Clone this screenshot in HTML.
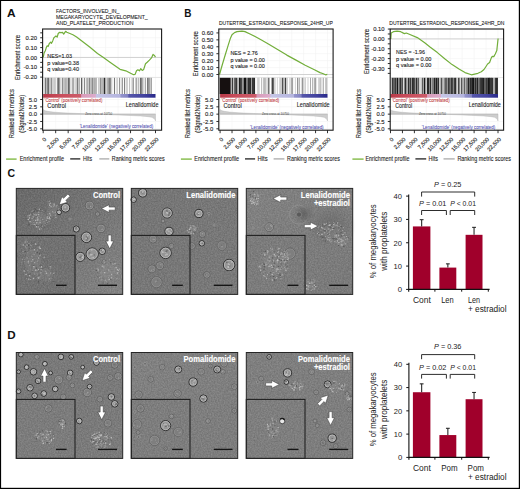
<!DOCTYPE html>
<html><head><meta charset="utf-8"><title>Figure</title><style>
html,body{margin:0;padding:0;background:#fff;width:520px;height:489px;overflow:hidden}
svg{display:block}
text{font-family:"Liberation Sans",sans-serif}
</style></head><body>
<svg width="520" height="489" viewBox="0 0 520 489">
<defs>
<linearGradient id="cb" x1="0" x2="1" y1="0" y2="0">
<stop offset="0" stop-color="#b83a48"/><stop offset="0.15" stop-color="#c84c5a"/><stop offset="0.335" stop-color="#cc5c6a"/>
<stop offset="0.342" stop-color="#d89ab8"/><stop offset="0.465" stop-color="#dcaccc"/>
<stop offset="0.472" stop-color="#c6c6e6"/><stop offset="0.685" stop-color="#b4b4de"/>
<stop offset="0.692" stop-color="#9494cc"/><stop offset="0.755" stop-color="#8282c2"/>
<stop offset="0.762" stop-color="#5656aa"/><stop offset="0.9" stop-color="#42429e"/><stop offset="1" stop-color="#282889"/>
</linearGradient>
<radialGradient id="bub"><stop offset="0" stop-color="#505050" stop-opacity="0.6"/><stop offset="0.5" stop-color="#5a5a5a" stop-opacity="0.35"/><stop offset="1" stop-color="#7a7a7a" stop-opacity="0"/></radialGradient>
<filter id="nf" x="0" y="0" width="100%" height="100%" color-interpolation-filters="sRGB"><feTurbulence type="fractalNoise" baseFrequency="0.7" numOctaves="2" seed="3"/><feColorMatrix type="matrix" values="1 0 0 0 0  1 0 0 0 0  1 0 0 0 0  0 0 0 0 1"/></filter>
<pattern id="noise" patternUnits="userSpaceOnUse" width="120" height="120"><rect width="120" height="120" filter="url(#nf)"/></pattern>
<linearGradient id="mg16_188" x1="0" y1="0" x2="1" y2="1"><stop offset="0" stop-color="#656565"/><stop offset="1" stop-color="#848484"/></linearGradient>
<linearGradient id="mg131_188" x1="0" y1="0" x2="1" y2="1"><stop offset="0" stop-color="#747474"/><stop offset="1" stop-color="#787878"/></linearGradient>
<linearGradient id="mg246_188" x1="0" y1="0" x2="1" y2="1"><stop offset="0" stop-color="#828282"/><stop offset="1" stop-color="#787878"/></linearGradient>
<linearGradient id="mg16_352" x1="0" y1="0" x2="1" y2="1"><stop offset="0" stop-color="#787878"/><stop offset="1" stop-color="#7a7a7a"/></linearGradient>
<linearGradient id="mg131_352" x1="0" y1="0" x2="1" y2="1"><stop offset="0" stop-color="#828282"/><stop offset="1" stop-color="#7c7c7c"/></linearGradient>
<linearGradient id="mg246_352" x1="0" y1="0" x2="1" y2="1"><stop offset="0" stop-color="#7f7f7f"/><stop offset="1" stop-color="#7d7d7d"/></linearGradient></defs>
<rect x="0" y="0" width="520" height="489" fill="#000"/>
<rect x="1.1" y="1.0" width="517.7" height="486.8" fill="#fff"/>
<line x1="43.20" y1="30.00" x2="43.20" y2="129.70" stroke="#f3f3f3" stroke-width="0.6" />
<line x1="55.68" y1="30.00" x2="55.68" y2="129.70" stroke="#f3f3f3" stroke-width="0.6" />
<line x1="68.16" y1="30.00" x2="68.16" y2="129.70" stroke="#f3f3f3" stroke-width="0.6" />
<line x1="80.63" y1="30.00" x2="80.63" y2="129.70" stroke="#f3f3f3" stroke-width="0.6" />
<line x1="93.11" y1="30.00" x2="93.11" y2="129.70" stroke="#f3f3f3" stroke-width="0.6" />
<line x1="105.59" y1="30.00" x2="105.59" y2="129.70" stroke="#f3f3f3" stroke-width="0.6" />
<line x1="118.07" y1="30.00" x2="118.07" y2="129.70" stroke="#f3f3f3" stroke-width="0.6" />
<line x1="130.54" y1="30.00" x2="130.54" y2="129.70" stroke="#f3f3f3" stroke-width="0.6" />
<line x1="143.02" y1="30.00" x2="143.02" y2="129.70" stroke="#f3f3f3" stroke-width="0.6" />
<line x1="155.50" y1="30.00" x2="155.50" y2="129.70" stroke="#f3f3f3" stroke-width="0.6" />
<line x1="42.60" y1="37.75" x2="161.60" y2="37.75" stroke="#f3f3f3" stroke-width="0.6" />
<line x1="42.60" y1="47.60" x2="161.60" y2="47.60" stroke="#f3f3f3" stroke-width="0.6" />
<line x1="42.60" y1="57.45" x2="161.60" y2="57.45" stroke="#f3f3f3" stroke-width="0.6" />
<line x1="42.60" y1="67.30" x2="161.60" y2="67.30" stroke="#f3f3f3" stroke-width="0.6" />
<line x1="42.60" y1="77.15" x2="161.60" y2="77.15" stroke="#f3f3f3" stroke-width="0.6" />
<line x1="42.60" y1="99.50" x2="161.60" y2="99.50" stroke="#f2f2f2" stroke-width="0.6" />
<line x1="42.60" y1="106.83" x2="161.60" y2="106.83" stroke="#f2f2f2" stroke-width="0.6" />
<line x1="42.60" y1="121.48" x2="161.60" y2="121.48" stroke="#f2f2f2" stroke-width="0.6" />
<line x1="42.60" y1="128.80" x2="161.60" y2="128.80" stroke="#f2f2f2" stroke-width="0.6" />
<line x1="42.60" y1="77.50" x2="161.60" y2="77.50" stroke="#d8d8d8" stroke-width="0.6" />
<line x1="42.60" y1="57.45" x2="161.60" y2="57.45" stroke="#c8c8c8" stroke-width="0.8" />
<rect x="44.83" y="77.80" width="0.74" height="16.20" fill="#141414" />
<rect x="46.54" y="77.80" width="1.25" height="16.20" fill="#6a6a6a" />
<rect x="48.20" y="77.80" width="0.74" height="16.20" fill="#3a3a3a" />
<rect x="49.39" y="77.80" width="0.77" height="16.20" fill="#a2a2a2" />
<rect x="50.68" y="77.80" width="1.05" height="16.20" fill="#6a6a6a" />
<rect x="52.41" y="77.80" width="1.03" height="16.20" fill="#b4b4b4" />
<rect x="53.81" y="77.80" width="0.77" height="16.20" fill="#a2a2a2" />
<rect x="55.39" y="77.80" width="0.76" height="16.20" fill="#b4b4b4" />
<rect x="57.28" y="77.80" width="1.03" height="16.20" fill="#6a6a6a" />
<rect x="58.44" y="77.80" width="1.00" height="16.20" fill="#1e1e1e" />
<rect x="60.37" y="77.80" width="1.05" height="16.20" fill="#c0c0c0" />
<rect x="62.16" y="77.80" width="1.12" height="16.20" fill="#7a7a7a" />
<rect x="63.68" y="77.80" width="1.00" height="16.20" fill="#a2a2a2" />
<rect x="65.17" y="77.80" width="1.29" height="16.20" fill="#a2a2a2" />
<rect x="66.66" y="77.80" width="0.79" height="16.20" fill="#888" />
<rect x="68.36" y="77.80" width="1.16" height="16.20" fill="#141414" />
<rect x="70.51" y="77.80" width="0.90" height="16.20" fill="#c0c0c0" />
<rect x="72.24" y="77.80" width="0.74" height="16.20" fill="#959595" />
<rect x="73.44" y="77.80" width="0.74" height="16.20" fill="#6a6a6a" />
<rect x="75.62" y="77.80" width="0.87" height="16.20" fill="#959595" />
<rect x="77.13" y="77.80" width="1.26" height="16.20" fill="#6a6a6a" />
<rect x="79.05" y="77.80" width="0.74" height="16.20" fill="#959595" />
<rect x="81.30" y="77.80" width="0.94" height="16.20" fill="#1e1e1e" />
<rect x="83.90" y="77.80" width="0.97" height="16.20" fill="#7a7a7a" />
<rect x="85.76" y="77.80" width="1.22" height="16.20" fill="#c0c0c0" />
<rect x="87.34" y="77.80" width="1.11" height="16.20" fill="#888" />
<rect x="89.18" y="77.80" width="0.81" height="16.20" fill="#6a6a6a" />
<rect x="90.43" y="77.80" width="1.20" height="16.20" fill="#959595" />
<rect x="91.91" y="77.80" width="0.95" height="16.20" fill="#7a7a7a" />
<rect x="93.50" y="77.80" width="1.11" height="16.20" fill="#7a7a7a" />
<rect x="95.50" y="77.80" width="0.97" height="16.20" fill="#6a6a6a" />
<rect x="97.93" y="77.80" width="1.18" height="16.20" fill="#cccccc" />
<rect x="99.74" y="77.80" width="0.99" height="16.20" fill="#6a6a6a" />
<rect x="101.49" y="77.80" width="0.96" height="16.20" fill="#7a7a7a" />
<rect x="102.85" y="77.80" width="0.70" height="16.20" fill="#6a6a6a" />
<rect x="103.97" y="77.80" width="1.07" height="16.20" fill="#2c2c2c" />
<rect x="105.28" y="77.80" width="0.79" height="16.20" fill="#959595" />
<rect x="106.65" y="77.80" width="0.98" height="16.20" fill="#888" />
<rect x="107.90" y="77.80" width="0.99" height="16.20" fill="#959595" />
<rect x="109.40" y="77.80" width="1.14" height="16.20" fill="#2c2c2c" />
<rect x="111.47" y="77.80" width="0.71" height="16.20" fill="#a2a2a2" />
<rect x="113.95" y="77.80" width="1.11" height="16.20" fill="#7a7a7a" />
<rect x="116.47" y="77.80" width="1.29" height="16.20" fill="#c0c0c0" />
<rect x="119.13" y="77.80" width="1.01" height="16.20" fill="#888" />
<rect x="121.72" y="77.80" width="1.02" height="16.20" fill="#7a7a7a" />
<rect x="124.07" y="77.80" width="1.07" height="16.20" fill="#7a7a7a" />
<rect x="126.41" y="77.80" width="1.18" height="16.20" fill="#b4b4b4" />
<rect x="129.03" y="77.80" width="0.82" height="16.20" fill="#b4b4b4" />
<rect x="131.51" y="77.80" width="1.08" height="16.20" fill="#c0c0c0" />
<rect x="132.75" y="77.80" width="1.07" height="16.20" fill="#888" />
<rect x="135.23" y="77.80" width="0.85" height="16.20" fill="#c0c0c0" />
<rect x="136.28" y="77.80" width="0.92" height="16.20" fill="#888" />
<rect x="138.09" y="77.80" width="1.09" height="16.20" fill="#b4b4b4" />
<rect x="139.92" y="77.80" width="1.30" height="16.20" fill="#6a6a6a" />
<rect x="141.14" y="77.80" width="1.09" height="16.20" fill="#7a7a7a" />
<rect x="142.47" y="77.80" width="0.85" height="16.20" fill="#888" />
<rect x="144.76" y="77.80" width="1.04" height="16.20" fill="#959595" />
<rect x="146.96" y="77.80" width="1.40" height="16.20" fill="#7a7a7a" />
<rect x="148.00" y="77.80" width="1.28" height="16.20" fill="#959595" />
<rect x="149.20" y="77.80" width="1.19" height="16.20" fill="#959595" />
<rect x="150.86" y="77.80" width="0.81" height="16.20" fill="#7a7a7a" />
<rect x="43.20" y="94.00" width="112.30" height="3.70" fill="url(#cb)" />
<path d="M43.20,114.15 L43.20,109.46 L43.95,110.19 L45.20,110.78 L47.69,111.37 L53.18,112.10 L63.16,112.83 L78.14,113.51 L96.85,114.15 L113.08,114.79 L128.05,115.38 L140.53,115.97 L148.01,116.64 L152.01,117.37 L154.00,118.55 L155.00,119.72 L155.50,120.89 L155.50,114.15 Z" fill="#cdcdcd" stroke="#b4b4b4" stroke-width="0.4"/>
<line x1="43.20" y1="114.15" x2="155.50" y2="114.15" stroke="#a8a8a8" stroke-width="0.5" />
<path d="M43.20,57.40 L44.10,53.10 L45.30,50.70 L46.30,47.60 L47.20,45.80 L48.20,46.40 L49.40,43.30 L50.60,42.10 L51.50,43.30 L52.70,40.90 L53.90,37.80 L55.20,36.60 L56.00,36.00 L57.20,37.20 L58.20,33.50 L59.40,32.30 L61.30,32.60 L62.50,32.30 L63.70,34.10 L65.60,31.30 L66.80,32.30 L69.30,33.30 L72.90,34.80 L76.60,37.00 L81.50,40.70 L90.00,47.20 L97.50,53.50 L103.10,57.30 L110.00,62.30 L114.30,65.30 L120.00,69.30 L125.80,70.80 L130.10,73.00 L133.60,74.70 L135.10,74.40 L136.50,70.80 L137.90,69.80 L139.40,70.80 L140.80,68.70 L142.20,70.40 L143.70,69.40 L145.50,63.70 L147.20,62.20 L149.40,60.10 L151.50,57.90 L153.00,54.40 L154.40,55.50 L155.50,57.20" fill="none" stroke="#72ae3a" stroke-width="1.2" stroke-linejoin="round"/>
<rect x="42.60" y="29.00" width="119.00" height="101.20" fill="none" stroke="#1a1a1a" stroke-width="1.1"/>
<line x1="40.20" y1="37.75" x2="42.60" y2="37.75" stroke="#1a1a1a" stroke-width="0.9" />
<text x="37.00" y="39.85" font-size="5.9" fill="#222" stroke="#222" stroke-width="0.12" text-anchor="end">0.20</text>
<line x1="40.20" y1="47.60" x2="42.60" y2="47.60" stroke="#1a1a1a" stroke-width="0.9" />
<text x="37.00" y="49.70" font-size="5.9" fill="#222" stroke="#222" stroke-width="0.12" text-anchor="end">0.10</text>
<line x1="40.20" y1="57.45" x2="42.60" y2="57.45" stroke="#1a1a1a" stroke-width="0.9" />
<text x="37.00" y="59.55" font-size="5.9" fill="#222" stroke="#222" stroke-width="0.12" text-anchor="end">0.00</text>
<line x1="40.20" y1="67.30" x2="42.60" y2="67.30" stroke="#1a1a1a" stroke-width="0.9" />
<text x="37.00" y="69.40" font-size="5.9" fill="#222" stroke="#222" stroke-width="0.12" text-anchor="end">-0.10</text>
<line x1="40.20" y1="77.15" x2="42.60" y2="77.15" stroke="#1a1a1a" stroke-width="0.9" />
<text x="37.00" y="79.25" font-size="5.9" fill="#222" stroke="#222" stroke-width="0.12" text-anchor="end">-0.20</text>
<line x1="40.20" y1="32.83" x2="42.60" y2="32.83" stroke="#1a1a1a" stroke-width="0.9" />
<line x1="40.20" y1="42.68" x2="42.60" y2="42.68" stroke="#1a1a1a" stroke-width="0.9" />
<line x1="40.20" y1="52.53" x2="42.60" y2="52.53" stroke="#1a1a1a" stroke-width="0.9" />
<line x1="40.20" y1="62.38" x2="42.60" y2="62.38" stroke="#1a1a1a" stroke-width="0.9" />
<line x1="40.20" y1="72.22" x2="42.60" y2="72.22" stroke="#1a1a1a" stroke-width="0.9" />
<line x1="40.20" y1="99.50" x2="42.60" y2="99.50" stroke="#1a1a1a" stroke-width="0.9" />
<text x="37.00" y="101.60" font-size="5.9" fill="#222" stroke="#222" stroke-width="0.12" text-anchor="end">5.0</text>
<line x1="40.20" y1="106.83" x2="42.60" y2="106.83" stroke="#1a1a1a" stroke-width="0.9" />
<text x="37.00" y="108.92" font-size="5.9" fill="#222" stroke="#222" stroke-width="0.12" text-anchor="end">2.5</text>
<line x1="40.20" y1="114.15" x2="42.60" y2="114.15" stroke="#1a1a1a" stroke-width="0.9" />
<text x="37.00" y="116.25" font-size="5.9" fill="#222" stroke="#222" stroke-width="0.12" text-anchor="end">0.0</text>
<line x1="40.20" y1="121.48" x2="42.60" y2="121.48" stroke="#1a1a1a" stroke-width="0.9" />
<text x="37.00" y="123.58" font-size="5.9" fill="#222" stroke="#222" stroke-width="0.12" text-anchor="end">-2.5</text>
<line x1="40.20" y1="128.80" x2="42.60" y2="128.80" stroke="#1a1a1a" stroke-width="0.9" />
<text x="37.00" y="130.90" font-size="5.9" fill="#222" stroke="#222" stroke-width="0.12" text-anchor="end">-5.0</text>
<line x1="43.20" y1="130.20" x2="43.20" y2="133.20" stroke="#1a1a1a" stroke-width="0.9" />
<text x="0" y="0" font-size="5.6" fill="#222" stroke="#222" stroke-width="0.12" text-anchor="end" transform="translate(46.70,139.70) rotate(-45)">0</text>
<line x1="55.68" y1="130.20" x2="55.68" y2="133.20" stroke="#1a1a1a" stroke-width="0.9" />
<text x="0" y="0" font-size="5.6" fill="#222" stroke="#222" stroke-width="0.12" text-anchor="end" transform="translate(59.18,139.70) rotate(-45)">2,500</text>
<line x1="68.16" y1="130.20" x2="68.16" y2="133.20" stroke="#1a1a1a" stroke-width="0.9" />
<text x="0" y="0" font-size="5.6" fill="#222" stroke="#222" stroke-width="0.12" text-anchor="end" transform="translate(71.66,139.70) rotate(-45)">5,000</text>
<line x1="80.63" y1="130.20" x2="80.63" y2="133.20" stroke="#1a1a1a" stroke-width="0.9" />
<text x="0" y="0" font-size="5.6" fill="#222" stroke="#222" stroke-width="0.12" text-anchor="end" transform="translate(84.13,139.70) rotate(-45)">7,500</text>
<line x1="93.11" y1="130.20" x2="93.11" y2="133.20" stroke="#1a1a1a" stroke-width="0.9" />
<text x="0" y="0" font-size="5.6" fill="#222" stroke="#222" stroke-width="0.12" text-anchor="end" transform="translate(96.61,139.70) rotate(-45)">10,000</text>
<line x1="105.59" y1="130.20" x2="105.59" y2="133.20" stroke="#1a1a1a" stroke-width="0.9" />
<text x="0" y="0" font-size="5.6" fill="#222" stroke="#222" stroke-width="0.12" text-anchor="end" transform="translate(109.09,139.70) rotate(-45)">12,500</text>
<line x1="118.07" y1="130.20" x2="118.07" y2="133.20" stroke="#1a1a1a" stroke-width="0.9" />
<text x="0" y="0" font-size="5.6" fill="#222" stroke="#222" stroke-width="0.12" text-anchor="end" transform="translate(121.57,139.70) rotate(-45)">15,000</text>
<line x1="130.54" y1="130.20" x2="130.54" y2="133.20" stroke="#1a1a1a" stroke-width="0.9" />
<text x="0" y="0" font-size="5.6" fill="#222" stroke="#222" stroke-width="0.12" text-anchor="end" transform="translate(134.04,139.70) rotate(-45)">17,500</text>
<line x1="143.02" y1="130.20" x2="143.02" y2="133.20" stroke="#1a1a1a" stroke-width="0.9" />
<text x="0" y="0" font-size="5.6" fill="#222" stroke="#222" stroke-width="0.12" text-anchor="end" transform="translate(146.52,139.70) rotate(-45)">20,000</text>
<line x1="155.50" y1="130.20" x2="155.50" y2="133.20" stroke="#1a1a1a" stroke-width="0.9" />
<text x="0" y="0" font-size="5.6" fill="#222" stroke="#222" stroke-width="0.12" text-anchor="end" transform="translate(159.00,139.70) rotate(-45)">22,500</text>
<text x="0" y="0" font-size="7.2" fill="#222" stroke="#222" stroke-width="0.1" text-anchor="middle" textLength="45.00" lengthAdjust="spacingAndGlyphs" transform="translate(20.20,57.50) rotate(-90)">Enrichment score</text>
<text x="0" y="0" font-size="7.2" fill="#222" stroke="#222" stroke-width="0.1" text-anchor="middle" textLength="49.00" lengthAdjust="spacingAndGlyphs" transform="translate(13.80,113.70) rotate(-90)">Ranked list metrics</text>
<text x="0" y="0" font-size="7.2" fill="#222" stroke="#222" stroke-width="0.1" text-anchor="middle" textLength="38.00" lengthAdjust="spacingAndGlyphs" transform="translate(23.50,113.80) rotate(-90)">(Signal2Noise)</text>
<text x="55.90" y="12.60" font-size="6.2" fill="#222" stroke="#222" stroke-width="0.1" textLength="63.50" lengthAdjust="spacingAndGlyphs">FACTORS_INVOLVED_IN_</text>
<text x="55.90" y="18.90" font-size="6.2" fill="#222" stroke="#222" stroke-width="0.1" textLength="91.80" lengthAdjust="spacingAndGlyphs">MEGAKARYOCYTE_DEVELOPMENT_</text>
<text x="55.90" y="25.30" font-size="6.2" fill="#222" stroke="#222" stroke-width="0.1" textLength="77.70" lengthAdjust="spacingAndGlyphs">AND_PLATELET_PRODUCTION</text>
<text x="47.30" y="58.20" font-size="6.2" fill="#222" stroke="#222" stroke-width="0.12" textLength="24.70" lengthAdjust="spacingAndGlyphs">NES=1.03</text>
<text x="47.30" y="64.90" font-size="6.2" fill="#222" stroke="#222" stroke-width="0.12" textLength="31.70" lengthAdjust="spacingAndGlyphs">p value=0.38</text>
<text x="47.30" y="71.10" font-size="6.2" fill="#222" stroke="#222" stroke-width="0.12" textLength="31.70" lengthAdjust="spacingAndGlyphs">q value=0.40</text>
<text x="47.20" y="107.90" font-size="7.0" fill="#222" stroke="#222" stroke-width="0.1" textLength="18.80" lengthAdjust="spacingAndGlyphs">Control</text>
<text x="125.80" y="107.30" font-size="7.0" fill="#222" stroke="#222" stroke-width="0.1" textLength="32.70" lengthAdjust="spacingAndGlyphs">Lenalidomide</text>
<text x="44.60" y="101.80" font-size="4.7" fill="#c03a40" stroke="#c03a40" stroke-width="0.06" textLength="57.80" lengthAdjust="spacingAndGlyphs">'Control' (positively correlated)</text>
<text x="79.70" y="127.70" font-size="4.6" fill="#4f4db0" stroke="#4f4db0" stroke-width="0.06" textLength="73.50" lengthAdjust="spacingAndGlyphs">'Lenalidomide' (negatively correlated)</text>
<text x="85.20" y="114.60" font-size="3.0" fill="#444" textLength="27.00" lengthAdjust="spacingAndGlyphs">Zero cross at 10750</text>
<line x1="220.10" y1="30.00" x2="220.10" y2="129.70" stroke="#f3f3f3" stroke-width="0.6" />
<line x1="232.03" y1="30.00" x2="232.03" y2="129.70" stroke="#f3f3f3" stroke-width="0.6" />
<line x1="243.97" y1="30.00" x2="243.97" y2="129.70" stroke="#f3f3f3" stroke-width="0.6" />
<line x1="255.90" y1="30.00" x2="255.90" y2="129.70" stroke="#f3f3f3" stroke-width="0.6" />
<line x1="267.83" y1="30.00" x2="267.83" y2="129.70" stroke="#f3f3f3" stroke-width="0.6" />
<line x1="279.77" y1="30.00" x2="279.77" y2="129.70" stroke="#f3f3f3" stroke-width="0.6" />
<line x1="291.70" y1="30.00" x2="291.70" y2="129.70" stroke="#f3f3f3" stroke-width="0.6" />
<line x1="303.63" y1="30.00" x2="303.63" y2="129.70" stroke="#f3f3f3" stroke-width="0.6" />
<line x1="315.57" y1="30.00" x2="315.57" y2="129.70" stroke="#f3f3f3" stroke-width="0.6" />
<line x1="327.50" y1="30.00" x2="327.50" y2="129.70" stroke="#f3f3f3" stroke-width="0.6" />
<line x1="218.80" y1="32.92" x2="333.10" y2="32.92" stroke="#f3f3f3" stroke-width="0.6" />
<line x1="218.80" y1="39.85" x2="333.10" y2="39.85" stroke="#f3f3f3" stroke-width="0.6" />
<line x1="218.80" y1="46.78" x2="333.10" y2="46.78" stroke="#f3f3f3" stroke-width="0.6" />
<line x1="218.80" y1="53.71" x2="333.10" y2="53.71" stroke="#f3f3f3" stroke-width="0.6" />
<line x1="218.80" y1="60.64" x2="333.10" y2="60.64" stroke="#f3f3f3" stroke-width="0.6" />
<line x1="218.80" y1="67.57" x2="333.10" y2="67.57" stroke="#f3f3f3" stroke-width="0.6" />
<line x1="218.80" y1="74.50" x2="333.10" y2="74.50" stroke="#f3f3f3" stroke-width="0.6" />
<line x1="218.80" y1="99.50" x2="333.10" y2="99.50" stroke="#f2f2f2" stroke-width="0.6" />
<line x1="218.80" y1="106.83" x2="333.10" y2="106.83" stroke="#f2f2f2" stroke-width="0.6" />
<line x1="218.80" y1="121.48" x2="333.10" y2="121.48" stroke="#f2f2f2" stroke-width="0.6" />
<line x1="218.80" y1="128.80" x2="333.10" y2="128.80" stroke="#f2f2f2" stroke-width="0.6" />
<line x1="218.80" y1="77.50" x2="333.10" y2="77.50" stroke="#d8d8d8" stroke-width="0.6" />
<line x1="218.80" y1="74.50" x2="333.10" y2="74.50" stroke="#c8c8c8" stroke-width="0.8" />
<rect x="219.70" y="77.80" width="11.00" height="16.20" fill="#161010" />
<rect x="231.66" y="77.80" width="1.20" height="16.20" fill="#1e1e1e" />
<rect x="233.54" y="77.80" width="0.92" height="16.20" fill="#7a7a7a" />
<rect x="234.42" y="77.80" width="1.08" height="16.20" fill="#2c2c2c" />
<rect x="235.40" y="77.80" width="1.53" height="16.20" fill="#2c2c2c" />
<rect x="237.06" y="77.80" width="1.19" height="16.20" fill="#a2a2a2" />
<rect x="238.81" y="77.80" width="1.27" height="16.20" fill="#1e1e1e" />
<rect x="239.52" y="77.80" width="1.33" height="16.20" fill="#1e1e1e" />
<rect x="241.19" y="77.80" width="1.23" height="16.20" fill="#1e1e1e" />
<rect x="242.68" y="77.80" width="1.38" height="16.20" fill="#888" />
<rect x="243.95" y="77.80" width="1.52" height="16.20" fill="#141414" />
<rect x="244.77" y="77.80" width="1.44" height="16.20" fill="#141414" />
<rect x="246.19" y="77.80" width="1.21" height="16.20" fill="#6a6a6a" />
<rect x="247.54" y="77.80" width="1.38" height="16.20" fill="#1e1e1e" />
<rect x="248.85" y="77.80" width="1.26" height="16.20" fill="#3a3a3a" />
<rect x="249.71" y="77.80" width="1.55" height="16.20" fill="#2c2c2c" />
<rect x="251.74" y="77.80" width="1.00" height="16.20" fill="#3a3a3a" />
<rect x="252.41" y="77.80" width="1.37" height="16.20" fill="#141414" />
<rect x="253.59" y="77.80" width="1.45" height="16.20" fill="#2c2c2c" />
<rect x="256.97" y="77.80" width="0.82" height="16.20" fill="#cccccc" />
<rect x="258.57" y="77.80" width="0.73" height="16.20" fill="#959595" />
<rect x="261.40" y="77.80" width="0.70" height="16.20" fill="#959595" />
<rect x="263.45" y="77.80" width="1.20" height="16.20" fill="#959595" />
<rect x="265.48" y="77.80" width="0.79" height="16.20" fill="#888" />
<rect x="267.84" y="77.80" width="0.86" height="16.20" fill="#3a3a3a" />
<rect x="269.02" y="77.80" width="0.78" height="16.20" fill="#a2a2a2" />
<rect x="271.65" y="77.80" width="1.18" height="16.20" fill="#1e1e1e" />
<rect x="272.96" y="77.80" width="1.14" height="16.20" fill="#6a6a6a" />
<rect x="274.40" y="77.80" width="1.11" height="16.20" fill="#c0c0c0" />
<rect x="276.93" y="77.80" width="0.69" height="16.20" fill="#c0c0c0" />
<rect x="279.70" y="77.80" width="0.65" height="16.20" fill="#888" />
<rect x="280.66" y="77.80" width="1.14" height="16.20" fill="#c0c0c0" />
<rect x="282.27" y="77.80" width="1.08" height="16.20" fill="#141414" />
<rect x="283.68" y="77.80" width="0.76" height="16.20" fill="#b4b4b4" />
<rect x="284.80" y="77.80" width="1.16" height="16.20" fill="#3a3a3a" />
<rect x="286.45" y="77.80" width="1.03" height="16.20" fill="#a2a2a2" />
<rect x="289.44" y="77.80" width="0.63" height="16.20" fill="#c0c0c0" />
<rect x="290.76" y="77.80" width="0.92" height="16.20" fill="#888" />
<rect x="292.31" y="77.80" width="0.76" height="16.20" fill="#7a7a7a" />
<rect x="294.93" y="77.80" width="0.61" height="16.20" fill="#b4b4b4" />
<rect x="297.20" y="77.80" width="0.91" height="16.20" fill="#7a7a7a" />
<rect x="298.70" y="77.80" width="0.99" height="16.20" fill="#959595" />
<rect x="300.89" y="77.80" width="0.78" height="16.20" fill="#cccccc" />
<rect x="302.22" y="77.80" width="1.10" height="16.20" fill="#7a7a7a" />
<rect x="304.54" y="77.80" width="1.19" height="16.20" fill="#c0c0c0" />
<rect x="307.68" y="77.80" width="0.64" height="16.20" fill="#b4b4b4" />
<rect x="310.12" y="77.80" width="0.63" height="16.20" fill="#7a7a7a" />
<rect x="312.24" y="77.80" width="1.00" height="16.20" fill="#a2a2a2" />
<rect x="314.03" y="77.80" width="0.63" height="16.20" fill="#888" />
<rect x="315.40" y="77.80" width="0.76" height="16.20" fill="#6a6a6a" />
<rect x="318.21" y="77.80" width="0.79" height="16.20" fill="#cccccc" />
<rect x="319.36" y="77.80" width="0.81" height="16.20" fill="#b4b4b4" />
<rect x="320.49" y="77.80" width="0.77" height="16.20" fill="#959595" />
<rect x="322.83" y="77.80" width="0.65" height="16.20" fill="#6a6a6a" />
<rect x="325.41" y="77.80" width="0.63" height="16.20" fill="#a2a2a2" />
<rect x="326.54" y="77.80" width="0.65" height="16.20" fill="#7a7a7a" />
<rect x="220.10" y="94.00" width="107.40" height="3.70" fill="url(#cb)" />
<path d="M220.10,114.15 L220.10,109.46 L220.82,110.19 L222.01,110.78 L224.40,111.37 L229.65,112.10 L239.19,112.83 L253.51,113.51 L271.41,114.15 L286.93,114.79 L301.25,115.38 L313.18,115.97 L320.34,116.64 L324.16,117.37 L326.07,118.55 L327.02,119.72 L327.50,120.89 L327.50,114.15 Z" fill="#cdcdcd" stroke="#b4b4b4" stroke-width="0.4"/>
<line x1="220.10" y1="114.15" x2="327.50" y2="114.15" stroke="#a8a8a8" stroke-width="0.5" />
<path d="M219.50,74.50 L222.50,64.00 L225.20,55.00 L228.00,45.80 L230.30,38.60 L232.00,34.80 L234.50,32.60 L237.00,31.60 L242.00,31.10 L245.00,31.60 L250.00,34.00 L256.00,37.00 L261.00,39.80 L268.40,44.00 L277.60,49.60 L286.80,55.10 L296.00,60.10 L305.20,65.20 L314.40,69.80 L320.00,72.60 L322.70,73.50 L325.50,74.80 L327.30,74.40" fill="none" stroke="#72ae3a" stroke-width="1.2" stroke-linejoin="round"/>
<rect x="218.80" y="29.00" width="114.30" height="101.20" fill="none" stroke="#1a1a1a" stroke-width="1.1"/>
<line x1="216.40" y1="32.92" x2="218.80" y2="32.92" stroke="#1a1a1a" stroke-width="0.9" />
<text x="213.20" y="35.02" font-size="5.9" fill="#222" stroke="#222" stroke-width="0.12" text-anchor="end">0.60</text>
<line x1="216.40" y1="39.85" x2="218.80" y2="39.85" stroke="#1a1a1a" stroke-width="0.9" />
<text x="213.20" y="41.95" font-size="5.9" fill="#222" stroke="#222" stroke-width="0.12" text-anchor="end">0.50</text>
<line x1="216.40" y1="46.78" x2="218.80" y2="46.78" stroke="#1a1a1a" stroke-width="0.9" />
<text x="213.20" y="48.88" font-size="5.9" fill="#222" stroke="#222" stroke-width="0.12" text-anchor="end">0.40</text>
<line x1="216.40" y1="53.71" x2="218.80" y2="53.71" stroke="#1a1a1a" stroke-width="0.9" />
<text x="213.20" y="55.81" font-size="5.9" fill="#222" stroke="#222" stroke-width="0.12" text-anchor="end">0.30</text>
<line x1="216.40" y1="60.64" x2="218.80" y2="60.64" stroke="#1a1a1a" stroke-width="0.9" />
<text x="213.20" y="62.74" font-size="5.9" fill="#222" stroke="#222" stroke-width="0.12" text-anchor="end">0.20</text>
<line x1="216.40" y1="67.57" x2="218.80" y2="67.57" stroke="#1a1a1a" stroke-width="0.9" />
<text x="213.20" y="69.67" font-size="5.9" fill="#222" stroke="#222" stroke-width="0.12" text-anchor="end">0.10</text>
<line x1="216.40" y1="74.50" x2="218.80" y2="74.50" stroke="#1a1a1a" stroke-width="0.9" />
<text x="213.20" y="76.60" font-size="5.9" fill="#222" stroke="#222" stroke-width="0.12" text-anchor="end">0.00</text>
<line x1="216.40" y1="99.50" x2="218.80" y2="99.50" stroke="#1a1a1a" stroke-width="0.9" />
<text x="213.20" y="101.60" font-size="5.9" fill="#222" stroke="#222" stroke-width="0.12" text-anchor="end">5.0</text>
<line x1="216.40" y1="106.83" x2="218.80" y2="106.83" stroke="#1a1a1a" stroke-width="0.9" />
<text x="213.20" y="108.92" font-size="5.9" fill="#222" stroke="#222" stroke-width="0.12" text-anchor="end">2.5</text>
<line x1="216.40" y1="114.15" x2="218.80" y2="114.15" stroke="#1a1a1a" stroke-width="0.9" />
<text x="213.20" y="116.25" font-size="5.9" fill="#222" stroke="#222" stroke-width="0.12" text-anchor="end">0.0</text>
<line x1="216.40" y1="121.48" x2="218.80" y2="121.48" stroke="#1a1a1a" stroke-width="0.9" />
<text x="213.20" y="123.58" font-size="5.9" fill="#222" stroke="#222" stroke-width="0.12" text-anchor="end">-2.5</text>
<line x1="216.40" y1="128.80" x2="218.80" y2="128.80" stroke="#1a1a1a" stroke-width="0.9" />
<text x="213.20" y="130.90" font-size="5.9" fill="#222" stroke="#222" stroke-width="0.12" text-anchor="end">-5.0</text>
<line x1="220.10" y1="130.20" x2="220.10" y2="133.20" stroke="#1a1a1a" stroke-width="0.9" />
<text x="0" y="0" font-size="5.6" fill="#222" stroke="#222" stroke-width="0.12" text-anchor="end" transform="translate(223.60,139.70) rotate(-45)">0</text>
<line x1="232.03" y1="130.20" x2="232.03" y2="133.20" stroke="#1a1a1a" stroke-width="0.9" />
<text x="0" y="0" font-size="5.6" fill="#222" stroke="#222" stroke-width="0.12" text-anchor="end" transform="translate(235.53,139.70) rotate(-45)">2,500</text>
<line x1="243.97" y1="130.20" x2="243.97" y2="133.20" stroke="#1a1a1a" stroke-width="0.9" />
<text x="0" y="0" font-size="5.6" fill="#222" stroke="#222" stroke-width="0.12" text-anchor="end" transform="translate(247.47,139.70) rotate(-45)">5,000</text>
<line x1="255.90" y1="130.20" x2="255.90" y2="133.20" stroke="#1a1a1a" stroke-width="0.9" />
<text x="0" y="0" font-size="5.6" fill="#222" stroke="#222" stroke-width="0.12" text-anchor="end" transform="translate(259.40,139.70) rotate(-45)">7,500</text>
<line x1="267.83" y1="130.20" x2="267.83" y2="133.20" stroke="#1a1a1a" stroke-width="0.9" />
<text x="0" y="0" font-size="5.6" fill="#222" stroke="#222" stroke-width="0.12" text-anchor="end" transform="translate(271.33,139.70) rotate(-45)">10,000</text>
<line x1="279.77" y1="130.20" x2="279.77" y2="133.20" stroke="#1a1a1a" stroke-width="0.9" />
<text x="0" y="0" font-size="5.6" fill="#222" stroke="#222" stroke-width="0.12" text-anchor="end" transform="translate(283.27,139.70) rotate(-45)">12,500</text>
<line x1="291.70" y1="130.20" x2="291.70" y2="133.20" stroke="#1a1a1a" stroke-width="0.9" />
<text x="0" y="0" font-size="5.6" fill="#222" stroke="#222" stroke-width="0.12" text-anchor="end" transform="translate(295.20,139.70) rotate(-45)">15,000</text>
<line x1="303.63" y1="130.20" x2="303.63" y2="133.20" stroke="#1a1a1a" stroke-width="0.9" />
<text x="0" y="0" font-size="5.6" fill="#222" stroke="#222" stroke-width="0.12" text-anchor="end" transform="translate(307.13,139.70) rotate(-45)">17,500</text>
<line x1="315.57" y1="130.20" x2="315.57" y2="133.20" stroke="#1a1a1a" stroke-width="0.9" />
<text x="0" y="0" font-size="5.6" fill="#222" stroke="#222" stroke-width="0.12" text-anchor="end" transform="translate(319.07,139.70) rotate(-45)">20,000</text>
<line x1="327.50" y1="130.20" x2="327.50" y2="133.20" stroke="#1a1a1a" stroke-width="0.9" />
<text x="0" y="0" font-size="5.6" fill="#222" stroke="#222" stroke-width="0.12" text-anchor="end" transform="translate(331.00,139.70) rotate(-45)">22,500</text>
<text x="0" y="0" font-size="7.2" fill="#222" stroke="#222" stroke-width="0.1" text-anchor="middle" textLength="45.00" lengthAdjust="spacingAndGlyphs" transform="translate(197.80,53.70) rotate(-90)">Enrichment score</text>
<text x="0" y="0" font-size="7.2" fill="#222" stroke="#222" stroke-width="0.1" text-anchor="middle" textLength="49.00" lengthAdjust="spacingAndGlyphs" transform="translate(190.00,113.70) rotate(-90)">Ranked list metrics</text>
<text x="0" y="0" font-size="7.2" fill="#222" stroke="#222" stroke-width="0.1" text-anchor="middle" textLength="38.00" lengthAdjust="spacingAndGlyphs" transform="translate(199.70,113.80) rotate(-90)">(Signal2Noise)</text>
<text x="219.00" y="25.00" font-size="6.2" fill="#222" stroke="#222" stroke-width="0.1" textLength="113.80" lengthAdjust="spacingAndGlyphs">DUTERTRE_ESTRADIOL_RESPONSE_24HR_UP</text>
<text x="230.40" y="55.40" font-size="6.2" fill="#222" stroke="#222" stroke-width="0.12" textLength="27.30" lengthAdjust="spacingAndGlyphs">NES = 2.76</text>
<text x="230.40" y="61.60" font-size="6.2" fill="#222" stroke="#222" stroke-width="0.12" textLength="34.30" lengthAdjust="spacingAndGlyphs">p value = 0.00</text>
<text x="230.40" y="67.80" font-size="6.2" fill="#222" stroke="#222" stroke-width="0.12" textLength="34.30" lengthAdjust="spacingAndGlyphs">q value = 0.00</text>
<text x="223.40" y="107.90" font-size="7.0" fill="#222" stroke="#222" stroke-width="0.1" textLength="18.40" lengthAdjust="spacingAndGlyphs">Control</text>
<text x="296.80" y="107.30" font-size="7.0" fill="#222" stroke="#222" stroke-width="0.1" textLength="32.90" lengthAdjust="spacingAndGlyphs">Lenalidomide</text>
<text x="221.50" y="101.80" font-size="4.7" fill="#c03a40" stroke="#c03a40" stroke-width="0.06" textLength="57.80" lengthAdjust="spacingAndGlyphs">'Control' (positively correlated)</text>
<text x="250.10" y="128.50" font-size="4.6" fill="#4f4db0" stroke="#4f4db0" stroke-width="0.06" textLength="73.50" lengthAdjust="spacingAndGlyphs">'Lenalidomide' (negatively correlated)</text>
<text x="262.00" y="114.60" font-size="3.0" fill="#444" textLength="27.00" lengthAdjust="spacingAndGlyphs">Zero cross at 10750</text>
<line x1="390.50" y1="30.00" x2="390.50" y2="129.70" stroke="#f3f3f3" stroke-width="0.6" />
<line x1="402.44" y1="30.00" x2="402.44" y2="129.70" stroke="#f3f3f3" stroke-width="0.6" />
<line x1="414.39" y1="30.00" x2="414.39" y2="129.70" stroke="#f3f3f3" stroke-width="0.6" />
<line x1="426.33" y1="30.00" x2="426.33" y2="129.70" stroke="#f3f3f3" stroke-width="0.6" />
<line x1="438.28" y1="30.00" x2="438.28" y2="129.70" stroke="#f3f3f3" stroke-width="0.6" />
<line x1="450.22" y1="30.00" x2="450.22" y2="129.70" stroke="#f3f3f3" stroke-width="0.6" />
<line x1="462.17" y1="30.00" x2="462.17" y2="129.70" stroke="#f3f3f3" stroke-width="0.6" />
<line x1="474.11" y1="30.00" x2="474.11" y2="129.70" stroke="#f3f3f3" stroke-width="0.6" />
<line x1="486.06" y1="30.00" x2="486.06" y2="129.70" stroke="#f3f3f3" stroke-width="0.6" />
<line x1="498.00" y1="30.00" x2="498.00" y2="129.70" stroke="#f3f3f3" stroke-width="0.6" />
<line x1="390.20" y1="29.05" x2="503.60" y2="29.05" stroke="#f3f3f3" stroke-width="0.6" />
<line x1="390.20" y1="38.90" x2="503.60" y2="38.90" stroke="#f3f3f3" stroke-width="0.6" />
<line x1="390.20" y1="48.75" x2="503.60" y2="48.75" stroke="#f3f3f3" stroke-width="0.6" />
<line x1="390.20" y1="58.60" x2="503.60" y2="58.60" stroke="#f3f3f3" stroke-width="0.6" />
<line x1="390.20" y1="68.45" x2="503.60" y2="68.45" stroke="#f3f3f3" stroke-width="0.6" />
<line x1="390.20" y1="99.50" x2="503.60" y2="99.50" stroke="#f2f2f2" stroke-width="0.6" />
<line x1="390.20" y1="106.83" x2="503.60" y2="106.83" stroke="#f2f2f2" stroke-width="0.6" />
<line x1="390.20" y1="121.48" x2="503.60" y2="121.48" stroke="#f2f2f2" stroke-width="0.6" />
<line x1="390.20" y1="128.80" x2="503.60" y2="128.80" stroke="#f2f2f2" stroke-width="0.6" />
<line x1="390.20" y1="77.50" x2="503.60" y2="77.50" stroke="#d8d8d8" stroke-width="0.6" />
<line x1="390.20" y1="38.90" x2="503.60" y2="38.90" stroke="#c8c8c8" stroke-width="0.8" />
<rect x="391.66" y="77.80" width="1.44" height="16.20" fill="#3a3a3a" />
<rect x="393.29" y="77.80" width="1.41" height="16.20" fill="#2c2c2c" />
<rect x="394.81" y="77.80" width="1.41" height="16.20" fill="#3a3a3a" />
<rect x="396.51" y="77.80" width="1.48" height="16.20" fill="#141414" />
<rect x="398.22" y="77.80" width="0.96" height="16.20" fill="#7a7a7a" />
<rect x="398.91" y="77.80" width="1.16" height="16.20" fill="#6a6a6a" />
<rect x="400.12" y="77.80" width="1.34" height="16.20" fill="#141414" />
<rect x="401.75" y="77.80" width="1.22" height="16.20" fill="#141414" />
<rect x="402.70" y="77.80" width="0.96" height="16.20" fill="#cccccc" />
<rect x="404.03" y="77.80" width="1.08" height="16.20" fill="#959595" />
<rect x="404.87" y="77.80" width="1.06" height="16.20" fill="#1e1e1e" />
<rect x="406.45" y="77.80" width="0.95" height="16.20" fill="#3a3a3a" />
<rect x="408.11" y="77.80" width="1.33" height="16.20" fill="#141414" />
<rect x="409.74" y="77.80" width="1.13" height="16.20" fill="#1e1e1e" />
<rect x="411.19" y="77.80" width="1.30" height="16.20" fill="#a2a2a2" />
<rect x="411.80" y="77.80" width="1.58" height="16.20" fill="#2c2c2c" />
<rect x="412.91" y="77.80" width="1.10" height="16.20" fill="#3a3a3a" />
<rect x="414.11" y="77.80" width="1.44" height="16.20" fill="#3a3a3a" />
<rect x="415.99" y="77.80" width="1.58" height="16.20" fill="#2c2c2c" />
<rect x="418.18" y="77.80" width="0.95" height="16.20" fill="#3a3a3a" />
<rect x="419.43" y="77.80" width="1.17" height="16.20" fill="#c0c0c0" />
<rect x="421.22" y="77.80" width="1.31" height="16.20" fill="#b4b4b4" />
<rect x="422.29" y="77.80" width="0.99" height="16.20" fill="#2c2c2c" />
<rect x="423.83" y="77.80" width="1.39" height="16.20" fill="#141414" />
<rect x="424.96" y="77.80" width="1.18" height="16.20" fill="#959595" />
<rect x="425.88" y="77.80" width="1.22" height="16.20" fill="#cccccc" />
<rect x="427.01" y="77.80" width="1.16" height="16.20" fill="#2c2c2c" />
<rect x="427.77" y="77.80" width="1.43" height="16.20" fill="#2c2c2c" />
<rect x="429.55" y="77.80" width="1.40" height="16.20" fill="#1e1e1e" />
<rect x="431.61" y="77.80" width="0.95" height="16.20" fill="#2c2c2c" />
<rect x="432.72" y="77.80" width="1.15" height="16.20" fill="#6a6a6a" />
<rect x="434.01" y="77.80" width="1.10" height="16.20" fill="#141414" />
<rect x="434.83" y="77.80" width="1.07" height="16.20" fill="#7a7a7a" />
<rect x="435.71" y="77.80" width="1.44" height="16.20" fill="#1e1e1e" />
<rect x="437.40" y="77.80" width="1.47" height="16.20" fill="#141414" />
<rect x="439.00" y="77.80" width="1.28" height="16.20" fill="#cccccc" />
<rect x="440.65" y="77.80" width="1.22" height="16.20" fill="#3a3a3a" />
<rect x="442.29" y="77.80" width="1.24" height="16.20" fill="#888" />
<rect x="444.15" y="77.80" width="1.23" height="16.20" fill="#7a7a7a" />
<rect x="445.33" y="77.80" width="1.18" height="16.20" fill="#2c2c2c" />
<rect x="446.46" y="77.80" width="0.98" height="16.20" fill="#3a3a3a" />
<rect x="447.84" y="77.80" width="1.29" height="16.20" fill="#3a3a3a" />
<rect x="449.17" y="77.80" width="1.20" height="16.20" fill="#3a3a3a" />
<rect x="450.61" y="77.80" width="1.14" height="16.20" fill="#1e1e1e" />
<rect x="451.30" y="77.80" width="1.47" height="16.20" fill="#2c2c2c" />
<rect x="452.44" y="77.80" width="1.17" height="16.20" fill="#3a3a3a" />
<rect x="454.10" y="77.80" width="1.14" height="16.20" fill="#2c2c2c" />
<rect x="454.99" y="77.80" width="0.99" height="16.20" fill="#2c2c2c" />
<rect x="456.36" y="77.80" width="0.96" height="16.20" fill="#7a7a7a" />
<rect x="458.07" y="77.80" width="1.20" height="16.20" fill="#3a3a3a" />
<rect x="459.30" y="77.80" width="0.99" height="16.20" fill="#6a6a6a" />
<rect x="461.06" y="77.80" width="1.10" height="16.20" fill="#3a3a3a" />
<rect x="461.80" y="77.80" width="1.96" height="16.20" fill="#a2a2a2" />
<rect x="463.97" y="77.80" width="1.32" height="16.20" fill="#141414" />
<rect x="464.51" y="77.80" width="2.04" height="16.20" fill="#b4b4b4" />
<rect x="466.49" y="77.80" width="1.19" height="16.20" fill="#3a3a3a" />
<rect x="468.04" y="77.80" width="1.33" height="16.20" fill="#1e1e1e" />
<rect x="469.47" y="77.80" width="2.06" height="16.20" fill="#2c2c2c" />
<rect x="471.05" y="77.80" width="1.80" height="16.20" fill="#3a3a3a" />
<rect x="472.05" y="77.80" width="1.49" height="16.20" fill="#1e1e1e" />
<rect x="472.95" y="77.80" width="1.64" height="16.20" fill="#141414" />
<rect x="474.78" y="77.80" width="1.74" height="16.20" fill="#2c2c2c" />
<rect x="476.58" y="77.80" width="1.65" height="16.20" fill="#1e1e1e" />
<rect x="477.57" y="77.80" width="1.16" height="16.20" fill="#2c2c2c" />
<rect x="478.50" y="77.80" width="1.18" height="16.20" fill="#959595" />
<rect x="479.41" y="77.80" width="1.33" height="16.20" fill="#2c2c2c" />
<rect x="480.10" y="77.80" width="1.46" height="16.20" fill="#3a3a3a" />
<rect x="481.09" y="77.80" width="1.84" height="16.20" fill="#2c2c2c" />
<rect x="482.61" y="77.80" width="1.41" height="16.20" fill="#1e1e1e" />
<rect x="484.31" y="77.80" width="1.37" height="16.20" fill="#1e1e1e" />
<rect x="485.89" y="77.80" width="1.71" height="16.20" fill="#3a3a3a" />
<rect x="487.48" y="77.80" width="2.05" height="16.20" fill="#141414" />
<rect x="488.83" y="77.80" width="1.12" height="16.20" fill="#1e1e1e" />
<rect x="490.17" y="77.80" width="1.28" height="16.20" fill="#141414" />
<rect x="491.13" y="77.80" width="1.83" height="16.20" fill="#2c2c2c" />
<rect x="493.28" y="77.80" width="1.29" height="16.20" fill="#888" />
<rect x="494.84" y="77.80" width="1.13" height="16.20" fill="#3a3a3a" />
<rect x="495.86" y="77.80" width="2.08" height="16.20" fill="#2c2c2c" />
<rect x="390.50" y="94.00" width="107.50" height="3.70" fill="url(#cb)" />
<path d="M390.50,114.15 L390.50,109.46 L391.22,110.19 L392.41,110.78 L394.80,111.37 L400.06,112.10 L409.61,112.83 L423.94,113.51 L441.86,114.15 L457.39,114.79 L471.72,115.38 L483.67,115.97 L490.83,116.64 L494.66,117.37 L496.57,118.55 L497.52,119.72 L498.00,120.89 L498.00,114.15 Z" fill="#cdcdcd" stroke="#b4b4b4" stroke-width="0.4"/>
<line x1="390.50" y1="114.15" x2="498.00" y2="114.15" stroke="#a8a8a8" stroke-width="0.5" />
<path d="M390.80,38.90 L391.20,33.00 L393.40,31.70 L397.10,31.20 L400.70,31.70 L404.40,33.60 L406.30,33.00 L409.90,34.50 L417.30,37.60 L424.70,42.80 L430.00,47.00 L437.40,52.60 L444.70,58.80 L452.10,64.60 L459.40,69.30 L465.00,72.60 L471.40,74.80 L477.90,73.30 L481.30,71.80 L484.00,69.50 L486.00,66.50 L487.60,64.00 L489.60,62.50 L491.40,57.60 L492.30,56.40 L493.80,56.60 L495.40,53.80 L496.80,50.60 L497.50,44.00 L498.10,38.50" fill="none" stroke="#72ae3a" stroke-width="1.2" stroke-linejoin="round"/>
<rect x="390.20" y="29.00" width="113.40" height="101.20" fill="none" stroke="#1a1a1a" stroke-width="1.1"/>
<line x1="387.80" y1="29.05" x2="390.20" y2="29.05" stroke="#1a1a1a" stroke-width="0.9" />
<text x="384.60" y="31.15" font-size="5.9" fill="#222" stroke="#222" stroke-width="0.12" text-anchor="end">0.10</text>
<line x1="387.80" y1="38.90" x2="390.20" y2="38.90" stroke="#1a1a1a" stroke-width="0.9" />
<text x="384.60" y="41.00" font-size="5.9" fill="#222" stroke="#222" stroke-width="0.12" text-anchor="end">0.00</text>
<line x1="387.80" y1="48.75" x2="390.20" y2="48.75" stroke="#1a1a1a" stroke-width="0.9" />
<text x="384.60" y="50.85" font-size="5.9" fill="#222" stroke="#222" stroke-width="0.12" text-anchor="end">-0.10</text>
<line x1="387.80" y1="58.60" x2="390.20" y2="58.60" stroke="#1a1a1a" stroke-width="0.9" />
<text x="384.60" y="60.70" font-size="5.9" fill="#222" stroke="#222" stroke-width="0.12" text-anchor="end">-0.20</text>
<line x1="387.80" y1="68.45" x2="390.20" y2="68.45" stroke="#1a1a1a" stroke-width="0.9" />
<text x="384.60" y="70.55" font-size="5.9" fill="#222" stroke="#222" stroke-width="0.12" text-anchor="end">-0.30</text>
<line x1="387.80" y1="33.97" x2="390.20" y2="33.97" stroke="#1a1a1a" stroke-width="0.9" />
<line x1="387.80" y1="43.83" x2="390.20" y2="43.83" stroke="#1a1a1a" stroke-width="0.9" />
<line x1="387.80" y1="53.67" x2="390.20" y2="53.67" stroke="#1a1a1a" stroke-width="0.9" />
<line x1="387.80" y1="63.52" x2="390.20" y2="63.52" stroke="#1a1a1a" stroke-width="0.9" />
<line x1="387.80" y1="73.38" x2="390.20" y2="73.38" stroke="#1a1a1a" stroke-width="0.9" />
<line x1="387.80" y1="99.50" x2="390.20" y2="99.50" stroke="#1a1a1a" stroke-width="0.9" />
<text x="384.60" y="101.60" font-size="5.9" fill="#222" stroke="#222" stroke-width="0.12" text-anchor="end">5.0</text>
<line x1="387.80" y1="106.83" x2="390.20" y2="106.83" stroke="#1a1a1a" stroke-width="0.9" />
<text x="384.60" y="108.92" font-size="5.9" fill="#222" stroke="#222" stroke-width="0.12" text-anchor="end">2.5</text>
<line x1="387.80" y1="114.15" x2="390.20" y2="114.15" stroke="#1a1a1a" stroke-width="0.9" />
<text x="384.60" y="116.25" font-size="5.9" fill="#222" stroke="#222" stroke-width="0.12" text-anchor="end">0.0</text>
<line x1="387.80" y1="121.48" x2="390.20" y2="121.48" stroke="#1a1a1a" stroke-width="0.9" />
<text x="384.60" y="123.58" font-size="5.9" fill="#222" stroke="#222" stroke-width="0.12" text-anchor="end">-2.5</text>
<line x1="387.80" y1="128.80" x2="390.20" y2="128.80" stroke="#1a1a1a" stroke-width="0.9" />
<text x="384.60" y="130.90" font-size="5.9" fill="#222" stroke="#222" stroke-width="0.12" text-anchor="end">-5.0</text>
<line x1="390.50" y1="130.20" x2="390.50" y2="133.20" stroke="#1a1a1a" stroke-width="0.9" />
<text x="0" y="0" font-size="5.6" fill="#222" stroke="#222" stroke-width="0.12" text-anchor="end" transform="translate(394.00,139.70) rotate(-45)">0</text>
<line x1="402.44" y1="130.20" x2="402.44" y2="133.20" stroke="#1a1a1a" stroke-width="0.9" />
<text x="0" y="0" font-size="5.6" fill="#222" stroke="#222" stroke-width="0.12" text-anchor="end" transform="translate(405.94,139.70) rotate(-45)">2,500</text>
<line x1="414.39" y1="130.20" x2="414.39" y2="133.20" stroke="#1a1a1a" stroke-width="0.9" />
<text x="0" y="0" font-size="5.6" fill="#222" stroke="#222" stroke-width="0.12" text-anchor="end" transform="translate(417.89,139.70) rotate(-45)">5,000</text>
<line x1="426.33" y1="130.20" x2="426.33" y2="133.20" stroke="#1a1a1a" stroke-width="0.9" />
<text x="0" y="0" font-size="5.6" fill="#222" stroke="#222" stroke-width="0.12" text-anchor="end" transform="translate(429.83,139.70) rotate(-45)">7,500</text>
<line x1="438.28" y1="130.20" x2="438.28" y2="133.20" stroke="#1a1a1a" stroke-width="0.9" />
<text x="0" y="0" font-size="5.6" fill="#222" stroke="#222" stroke-width="0.12" text-anchor="end" transform="translate(441.78,139.70) rotate(-45)">10,000</text>
<line x1="450.22" y1="130.20" x2="450.22" y2="133.20" stroke="#1a1a1a" stroke-width="0.9" />
<text x="0" y="0" font-size="5.6" fill="#222" stroke="#222" stroke-width="0.12" text-anchor="end" transform="translate(453.72,139.70) rotate(-45)">12,500</text>
<line x1="462.17" y1="130.20" x2="462.17" y2="133.20" stroke="#1a1a1a" stroke-width="0.9" />
<text x="0" y="0" font-size="5.6" fill="#222" stroke="#222" stroke-width="0.12" text-anchor="end" transform="translate(465.67,139.70) rotate(-45)">15,000</text>
<line x1="474.11" y1="130.20" x2="474.11" y2="133.20" stroke="#1a1a1a" stroke-width="0.9" />
<text x="0" y="0" font-size="5.6" fill="#222" stroke="#222" stroke-width="0.12" text-anchor="end" transform="translate(477.61,139.70) rotate(-45)">17,500</text>
<line x1="486.06" y1="130.20" x2="486.06" y2="133.20" stroke="#1a1a1a" stroke-width="0.9" />
<text x="0" y="0" font-size="5.6" fill="#222" stroke="#222" stroke-width="0.12" text-anchor="end" transform="translate(489.56,139.70) rotate(-45)">20,000</text>
<line x1="498.00" y1="130.20" x2="498.00" y2="133.20" stroke="#1a1a1a" stroke-width="0.9" />
<text x="0" y="0" font-size="5.6" fill="#222" stroke="#222" stroke-width="0.12" text-anchor="end" transform="translate(501.50,139.70) rotate(-45)">22,500</text>
<text x="0" y="0" font-size="7.2" fill="#222" stroke="#222" stroke-width="0.1" text-anchor="middle" textLength="45.00" lengthAdjust="spacingAndGlyphs" transform="translate(369.30,51.40) rotate(-90)">Enrichment score</text>
<text x="0" y="0" font-size="7.2" fill="#222" stroke="#222" stroke-width="0.1" text-anchor="middle" textLength="49.00" lengthAdjust="spacingAndGlyphs" transform="translate(361.40,113.70) rotate(-90)">Ranked list metrics</text>
<text x="0" y="0" font-size="7.2" fill="#222" stroke="#222" stroke-width="0.1" text-anchor="middle" textLength="38.00" lengthAdjust="spacingAndGlyphs" transform="translate(371.10,113.80) rotate(-90)">(Signal2Noise)</text>
<text x="389.30" y="24.60" font-size="6.2" fill="#222" stroke="#222" stroke-width="0.1" textLength="115.20" lengthAdjust="spacingAndGlyphs">DUTERTRE_ESTRADIOL_RESPONSE_24HR_DN</text>
<text x="396.10" y="54.00" font-size="6.2" fill="#222" stroke="#222" stroke-width="0.12" textLength="28.90" lengthAdjust="spacingAndGlyphs">NES = -1.96</text>
<text x="396.10" y="60.90" font-size="6.2" fill="#222" stroke="#222" stroke-width="0.12" textLength="35.40" lengthAdjust="spacingAndGlyphs">p value = 0.00</text>
<text x="396.10" y="66.90" font-size="6.2" fill="#222" stroke="#222" stroke-width="0.12" textLength="35.40" lengthAdjust="spacingAndGlyphs">q value = 0.00</text>
<text x="395.20" y="107.90" font-size="7.0" fill="#222" stroke="#222" stroke-width="0.1" textLength="17.00" lengthAdjust="spacingAndGlyphs">Control</text>
<text x="468.70" y="107.30" font-size="7.0" fill="#222" stroke="#222" stroke-width="0.1" textLength="32.20" lengthAdjust="spacingAndGlyphs">Lenalidomide</text>
<text x="391.90" y="101.80" font-size="4.7" fill="#c03a40" stroke="#c03a40" stroke-width="0.06" textLength="57.80" lengthAdjust="spacingAndGlyphs">'Control' (positively correlated)</text>
<text x="421.80" y="129.10" font-size="4.6" fill="#4f4db0" stroke="#4f4db0" stroke-width="0.06" textLength="73.50" lengthAdjust="spacingAndGlyphs">'Lenalidomide' (negatively correlated)</text>
<text x="419.00" y="114.60" font-size="3.0" fill="#444" textLength="27.00" lengthAdjust="spacingAndGlyphs">Zero cross at 10750</text>
<text x="7.10" y="16.90" font-size="11.6" fill="#111" font-weight="bold" textLength="8.60" lengthAdjust="spacingAndGlyphs">A</text>
<text x="184.20" y="16.90" font-size="11.2" fill="#111" font-weight="bold" textLength="7.20" lengthAdjust="spacingAndGlyphs">B</text>
<text x="7.50" y="177.40" font-size="10.8" fill="#111" font-weight="bold" textLength="7.60" lengthAdjust="spacingAndGlyphs">C</text>
<text x="7.30" y="338.80" font-size="11.4" fill="#111" font-weight="bold" textLength="8.40" lengthAdjust="spacingAndGlyphs">D</text>
<line x1="6.10" y1="159.10" x2="16.60" y2="159.10" stroke="#82ba46" stroke-width="1.4" />
<text x="19.70" y="161.10" font-size="6.5" fill="#222" stroke="#222" stroke-width="0.1" textLength="44.30" lengthAdjust="spacingAndGlyphs">Enrichment profile</text>
<line x1="70.20" y1="158.90" x2="80.30" y2="158.90" stroke="#222" stroke-width="1.3" />
<text x="83.00" y="161.10" font-size="6.5" fill="#222" stroke="#222" stroke-width="0.1" textLength="9.00" lengthAdjust="spacingAndGlyphs">Hits</text>
<line x1="99.30" y1="158.90" x2="109.30" y2="158.90" stroke="#aaa" stroke-width="1.3" />
<text x="111.80" y="161.10" font-size="6.5" fill="#222" stroke="#222" stroke-width="0.1" textLength="52.90" lengthAdjust="spacingAndGlyphs">Ranking metric scores</text>
<line x1="180.90" y1="159.10" x2="191.80" y2="159.10" stroke="#82ba46" stroke-width="1.4" />
<text x="194.20" y="161.10" font-size="6.5" fill="#222" stroke="#222" stroke-width="0.1" textLength="44.80" lengthAdjust="spacingAndGlyphs">Enrichment profile</text>
<line x1="245.00" y1="158.90" x2="255.10" y2="158.90" stroke="#222" stroke-width="1.3" />
<text x="257.50" y="161.10" font-size="6.5" fill="#222" stroke="#222" stroke-width="0.1" textLength="10.10" lengthAdjust="spacingAndGlyphs">Hits</text>
<line x1="273.60" y1="158.90" x2="284.40" y2="158.90" stroke="#aaa" stroke-width="1.3" />
<text x="287.10" y="161.10" font-size="6.5" fill="#222" stroke="#222" stroke-width="0.1" textLength="52.80" lengthAdjust="spacingAndGlyphs">Ranking metric scores</text>
<line x1="352.40" y1="159.10" x2="363.60" y2="159.10" stroke="#82ba46" stroke-width="1.4" />
<text x="365.40" y="161.10" font-size="6.5" fill="#222" stroke="#222" stroke-width="0.1" textLength="44.10" lengthAdjust="spacingAndGlyphs">Enrichment profile</text>
<line x1="415.40" y1="158.90" x2="426.20" y2="158.90" stroke="#222" stroke-width="1.3" />
<text x="428.60" y="161.10" font-size="6.5" fill="#222" stroke="#222" stroke-width="0.1" textLength="9.40" lengthAdjust="spacingAndGlyphs">Hits</text>
<line x1="443.50" y1="158.90" x2="454.70" y2="158.90" stroke="#aaa" stroke-width="1.3" />
<text x="457.40" y="161.10" font-size="6.5" fill="#222" stroke="#222" stroke-width="0.1" textLength="53.60" lengthAdjust="spacingAndGlyphs">Ranking metric scores</text>
<g>
<rect x="16.30" y="188.40" width="106.40" height="106.00" fill="url(#mg16_188)" />
<rect x="16.30" y="235.40" width="58.70" height="59.00" fill="#6f6f6f" />
<rect x="16.30" y="188.40" width="106.40" height="106.00" fill="url(#noise)" opacity="0.16"/>
<circle cx="65.50" cy="207.80" r="4.20" fill="#959595" stroke="#262626" stroke-width="0.9"/>
<circle cx="65.50" cy="207.80" r="3.30" fill="none" stroke="#c4c4c4" stroke-width="0.7"/>
<circle cx="65.66" cy="207.93" r="0.68" fill="#b4b4b4"/>
<circle cx="65.82" cy="207.71" r="0.69" fill="#6e6e6e"/>
<circle cx="65.60" cy="206.97" r="0.54" fill="#7c7c7c"/>
<circle cx="65.35" cy="207.29" r="0.96" fill="#bcbcbc"/>
<circle cx="65.84" cy="208.72" r="0.52" fill="#7c7c7c"/>
<circle cx="63.64" cy="208.97" r="0.52" fill="#7c7c7c"/>
<circle cx="65.66" cy="207.84" r="0.63" fill="#b4b4b4"/>
<circle cx="59.10" cy="212.30" r="2.30" fill="#959595" stroke="#262626" stroke-width="0.9"/>
<circle cx="59.10" cy="212.30" r="1.40" fill="none" stroke="#c4c4c4" stroke-width="0.7"/>
<circle cx="59.09" cy="211.58" r="0.68" fill="#c4c4c4"/>
<circle cx="58.71" cy="212.96" r="0.63" fill="#b4b4b4"/>
<circle cx="59.05" cy="212.05" r="0.65" fill="#c4c4c4"/>
<circle cx="59.02" cy="211.83" r="0.51" fill="#b4b4b4"/>
<circle cx="89.60" cy="205.50" r="3.80" fill="#7e7e7e" stroke="#a6a6a6" stroke-width="0.7"/>
<circle cx="89.60" cy="205.50" r="4.30" fill="none" stroke="#4a4a4a" stroke-width="0.5"/>
<circle cx="89.73" cy="206.82" r="0.78" fill="#6e6e6e"/>
<circle cx="89.07" cy="205.96" r="0.73" fill="#6e6e6e"/>
<circle cx="90.53" cy="206.53" r="0.72" fill="#a0a0a0"/>
<circle cx="76.30" cy="229.00" r="3.00" fill="#959595" stroke="#262626" stroke-width="0.9"/>
<circle cx="76.30" cy="229.00" r="2.10" fill="none" stroke="#c4c4c4" stroke-width="0.7"/>
<circle cx="76.21" cy="227.77" r="0.80" fill="#6e6e6e"/>
<circle cx="76.07" cy="229.42" r="0.89" fill="#c4c4c4"/>
<circle cx="75.67" cy="228.57" r="0.88" fill="#7c7c7c"/>
<circle cx="76.30" cy="229.10" r="0.74" fill="#b4b4b4"/>
<circle cx="76.07" cy="228.93" r="0.94" fill="#7c7c7c"/>
<circle cx="86.40" cy="237.30" r="5.20" fill="#959595" stroke="#262626" stroke-width="0.9"/>
<circle cx="86.40" cy="237.30" r="4.30" fill="none" stroke="#c4c4c4" stroke-width="0.7"/>
<circle cx="87.38" cy="237.22" r="0.60" fill="#b4b4b4"/>
<circle cx="83.18" cy="239.04" r="0.59" fill="#7c7c7c"/>
<circle cx="87.54" cy="238.56" r="0.87" fill="#6e6e6e"/>
<circle cx="87.81" cy="235.28" r="0.89" fill="#b4b4b4"/>
<circle cx="86.12" cy="238.29" r="0.69" fill="#c4c4c4"/>
<circle cx="86.34" cy="236.57" r="0.59" fill="#6e6e6e"/>
<circle cx="86.49" cy="238.34" r="0.59" fill="#bcbcbc"/>
<circle cx="87.25" cy="237.67" r="0.75" fill="#6e6e6e"/>
<circle cx="86.75" cy="240.27" r="1.00" fill="#7c7c7c"/>
<circle cx="101.00" cy="228.40" r="3.60" fill="#7e7e7e" stroke="#a6a6a6" stroke-width="0.7"/>
<circle cx="101.00" cy="228.40" r="4.10" fill="none" stroke="#4a4a4a" stroke-width="0.5"/>
<circle cx="101.99" cy="229.14" r="0.74" fill="#a0a0a0"/>
<circle cx="101.09" cy="228.35" r="0.49" fill="#6e6e6e"/>
<circle cx="102.48" cy="228.89" r="0.48" fill="#999"/>
<circle cx="92.20" cy="254.00" r="6.10" fill="#959595" stroke="#262626" stroke-width="0.9"/>
<circle cx="92.20" cy="254.00" r="5.20" fill="none" stroke="#c4c4c4" stroke-width="0.7"/>
<circle cx="94.30" cy="255.07" r="0.72" fill="#6e6e6e"/>
<circle cx="91.98" cy="257.57" r="0.55" fill="#b4b4b4"/>
<circle cx="89.85" cy="252.38" r="0.52" fill="#6e6e6e"/>
<circle cx="92.09" cy="254.17" r="0.52" fill="#c4c4c4"/>
<circle cx="91.73" cy="249.82" r="0.91" fill="#b4b4b4"/>
<circle cx="90.76" cy="254.93" r="0.66" fill="#bcbcbc"/>
<circle cx="93.26" cy="257.50" r="0.74" fill="#bcbcbc"/>
<circle cx="89.13" cy="256.00" r="0.58" fill="#bcbcbc"/>
<circle cx="89.26" cy="253.36" r="0.85" fill="#7c7c7c"/>
<circle cx="91.10" cy="254.70" r="0.71" fill="#c4c4c4"/>
<circle cx="80.30" cy="256.90" r="4.50" fill="#959595" stroke="#262626" stroke-width="0.9"/>
<circle cx="80.30" cy="256.90" r="3.60" fill="none" stroke="#c4c4c4" stroke-width="0.7"/>
<circle cx="82.42" cy="257.61" r="0.71" fill="#c4c4c4"/>
<circle cx="82.58" cy="257.16" r="0.82" fill="#c4c4c4"/>
<circle cx="79.36" cy="257.67" r="0.72" fill="#b4b4b4"/>
<circle cx="80.49" cy="257.18" r="0.70" fill="#b4b4b4"/>
<circle cx="81.32" cy="255.97" r="0.56" fill="#6e6e6e"/>
<circle cx="80.71" cy="257.04" r="0.54" fill="#7c7c7c"/>
<circle cx="79.50" cy="256.13" r="0.59" fill="#bcbcbc"/>
<circle cx="80.02" cy="257.30" r="0.96" fill="#6e6e6e"/>
<circle cx="102.20" cy="251.30" r="3.20" fill="#959595" stroke="#262626" stroke-width="0.9"/>
<circle cx="102.20" cy="251.30" r="2.30" fill="none" stroke="#c4c4c4" stroke-width="0.7"/>
<circle cx="102.85" cy="251.83" r="0.65" fill="#6e6e6e"/>
<circle cx="102.24" cy="251.24" r="0.66" fill="#7c7c7c"/>
<circle cx="101.36" cy="250.62" r="0.95" fill="#b4b4b4"/>
<circle cx="101.18" cy="250.34" r="0.82" fill="#6e6e6e"/>
<circle cx="102.86" cy="250.47" r="0.92" fill="#bcbcbc"/>
<circle cx="97.50" cy="214.00" r="1.60" fill="#7e7e7e" stroke="#a6a6a6" stroke-width="0.7"/>
<circle cx="97.50" cy="214.00" r="2.10" fill="none" stroke="#4a4a4a" stroke-width="0.5"/>
<circle cx="97.55" cy="213.90" r="0.42" fill="#a0a0a0"/>
<circle cx="70.00" cy="219.00" r="1.00" fill="#6a6a6a" stroke="#aaa" stroke-width="0.5"/>
<circle cx="104.00" cy="262.00" r="1.50" fill="#7e7e7e" stroke="#a6a6a6" stroke-width="0.7"/>
<circle cx="104.00" cy="262.00" r="2.00" fill="none" stroke="#4a4a4a" stroke-width="0.5"/>
<circle cx="104.07" cy="261.97" r="0.45" fill="#6e6e6e"/>
<ellipse cx="39.00" cy="219.00" rx="8.00" ry="7.20" fill="#9a9a9a" opacity="0.2"/>
<circle cx="39.19" cy="228.19" r="0.37" fill="#505050" opacity="0.85"/>
<circle cx="29.35" cy="215.41" r="0.65" fill="#b4b4b4" opacity="0.85"/>
<circle cx="35.63" cy="225.02" r="0.60" fill="#cccccc" opacity="0.85"/>
<circle cx="34.36" cy="214.72" r="0.49" fill="#b0b0b0" opacity="0.85"/>
<circle cx="39.04" cy="225.74" r="0.55" fill="#9c9c9c" opacity="0.85"/>
<circle cx="37.30" cy="219.62" r="0.56" fill="#cccccc" opacity="0.85"/>
<circle cx="30.08" cy="221.79" r="0.73" fill="#cccccc" opacity="0.85"/>
<circle cx="41.82" cy="212.65" r="0.41" fill="#a8a8a8" opacity="0.85"/>
<circle cx="35.71" cy="220.38" r="0.58" fill="#cccccc" opacity="0.85"/>
<circle cx="37.67" cy="217.18" r="0.39" fill="#c4c4c4" opacity="0.85"/>
<circle cx="37.90" cy="209.53" r="0.37" fill="#a8a8a8" opacity="0.85"/>
<circle cx="31.63" cy="218.84" r="0.36" fill="#c4c4c4" opacity="0.85"/>
<circle cx="47.60" cy="222.43" r="0.44" fill="#a8a8a8" opacity="0.85"/>
<circle cx="47.36" cy="218.13" r="0.66" fill="#c4c4c4" opacity="0.85"/>
<circle cx="37.98" cy="214.01" r="0.62" fill="#9c9c9c" opacity="0.85"/>
<circle cx="38.91" cy="225.15" r="0.76" fill="#5c5c5c" opacity="0.85"/>
<circle cx="33.18" cy="220.47" r="0.44" fill="#cccccc" opacity="0.85"/>
<circle cx="38.31" cy="226.66" r="0.52" fill="#9c9c9c" opacity="0.85"/>
<circle cx="41.40" cy="225.51" r="0.66" fill="#5c5c5c" opacity="0.85"/>
<circle cx="42.90" cy="216.29" r="0.40" fill="#5c5c5c" opacity="0.85"/>
<circle cx="29.61" cy="217.35" r="0.78" fill="#9c9c9c" opacity="0.85"/>
<circle cx="30.71" cy="221.27" r="0.46" fill="#a8a8a8" opacity="0.85"/>
<circle cx="28.17" cy="216.78" r="0.47" fill="#9c9c9c" opacity="0.85"/>
<circle cx="48.10" cy="218.51" r="0.50" fill="#9c9c9c" opacity="0.85"/>
<circle cx="44.02" cy="221.53" r="0.48" fill="#b4b4b4" opacity="0.85"/>
<circle cx="32.35" cy="218.39" r="0.68" fill="#9c9c9c" opacity="0.85"/>
<circle cx="38.90" cy="213.92" r="0.63" fill="#5c5c5c" opacity="0.85"/>
<circle cx="31.18" cy="222.19" r="0.41" fill="#b4b4b4" opacity="0.85"/>
<circle cx="40.38" cy="227.64" r="0.37" fill="#b4b4b4" opacity="0.85"/>
<circle cx="32.97" cy="216.56" r="0.59" fill="#9c9c9c" opacity="0.85"/>
<circle cx="33.37" cy="222.07" r="0.44" fill="#c4c4c4" opacity="0.85"/>
<circle cx="33.11" cy="213.77" r="0.36" fill="#c4c4c4" opacity="0.85"/>
<circle cx="42.21" cy="210.39" r="0.39" fill="#cccccc" opacity="0.85"/>
<circle cx="31.76" cy="211.31" r="0.53" fill="#5c5c5c" opacity="0.85"/>
<circle cx="38.89" cy="220.15" r="0.62" fill="#9c9c9c" opacity="0.85"/>
<circle cx="30.80" cy="215.03" r="0.46" fill="#cccccc" opacity="0.85"/>
<circle cx="41.07" cy="217.71" r="0.53" fill="#b4b4b4" opacity="0.85"/>
<circle cx="39.22" cy="221.60" r="0.36" fill="#a8a8a8" opacity="0.85"/>
<circle cx="27.95" cy="215.71" r="0.54" fill="#c4c4c4" opacity="0.85"/>
<circle cx="29.44" cy="218.01" r="0.72" fill="#b0b0b0" opacity="0.85"/>
<circle cx="42.04" cy="224.35" r="0.63" fill="#5c5c5c" opacity="0.85"/>
<circle cx="49.21" cy="218.66" r="0.67" fill="#cccccc" opacity="0.85"/>
<circle cx="50.02" cy="219.40" r="0.39" fill="#cccccc" opacity="0.85"/>
<circle cx="36.19" cy="215.25" r="0.47" fill="#a8a8a8" opacity="0.85"/>
<circle cx="36.40" cy="216.02" r="0.67" fill="#5c5c5c" opacity="0.85"/>
<circle cx="38.10" cy="227.00" r="0.66" fill="#b0b0b0" opacity="0.85"/>
<circle cx="49.27" cy="213.71" r="0.64" fill="#5c5c5c" opacity="0.85"/>
<circle cx="44.46" cy="217.91" r="0.43" fill="#b4b4b4" opacity="0.85"/>
<circle cx="48.09" cy="213.41" r="0.78" fill="#505050" opacity="0.85"/>
<circle cx="38.83" cy="212.83" r="0.50" fill="#b0b0b0" opacity="0.85"/>
<circle cx="39.78" cy="229.26" r="0.56" fill="#cccccc" opacity="0.85"/>
<circle cx="38.06" cy="218.84" r="0.55" fill="#b4b4b4" opacity="0.85"/>
<circle cx="37.56" cy="210.95" r="0.71" fill="#5c5c5c" opacity="0.85"/>
<circle cx="31.87" cy="224.20" r="0.42" fill="#c4c4c4" opacity="0.85"/>
<circle cx="42.86" cy="219.59" r="0.51" fill="#c4c4c4" opacity="0.85"/>
<circle cx="40.28" cy="220.42" r="0.41" fill="#b4b4b4" opacity="0.85"/>
<circle cx="37.46" cy="217.25" r="0.68" fill="#a8a8a8" opacity="0.85"/>
<circle cx="47.45" cy="222.33" r="0.44" fill="#9c9c9c" opacity="0.85"/>
<circle cx="47.41" cy="216.78" r="0.75" fill="#a8a8a8" opacity="0.85"/>
<circle cx="39.37" cy="209.90" r="0.40" fill="#b0b0b0" opacity="0.85"/>
<circle cx="40.10" cy="222.47" r="0.78" fill="#b4b4b4" opacity="0.85"/>
<circle cx="47.83" cy="214.03" r="0.72" fill="#a8a8a8" opacity="0.85"/>
<circle cx="34.64" cy="214.74" r="0.41" fill="#a8a8a8" opacity="0.85"/>
<circle cx="41.51" cy="210.62" r="0.49" fill="#5c5c5c" opacity="0.85"/>
<circle cx="37.46" cy="219.72" r="0.77" fill="#5c5c5c" opacity="0.85"/>
<circle cx="48.98" cy="221.82" r="0.70" fill="#9c9c9c" opacity="0.85"/>
<circle cx="32.36" cy="214.54" r="0.63" fill="#5c5c5c" opacity="0.85"/>
<circle cx="46.57" cy="220.34" r="0.58" fill="#b0b0b0" opacity="0.85"/>
<circle cx="45.70" cy="223.28" r="0.59" fill="#b4b4b4" opacity="0.85"/>
<circle cx="41.32" cy="228.81" r="0.61" fill="#a8a8a8" opacity="0.85"/>
<circle cx="37.17" cy="225.94" r="0.48" fill="#505050" opacity="0.85"/>
<circle cx="39.01" cy="216.49" r="0.57" fill="#9c9c9c" opacity="0.85"/>
<circle cx="28.30" cy="219.52" r="0.79" fill="#c4c4c4" opacity="0.85"/>
<circle cx="29.19" cy="213.20" r="0.61" fill="#5c5c5c" opacity="0.85"/>
<circle cx="44.87" cy="227.20" r="0.57" fill="#505050" opacity="0.85"/>
<circle cx="46.38" cy="224.49" r="0.57" fill="#a8a8a8" opacity="0.85"/>
<circle cx="47.98" cy="218.55" r="0.63" fill="#a8a8a8" opacity="0.85"/>
<circle cx="34.32" cy="224.39" r="0.75" fill="#b0b0b0" opacity="0.85"/>
<circle cx="38.76" cy="211.99" r="0.52" fill="#b4b4b4" opacity="0.85"/>
<circle cx="36.43" cy="225.68" r="0.52" fill="#c4c4c4" opacity="0.85"/>
<circle cx="43.32" cy="215.52" r="0.41" fill="#cccccc" opacity="0.85"/>
<circle cx="30.73" cy="214.00" r="0.51" fill="#b4b4b4" opacity="0.85"/>
<circle cx="36.81" cy="222.77" r="0.65" fill="#cccccc" opacity="0.85"/>
<circle cx="38.75" cy="214.56" r="0.66" fill="#cccccc" opacity="0.85"/>
<circle cx="38.74" cy="224.19" r="0.56" fill="#9c9c9c" opacity="0.85"/>
<circle cx="43.39" cy="215.52" r="0.47" fill="#505050" opacity="0.85"/>
<circle cx="39.32" cy="209.19" r="0.68" fill="#c4c4c4" opacity="0.85"/>
<circle cx="49.08" cy="217.55" r="0.42" fill="#9c9c9c" opacity="0.85"/>
<circle cx="36.54" cy="223.14" r="0.42" fill="#a8a8a8" opacity="0.85"/>
<circle cx="36.10" cy="215.00" r="0.79" fill="#c4c4c4" opacity="0.85"/>
<circle cx="41.86" cy="210.12" r="0.47" fill="#b0b0b0" opacity="0.85"/>
<circle cx="47.86" cy="225.54" r="0.44" fill="#5c5c5c" opacity="0.85"/>
<circle cx="37.31" cy="220.28" r="0.73" fill="#b0b0b0" opacity="0.85"/>
<circle cx="33.78" cy="220.98" r="0.56" fill="#5c5c5c" opacity="0.85"/>
<circle cx="44.86" cy="225.53" r="0.35" fill="#b0b0b0" opacity="0.85"/>
<circle cx="39.54" cy="228.96" r="0.73" fill="#b0b0b0" opacity="0.85"/>
<circle cx="34.22" cy="211.41" r="0.66" fill="#505050" opacity="0.85"/>
<circle cx="33.91" cy="213.35" r="0.47" fill="#9c9c9c" opacity="0.85"/>
<circle cx="35.54" cy="209.27" r="0.70" fill="#505050" opacity="0.85"/>
<circle cx="36.81" cy="210.66" r="0.73" fill="#5c5c5c" opacity="0.85"/>
<circle cx="37.33" cy="219.16" r="0.58" fill="#b0b0b0" opacity="0.85"/>
<circle cx="33.06" cy="210.44" r="0.70" fill="#9c9c9c" opacity="0.85"/>
<circle cx="32.57" cy="223.87" r="0.37" fill="#a8a8a8" opacity="0.85"/>
<circle cx="34.36" cy="217.83" r="0.58" fill="#505050" opacity="0.85"/>
<circle cx="46.32" cy="223.86" r="0.67" fill="#505050" opacity="0.85"/>
<circle cx="29.43" cy="218.34" r="0.58" fill="#9c9c9c" opacity="0.85"/>
<circle cx="29.12" cy="224.62" r="0.80" fill="#505050" opacity="0.85"/>
<circle cx="42.48" cy="226.08" r="0.68" fill="#a8a8a8" opacity="0.85"/>
<circle cx="31.77" cy="213.34" r="0.47" fill="#5c5c5c" opacity="0.85"/>
<circle cx="37.88" cy="219.73" r="0.76" fill="#b0b0b0" opacity="0.85"/>
<circle cx="32.19" cy="212.59" r="0.40" fill="#5c5c5c" opacity="0.85"/>
<circle cx="36.50" cy="225.45" r="0.80" fill="#505050" opacity="0.85"/>
<circle cx="46.91" cy="217.21" r="0.41" fill="#c4c4c4" opacity="0.85"/>
<circle cx="40.80" cy="209.42" r="0.56" fill="#505050" opacity="0.85"/>
<circle cx="33.72" cy="217.05" r="0.51" fill="#c4c4c4" opacity="0.85"/>
<circle cx="32.01" cy="211.52" r="0.56" fill="#b0b0b0" opacity="0.85"/>
<circle cx="36.56" cy="226.69" r="0.70" fill="#c4c4c4" opacity="0.85"/>
<ellipse cx="52.00" cy="210.00" rx="4.80" ry="6.40" fill="#9a9a9a" opacity="0.2"/>
<circle cx="45.74" cy="211.62" r="0.47" fill="#505050" opacity="0.85"/>
<circle cx="49.42" cy="213.39" r="0.66" fill="#b0b0b0" opacity="0.85"/>
<circle cx="45.58" cy="211.00" r="0.51" fill="#5c5c5c" opacity="0.85"/>
<circle cx="49.70" cy="205.52" r="0.54" fill="#cccccc" opacity="0.85"/>
<circle cx="48.20" cy="204.08" r="0.42" fill="#9c9c9c" opacity="0.85"/>
<circle cx="50.54" cy="215.63" r="0.72" fill="#a8a8a8" opacity="0.85"/>
<circle cx="57.29" cy="205.26" r="0.59" fill="#c4c4c4" opacity="0.85"/>
<circle cx="48.91" cy="216.06" r="0.44" fill="#b4b4b4" opacity="0.85"/>
<circle cx="55.51" cy="212.27" r="0.61" fill="#a8a8a8" opacity="0.85"/>
<circle cx="53.89" cy="206.72" r="0.51" fill="#cccccc" opacity="0.85"/>
<circle cx="55.93" cy="217.47" r="0.62" fill="#c4c4c4" opacity="0.85"/>
<circle cx="49.30" cy="201.22" r="0.65" fill="#a8a8a8" opacity="0.85"/>
<circle cx="57.02" cy="204.73" r="0.44" fill="#5c5c5c" opacity="0.85"/>
<circle cx="50.15" cy="203.45" r="0.65" fill="#cccccc" opacity="0.85"/>
<circle cx="53.84" cy="212.22" r="0.46" fill="#b0b0b0" opacity="0.85"/>
<circle cx="55.24" cy="215.18" r="0.57" fill="#b4b4b4" opacity="0.85"/>
<circle cx="56.99" cy="205.50" r="0.57" fill="#505050" opacity="0.85"/>
<circle cx="45.52" cy="207.81" r="0.42" fill="#b4b4b4" opacity="0.85"/>
<circle cx="49.42" cy="217.23" r="0.65" fill="#cccccc" opacity="0.85"/>
<circle cx="54.38" cy="205.05" r="0.80" fill="#b0b0b0" opacity="0.85"/>
<circle cx="50.63" cy="206.36" r="0.64" fill="#9c9c9c" opacity="0.85"/>
<circle cx="57.53" cy="211.34" r="0.71" fill="#9c9c9c" opacity="0.85"/>
<circle cx="56.16" cy="213.72" r="0.37" fill="#c4c4c4" opacity="0.85"/>
<circle cx="50.87" cy="202.56" r="0.39" fill="#9c9c9c" opacity="0.85"/>
<circle cx="49.72" cy="205.28" r="0.48" fill="#505050" opacity="0.85"/>
<circle cx="50.03" cy="214.03" r="0.72" fill="#b4b4b4" opacity="0.85"/>
<circle cx="50.26" cy="218.42" r="0.50" fill="#b0b0b0" opacity="0.85"/>
<circle cx="58.69" cy="209.11" r="0.79" fill="#9c9c9c" opacity="0.85"/>
<circle cx="48.38" cy="202.95" r="0.44" fill="#9c9c9c" opacity="0.85"/>
<circle cx="51.41" cy="206.66" r="0.70" fill="#a8a8a8" opacity="0.85"/>
<circle cx="57.93" cy="212.03" r="0.60" fill="#b0b0b0" opacity="0.85"/>
<circle cx="55.76" cy="211.62" r="0.37" fill="#b4b4b4" opacity="0.85"/>
<circle cx="54.17" cy="204.05" r="0.71" fill="#b4b4b4" opacity="0.85"/>
<circle cx="56.75" cy="205.97" r="0.63" fill="#c4c4c4" opacity="0.85"/>
<circle cx="50.16" cy="203.00" r="0.45" fill="#a8a8a8" opacity="0.85"/>
<circle cx="49.57" cy="204.37" r="0.40" fill="#c4c4c4" opacity="0.85"/>
<circle cx="52.58" cy="211.68" r="0.76" fill="#a8a8a8" opacity="0.85"/>
<circle cx="49.56" cy="205.16" r="0.70" fill="#c4c4c4" opacity="0.85"/>
<circle cx="48.62" cy="208.15" r="0.43" fill="#5c5c5c" opacity="0.85"/>
<ellipse cx="33.00" cy="262.00" rx="8.00" ry="12.80" fill="#9a9a9a" opacity="0.2"/>
<circle cx="34.67" cy="262.59" r="0.57" fill="#b4b4b4" opacity="0.85"/>
<circle cx="22.21" cy="259.58" r="0.61" fill="#b0b0b0" opacity="0.85"/>
<circle cx="39.99" cy="255.72" r="0.66" fill="#b4b4b4" opacity="0.85"/>
<circle cx="23.06" cy="251.36" r="0.56" fill="#c4c4c4" opacity="0.85"/>
<circle cx="29.73" cy="265.21" r="0.45" fill="#cccccc" opacity="0.85"/>
<circle cx="33.87" cy="263.95" r="0.35" fill="#b4b4b4" opacity="0.85"/>
<circle cx="27.21" cy="245.33" r="0.45" fill="#a8a8a8" opacity="0.85"/>
<circle cx="38.96" cy="271.11" r="0.67" fill="#5c5c5c" opacity="0.85"/>
<circle cx="33.50" cy="278.42" r="0.77" fill="#c4c4c4" opacity="0.85"/>
<circle cx="26.10" cy="274.39" r="0.68" fill="#c4c4c4" opacity="0.85"/>
<circle cx="41.21" cy="269.69" r="0.56" fill="#cccccc" opacity="0.85"/>
<circle cx="38.51" cy="258.01" r="0.67" fill="#b4b4b4" opacity="0.85"/>
<circle cx="34.45" cy="262.17" r="0.53" fill="#a8a8a8" opacity="0.85"/>
<circle cx="29.44" cy="275.74" r="0.62" fill="#cccccc" opacity="0.85"/>
<circle cx="28.27" cy="279.10" r="0.56" fill="#cccccc" opacity="0.85"/>
<circle cx="38.91" cy="278.33" r="0.51" fill="#a8a8a8" opacity="0.85"/>
<circle cx="27.16" cy="249.97" r="0.56" fill="#b0b0b0" opacity="0.85"/>
<circle cx="34.42" cy="249.28" r="0.70" fill="#5c5c5c" opacity="0.85"/>
<circle cx="27.07" cy="257.77" r="0.63" fill="#b4b4b4" opacity="0.85"/>
<circle cx="26.73" cy="248.03" r="0.74" fill="#9c9c9c" opacity="0.85"/>
<circle cx="32.77" cy="259.64" r="0.62" fill="#c4c4c4" opacity="0.85"/>
<circle cx="30.17" cy="273.73" r="0.52" fill="#505050" opacity="0.85"/>
<circle cx="29.29" cy="248.34" r="0.71" fill="#505050" opacity="0.85"/>
<circle cx="32.90" cy="262.77" r="0.47" fill="#5c5c5c" opacity="0.85"/>
<circle cx="39.33" cy="277.38" r="0.48" fill="#b4b4b4" opacity="0.85"/>
<circle cx="40.18" cy="276.01" r="0.47" fill="#c4c4c4" opacity="0.85"/>
<circle cx="39.40" cy="248.12" r="0.51" fill="#cccccc" opacity="0.85"/>
<circle cx="40.68" cy="269.28" r="0.44" fill="#b0b0b0" opacity="0.85"/>
<circle cx="33.01" cy="243.47" r="0.49" fill="#505050" opacity="0.85"/>
<circle cx="40.06" cy="266.27" r="0.77" fill="#505050" opacity="0.85"/>
<circle cx="32.01" cy="261.04" r="0.56" fill="#b0b0b0" opacity="0.85"/>
<circle cx="42.18" cy="271.03" r="0.45" fill="#a8a8a8" opacity="0.85"/>
<circle cx="23.03" cy="253.28" r="0.56" fill="#9c9c9c" opacity="0.85"/>
<circle cx="28.58" cy="257.56" r="0.39" fill="#505050" opacity="0.85"/>
<circle cx="35.22" cy="252.29" r="0.53" fill="#9c9c9c" opacity="0.85"/>
<circle cx="28.39" cy="261.20" r="0.77" fill="#b4b4b4" opacity="0.85"/>
<circle cx="21.84" cy="262.76" r="0.63" fill="#9c9c9c" opacity="0.85"/>
<circle cx="34.10" cy="254.62" r="0.51" fill="#b4b4b4" opacity="0.85"/>
<circle cx="31.29" cy="261.66" r="0.44" fill="#b4b4b4" opacity="0.85"/>
<circle cx="39.21" cy="251.52" r="0.47" fill="#505050" opacity="0.85"/>
<circle cx="34.43" cy="249.68" r="0.70" fill="#cccccc" opacity="0.85"/>
<circle cx="37.94" cy="244.89" r="0.73" fill="#5c5c5c" opacity="0.85"/>
<circle cx="26.66" cy="278.24" r="0.39" fill="#b0b0b0" opacity="0.85"/>
<circle cx="41.50" cy="266.51" r="0.57" fill="#cccccc" opacity="0.85"/>
<circle cx="39.41" cy="247.02" r="0.76" fill="#b0b0b0" opacity="0.85"/>
<circle cx="32.03" cy="256.46" r="0.60" fill="#9c9c9c" opacity="0.85"/>
<circle cx="25.55" cy="247.49" r="0.43" fill="#b0b0b0" opacity="0.85"/>
<circle cx="37.28" cy="252.53" r="0.80" fill="#505050" opacity="0.85"/>
<circle cx="33.42" cy="265.71" r="0.77" fill="#5c5c5c" opacity="0.85"/>
<circle cx="41.31" cy="267.19" r="0.73" fill="#b4b4b4" opacity="0.85"/>
<circle cx="43.18" cy="266.96" r="0.38" fill="#cccccc" opacity="0.85"/>
<circle cx="39.40" cy="275.17" r="0.65" fill="#505050" opacity="0.85"/>
<circle cx="30.22" cy="276.08" r="0.56" fill="#a8a8a8" opacity="0.85"/>
<circle cx="27.81" cy="270.65" r="0.57" fill="#9c9c9c" opacity="0.85"/>
<circle cx="35.87" cy="270.18" r="0.76" fill="#c4c4c4" opacity="0.85"/>
<circle cx="39.39" cy="253.77" r="0.71" fill="#505050" opacity="0.85"/>
<circle cx="39.04" cy="276.61" r="0.77" fill="#a8a8a8" opacity="0.85"/>
<circle cx="40.57" cy="248.55" r="0.70" fill="#c4c4c4" opacity="0.85"/>
<circle cx="44.15" cy="257.17" r="0.73" fill="#b0b0b0" opacity="0.85"/>
<circle cx="27.41" cy="252.68" r="0.50" fill="#9c9c9c" opacity="0.85"/>
<circle cx="33.41" cy="268.49" r="0.41" fill="#9c9c9c" opacity="0.85"/>
<circle cx="33.51" cy="266.50" r="0.60" fill="#cccccc" opacity="0.85"/>
<circle cx="39.88" cy="276.14" r="0.54" fill="#5c5c5c" opacity="0.85"/>
<circle cx="33.04" cy="265.06" r="0.50" fill="#5c5c5c" opacity="0.85"/>
<circle cx="37.15" cy="273.70" r="0.56" fill="#9c9c9c" opacity="0.85"/>
<circle cx="28.33" cy="262.83" r="0.63" fill="#b4b4b4" opacity="0.85"/>
<circle cx="35.70" cy="244.04" r="0.73" fill="#cccccc" opacity="0.85"/>
<circle cx="40.64" cy="273.36" r="0.54" fill="#9c9c9c" opacity="0.85"/>
<circle cx="32.58" cy="271.36" r="0.39" fill="#505050" opacity="0.85"/>
<circle cx="30.21" cy="279.62" r="0.72" fill="#b4b4b4" opacity="0.85"/>
<circle cx="37.52" cy="261.02" r="0.55" fill="#b4b4b4" opacity="0.85"/>
<circle cx="24.43" cy="261.33" r="0.35" fill="#cccccc" opacity="0.85"/>
<circle cx="37.30" cy="249.89" r="0.51" fill="#c4c4c4" opacity="0.85"/>
<circle cx="40.43" cy="265.09" r="0.61" fill="#5c5c5c" opacity="0.85"/>
<circle cx="36.29" cy="268.22" r="0.67" fill="#505050" opacity="0.85"/>
<circle cx="34.11" cy="267.11" r="0.75" fill="#a8a8a8" opacity="0.85"/>
<circle cx="31.74" cy="245.37" r="0.44" fill="#c4c4c4" opacity="0.85"/>
<circle cx="25.32" cy="251.52" r="0.61" fill="#505050" opacity="0.85"/>
<circle cx="33.91" cy="266.70" r="0.73" fill="#b0b0b0" opacity="0.85"/>
<circle cx="40.47" cy="255.05" r="0.50" fill="#9c9c9c" opacity="0.85"/>
<circle cx="39.09" cy="247.04" r="0.39" fill="#cccccc" opacity="0.85"/>
<circle cx="24.17" cy="271.03" r="0.74" fill="#c4c4c4" opacity="0.85"/>
<circle cx="32.47" cy="270.24" r="0.37" fill="#9c9c9c" opacity="0.85"/>
<circle cx="30.31" cy="248.09" r="0.51" fill="#b4b4b4" opacity="0.85"/>
<circle cx="43.75" cy="254.18" r="0.40" fill="#a8a8a8" opacity="0.85"/>
<circle cx="30.61" cy="245.08" r="0.70" fill="#9c9c9c" opacity="0.85"/>
<circle cx="39.15" cy="251.25" r="0.48" fill="#b4b4b4" opacity="0.85"/>
<circle cx="41.00" cy="272.28" r="0.58" fill="#cccccc" opacity="0.85"/>
<circle cx="24.36" cy="259.32" r="0.46" fill="#b4b4b4" opacity="0.85"/>
<circle cx="41.02" cy="269.98" r="0.40" fill="#c4c4c4" opacity="0.85"/>
<circle cx="32.97" cy="279.36" r="0.36" fill="#b4b4b4" opacity="0.85"/>
<ellipse cx="45.00" cy="275.00" rx="8.00" ry="6.40" fill="#9a9a9a" opacity="0.2"/>
<circle cx="54.23" cy="271.31" r="0.36" fill="#5c5c5c" opacity="0.85"/>
<circle cx="37.61" cy="270.74" r="0.67" fill="#505050" opacity="0.85"/>
<circle cx="53.93" cy="280.39" r="0.37" fill="#c4c4c4" opacity="0.85"/>
<circle cx="51.03" cy="279.71" r="0.40" fill="#5c5c5c" opacity="0.85"/>
<circle cx="53.15" cy="281.24" r="0.74" fill="#505050" opacity="0.85"/>
<circle cx="50.47" cy="280.80" r="0.42" fill="#b0b0b0" opacity="0.85"/>
<circle cx="50.34" cy="266.74" r="0.66" fill="#b0b0b0" opacity="0.85"/>
<circle cx="37.36" cy="270.73" r="0.53" fill="#b4b4b4" opacity="0.85"/>
<circle cx="54.86" cy="271.95" r="0.53" fill="#9c9c9c" opacity="0.85"/>
<circle cx="50.36" cy="268.10" r="0.72" fill="#9c9c9c" opacity="0.85"/>
<circle cx="46.60" cy="273.18" r="0.78" fill="#c4c4c4" opacity="0.85"/>
<circle cx="50.49" cy="273.08" r="0.65" fill="#b0b0b0" opacity="0.85"/>
<circle cx="48.95" cy="275.23" r="0.38" fill="#c4c4c4" opacity="0.85"/>
<circle cx="37.22" cy="277.79" r="0.45" fill="#b4b4b4" opacity="0.85"/>
<circle cx="38.36" cy="277.89" r="0.63" fill="#cccccc" opacity="0.85"/>
<circle cx="49.10" cy="266.59" r="0.37" fill="#b4b4b4" opacity="0.85"/>
<circle cx="41.10" cy="271.16" r="0.63" fill="#5c5c5c" opacity="0.85"/>
<circle cx="45.79" cy="273.30" r="0.46" fill="#a8a8a8" opacity="0.85"/>
<circle cx="37.16" cy="274.20" r="0.48" fill="#b4b4b4" opacity="0.85"/>
<circle cx="41.71" cy="282.26" r="0.38" fill="#a8a8a8" opacity="0.85"/>
<circle cx="56.14" cy="272.66" r="0.39" fill="#5c5c5c" opacity="0.85"/>
<circle cx="35.23" cy="270.02" r="0.41" fill="#cccccc" opacity="0.85"/>
<circle cx="49.41" cy="278.82" r="0.61" fill="#b0b0b0" opacity="0.85"/>
<circle cx="43.45" cy="283.14" r="0.73" fill="#5c5c5c" opacity="0.85"/>
<circle cx="38.02" cy="270.38" r="0.44" fill="#b0b0b0" opacity="0.85"/>
<circle cx="42.99" cy="268.68" r="0.63" fill="#5c5c5c" opacity="0.85"/>
<circle cx="38.44" cy="276.04" r="0.50" fill="#505050" opacity="0.85"/>
<circle cx="48.33" cy="281.58" r="0.36" fill="#b0b0b0" opacity="0.85"/>
<circle cx="38.30" cy="282.12" r="0.50" fill="#505050" opacity="0.85"/>
<circle cx="42.15" cy="279.44" r="0.48" fill="#505050" opacity="0.85"/>
<circle cx="45.66" cy="271.21" r="0.62" fill="#a8a8a8" opacity="0.85"/>
<circle cx="39.38" cy="281.36" r="0.73" fill="#b0b0b0" opacity="0.85"/>
<circle cx="38.62" cy="281.65" r="0.80" fill="#505050" opacity="0.85"/>
<circle cx="39.91" cy="266.66" r="0.50" fill="#b0b0b0" opacity="0.85"/>
<circle cx="39.08" cy="281.31" r="0.72" fill="#5c5c5c" opacity="0.85"/>
<circle cx="34.75" cy="274.08" r="0.47" fill="#cccccc" opacity="0.85"/>
<circle cx="38.50" cy="269.41" r="0.54" fill="#c4c4c4" opacity="0.85"/>
<circle cx="51.12" cy="278.72" r="0.57" fill="#a8a8a8" opacity="0.85"/>
<circle cx="53.83" cy="273.31" r="0.73" fill="#b0b0b0" opacity="0.85"/>
<ellipse cx="108.00" cy="270.00" rx="8.00" ry="9.60" fill="#9a9a9a" opacity="0.2"/>
<circle cx="106.27" cy="281.16" r="0.52" fill="#a8a8a8" opacity="0.85"/>
<circle cx="100.24" cy="272.88" r="0.48" fill="#9c9c9c" opacity="0.85"/>
<circle cx="101.09" cy="276.81" r="0.64" fill="#b0b0b0" opacity="0.85"/>
<circle cx="118.35" cy="270.53" r="0.52" fill="#cccccc" opacity="0.85"/>
<circle cx="105.28" cy="280.03" r="0.55" fill="#c4c4c4" opacity="0.85"/>
<circle cx="103.86" cy="274.84" r="0.50" fill="#9c9c9c" opacity="0.85"/>
<circle cx="114.08" cy="259.02" r="0.44" fill="#9c9c9c" opacity="0.85"/>
<circle cx="97.75" cy="276.13" r="0.36" fill="#b4b4b4" opacity="0.85"/>
<circle cx="107.53" cy="283.62" r="0.76" fill="#5c5c5c" opacity="0.85"/>
<circle cx="109.29" cy="259.55" r="0.58" fill="#b0b0b0" opacity="0.85"/>
<circle cx="98.12" cy="268.71" r="0.56" fill="#b0b0b0" opacity="0.85"/>
<circle cx="117.55" cy="273.00" r="0.78" fill="#cccccc" opacity="0.85"/>
<circle cx="104.12" cy="260.66" r="0.53" fill="#a8a8a8" opacity="0.85"/>
<circle cx="98.34" cy="269.93" r="0.75" fill="#c4c4c4" opacity="0.85"/>
<circle cx="116.16" cy="267.77" r="0.70" fill="#cccccc" opacity="0.85"/>
<circle cx="115.41" cy="263.46" r="0.43" fill="#a8a8a8" opacity="0.85"/>
<circle cx="103.08" cy="282.96" r="0.58" fill="#5c5c5c" opacity="0.85"/>
<circle cx="116.72" cy="278.71" r="0.72" fill="#9c9c9c" opacity="0.85"/>
<circle cx="119.29" cy="269.17" r="0.63" fill="#b0b0b0" opacity="0.85"/>
<circle cx="97.28" cy="268.04" r="0.58" fill="#505050" opacity="0.85"/>
<circle cx="109.94" cy="275.69" r="0.51" fill="#a8a8a8" opacity="0.85"/>
<circle cx="117.57" cy="269.55" r="0.66" fill="#b4b4b4" opacity="0.85"/>
<circle cx="108.63" cy="270.05" r="0.76" fill="#b4b4b4" opacity="0.85"/>
<circle cx="104.99" cy="272.71" r="0.65" fill="#b4b4b4" opacity="0.85"/>
<circle cx="110.79" cy="279.59" r="0.74" fill="#5c5c5c" opacity="0.85"/>
<circle cx="114.82" cy="263.70" r="0.61" fill="#c4c4c4" opacity="0.85"/>
<circle cx="104.45" cy="272.66" r="0.58" fill="#c4c4c4" opacity="0.85"/>
<circle cx="105.96" cy="269.85" r="0.43" fill="#a8a8a8" opacity="0.85"/>
<circle cx="97.22" cy="268.16" r="0.71" fill="#b0b0b0" opacity="0.85"/>
<circle cx="109.24" cy="270.61" r="0.41" fill="#9c9c9c" opacity="0.85"/>
<circle cx="108.46" cy="277.54" r="0.47" fill="#b4b4b4" opacity="0.85"/>
<circle cx="117.25" cy="278.01" r="0.51" fill="#a8a8a8" opacity="0.85"/>
<circle cx="100.92" cy="272.77" r="0.45" fill="#b4b4b4" opacity="0.85"/>
<circle cx="99.67" cy="277.65" r="0.55" fill="#b4b4b4" opacity="0.85"/>
<circle cx="103.64" cy="265.07" r="0.42" fill="#b4b4b4" opacity="0.85"/>
<circle cx="103.73" cy="266.88" r="0.75" fill="#b4b4b4" opacity="0.85"/>
<circle cx="110.66" cy="262.73" r="0.78" fill="#5c5c5c" opacity="0.85"/>
<circle cx="96.31" cy="270.39" r="0.65" fill="#505050" opacity="0.85"/>
<circle cx="103.83" cy="260.19" r="0.49" fill="#b0b0b0" opacity="0.85"/>
<circle cx="113.92" cy="262.93" r="0.39" fill="#505050" opacity="0.85"/>
<circle cx="111.56" cy="277.77" r="0.79" fill="#b4b4b4" opacity="0.85"/>
<circle cx="105.73" cy="280.44" r="0.50" fill="#a8a8a8" opacity="0.85"/>
<circle cx="112.81" cy="263.97" r="0.78" fill="#a8a8a8" opacity="0.85"/>
<circle cx="97.87" cy="276.46" r="0.52" fill="#505050" opacity="0.85"/>
<circle cx="101.11" cy="271.74" r="0.37" fill="#b0b0b0" opacity="0.85"/>
<circle cx="104.40" cy="262.78" r="0.46" fill="#c4c4c4" opacity="0.85"/>
<circle cx="111.64" cy="274.65" r="0.60" fill="#c4c4c4" opacity="0.85"/>
<circle cx="97.53" cy="272.64" r="0.42" fill="#505050" opacity="0.85"/>
<circle cx="101.85" cy="279.77" r="0.63" fill="#b0b0b0" opacity="0.85"/>
<circle cx="102.28" cy="266.19" r="0.58" fill="#cccccc" opacity="0.85"/>
<circle cx="109.15" cy="279.59" r="0.77" fill="#c4c4c4" opacity="0.85"/>
<circle cx="117.26" cy="269.85" r="0.61" fill="#cccccc" opacity="0.85"/>
<ellipse cx="26.00" cy="243.00" rx="2.40" ry="2.40" fill="#9a9a9a" opacity="0.2"/>
<circle cx="24.79" cy="244.32" r="0.41" fill="#505050" opacity="0.85"/>
<circle cx="26.01" cy="240.04" r="0.59" fill="#a8a8a8" opacity="0.85"/>
<circle cx="25.60" cy="246.14" r="0.36" fill="#b0b0b0" opacity="0.85"/>
<circle cx="25.73" cy="241.66" r="0.53" fill="#b4b4b4" opacity="0.85"/>
<circle cx="27.30" cy="243.78" r="0.49" fill="#505050" opacity="0.85"/>
<circle cx="25.38" cy="241.99" r="0.71" fill="#9c9c9c" opacity="0.85"/>
<circle cx="26.08" cy="241.42" r="0.39" fill="#5c5c5c" opacity="0.85"/>
<circle cx="25.22" cy="246.16" r="0.48" fill="#b0b0b0" opacity="0.85"/>
<circle cx="23.18" cy="244.96" r="0.77" fill="#c4c4c4" opacity="0.85"/>
<circle cx="26.97" cy="244.95" r="0.75" fill="#9c9c9c" opacity="0.85"/>
<circle cx="28.98" cy="243.48" r="0.46" fill="#cccccc" opacity="0.85"/>
<circle cx="27.22" cy="241.25" r="0.43" fill="#a8a8a8" opacity="0.85"/>
<circle cx="28.58" cy="245.28" r="0.67" fill="#505050" opacity="0.85"/>
<rect x="16.30" y="235.40" width="58.70" height="59.00" fill="none" stroke="#1e1e1e" stroke-width="1.05"/>
<polygon points="59.23,204.87 61.92,196.66 63.58,198.32 67.90,194.01 70.09,196.20 65.78,200.52 67.44,202.18" fill="#fff" stroke="#3a3a3a" stroke-width="0.55" stroke-linejoin="miter"/>
<polygon points="101.40,208.60 109.10,204.70 109.10,207.05 115.20,207.05 115.20,210.15 109.10,210.15 109.10,212.50" fill="#fff" stroke="#3a3a3a" stroke-width="0.55" stroke-linejoin="miter"/>
<polygon points="109.70,248.80 105.80,241.10 108.15,241.10 108.15,235.00 111.25,235.00 111.25,241.10 113.60,241.10" fill="#fff" stroke="#3a3a3a" stroke-width="0.55" stroke-linejoin="miter"/>
<text x="93.00" y="198.20" font-size="8.4" fill="#fff" stroke="#fff" stroke-width="0.12" font-weight="bold" textLength="27.00" lengthAdjust="spacingAndGlyphs">Control</text>
<line x1="98.00" y1="285.30" x2="117.00" y2="285.30" stroke="#151515" stroke-width="1.35" />
<line x1="56.00" y1="285.30" x2="66.60" y2="285.30" stroke="#151515" stroke-width="1.35" />
<rect x="16.30" y="188.40" width="106.40" height="106.00" fill="none" stroke="#262626" stroke-width="1.0"/>
</g>
<g>
<rect x="131.30" y="188.40" width="106.40" height="106.00" fill="url(#mg131_188)" />
<rect x="131.30" y="235.40" width="58.70" height="59.00" fill="#767676" />
<rect x="131.30" y="188.40" width="106.40" height="106.00" fill="url(#noise)" opacity="0.16"/>
<circle cx="142.70" cy="192.90" r="4.10" fill="#959595" stroke="#262626" stroke-width="0.9"/>
<circle cx="142.70" cy="192.90" r="3.20" fill="none" stroke="#c4c4c4" stroke-width="0.7"/>
<circle cx="142.80" cy="192.93" r="0.72" fill="#6e6e6e"/>
<circle cx="142.72" cy="192.49" r="0.78" fill="#b4b4b4"/>
<circle cx="141.02" cy="191.12" r="0.92" fill="#bcbcbc"/>
<circle cx="141.01" cy="192.11" r="0.96" fill="#c4c4c4"/>
<circle cx="141.98" cy="191.59" r="0.56" fill="#b4b4b4"/>
<circle cx="142.85" cy="191.20" r="0.94" fill="#b4b4b4"/>
<circle cx="141.14" cy="191.98" r="0.84" fill="#6e6e6e"/>
<circle cx="133.60" cy="199.70" r="2.70" fill="#959595" stroke="#262626" stroke-width="0.9"/>
<circle cx="133.60" cy="199.70" r="1.80" fill="none" stroke="#c4c4c4" stroke-width="0.7"/>
<circle cx="133.97" cy="199.79" r="0.87" fill="#c4c4c4"/>
<circle cx="134.31" cy="200.13" r="1.00" fill="#7c7c7c"/>
<circle cx="133.40" cy="199.52" r="0.54" fill="#bcbcbc"/>
<circle cx="134.08" cy="199.53" r="0.85" fill="#c4c4c4"/>
<circle cx="167.20" cy="213.00" r="5.00" fill="#959595" stroke="#262626" stroke-width="0.9"/>
<circle cx="167.20" cy="213.00" r="4.10" fill="none" stroke="#c4c4c4" stroke-width="0.7"/>
<circle cx="166.99" cy="210.10" r="0.75" fill="#7c7c7c"/>
<circle cx="166.88" cy="212.35" r="0.92" fill="#bcbcbc"/>
<circle cx="167.50" cy="211.31" r="0.52" fill="#6e6e6e"/>
<circle cx="166.37" cy="210.30" r="0.59" fill="#c4c4c4"/>
<circle cx="168.61" cy="215.34" r="0.77" fill="#6e6e6e"/>
<circle cx="167.20" cy="213.21" r="0.67" fill="#c4c4c4"/>
<circle cx="169.06" cy="214.22" r="0.57" fill="#6e6e6e"/>
<circle cx="166.57" cy="210.74" r="0.85" fill="#6e6e6e"/>
<circle cx="169.62" cy="213.09" r="0.97" fill="#6e6e6e"/>
<circle cx="198.90" cy="213.50" r="4.10" fill="#959595" stroke="#262626" stroke-width="0.9"/>
<circle cx="198.90" cy="213.50" r="3.20" fill="none" stroke="#c4c4c4" stroke-width="0.7"/>
<circle cx="198.44" cy="214.13" r="0.79" fill="#6e6e6e"/>
<circle cx="198.99" cy="215.13" r="0.77" fill="#b4b4b4"/>
<circle cx="198.93" cy="213.06" r="0.80" fill="#6e6e6e"/>
<circle cx="196.97" cy="213.98" r="0.56" fill="#6e6e6e"/>
<circle cx="198.67" cy="214.41" r="0.52" fill="#6e6e6e"/>
<circle cx="199.53" cy="213.02" r="0.85" fill="#b4b4b4"/>
<circle cx="198.62" cy="213.59" r="0.72" fill="#c4c4c4"/>
<circle cx="169.00" cy="231.40" r="4.10" fill="#959595" stroke="#262626" stroke-width="0.9"/>
<circle cx="169.00" cy="231.40" r="3.20" fill="none" stroke="#c4c4c4" stroke-width="0.7"/>
<circle cx="168.32" cy="231.08" r="0.54" fill="#bcbcbc"/>
<circle cx="171.57" cy="231.58" r="0.54" fill="#7c7c7c"/>
<circle cx="168.48" cy="228.91" r="0.63" fill="#bcbcbc"/>
<circle cx="167.48" cy="229.43" r="0.59" fill="#7c7c7c"/>
<circle cx="168.98" cy="231.39" r="0.82" fill="#b4b4b4"/>
<circle cx="167.31" cy="229.65" r="0.83" fill="#c4c4c4"/>
<circle cx="170.71" cy="232.32" r="0.89" fill="#b4b4b4"/>
<circle cx="202.30" cy="234.10" r="2.70" fill="#7e7e7e" stroke="#a6a6a6" stroke-width="0.7"/>
<circle cx="202.30" cy="234.10" r="3.20" fill="none" stroke="#4a4a4a" stroke-width="0.5"/>
<circle cx="202.57" cy="233.67" r="0.78" fill="#a0a0a0"/>
<circle cx="200.80" cy="233.86" r="0.47" fill="#999"/>
<circle cx="201.80" cy="243.30" r="2.70" fill="#959595" stroke="#262626" stroke-width="0.9"/>
<circle cx="201.80" cy="243.30" r="1.80" fill="none" stroke="#c4c4c4" stroke-width="0.7"/>
<circle cx="202.01" cy="242.33" r="0.66" fill="#bcbcbc"/>
<circle cx="202.20" cy="244.21" r="0.62" fill="#c4c4c4"/>
<circle cx="202.52" cy="244.13" r="0.62" fill="#c4c4c4"/>
<circle cx="202.46" cy="243.47" r="0.95" fill="#7c7c7c"/>
<circle cx="192.00" cy="246.00" r="2.70" fill="#7e7e7e" stroke="#a6a6a6" stroke-width="0.7"/>
<circle cx="192.00" cy="246.00" r="3.20" fill="none" stroke="#4a4a4a" stroke-width="0.5"/>
<circle cx="192.79" cy="245.71" r="0.69" fill="#6e6e6e"/>
<circle cx="193.02" cy="245.97" r="0.43" fill="#999"/>
<circle cx="221.80" cy="245.60" r="4.10" fill="#7e7e7e" stroke="#a6a6a6" stroke-width="0.7"/>
<circle cx="221.80" cy="245.60" r="4.60" fill="none" stroke="#4a4a4a" stroke-width="0.5"/>
<circle cx="221.61" cy="245.13" r="0.65" fill="#6e6e6e"/>
<circle cx="219.33" cy="247.36" r="0.59" fill="#6e6e6e"/>
<circle cx="222.03" cy="246.73" r="0.74" fill="#a0a0a0"/>
<circle cx="223.30" cy="243.68" r="0.46" fill="#6e6e6e"/>
<circle cx="229.10" cy="265.00" r="5.70" fill="#959595" stroke="#262626" stroke-width="0.9"/>
<circle cx="229.10" cy="265.00" r="4.80" fill="none" stroke="#c4c4c4" stroke-width="0.7"/>
<circle cx="229.31" cy="265.10" r="0.95" fill="#7c7c7c"/>
<circle cx="229.13" cy="265.01" r="0.95" fill="#6e6e6e"/>
<circle cx="229.74" cy="266.07" r="0.90" fill="#7c7c7c"/>
<circle cx="228.02" cy="262.87" r="0.54" fill="#7c7c7c"/>
<circle cx="228.24" cy="266.73" r="0.95" fill="#bcbcbc"/>
<circle cx="231.81" cy="261.94" r="0.81" fill="#bcbcbc"/>
<circle cx="229.19" cy="264.77" r="0.80" fill="#c4c4c4"/>
<circle cx="228.40" cy="267.29" r="0.74" fill="#c4c4c4"/>
<circle cx="228.34" cy="264.00" r="0.77" fill="#c4c4c4"/>
<circle cx="226.72" cy="262.35" r="0.84" fill="#6e6e6e"/>
<circle cx="206.90" cy="274.90" r="2.70" fill="#7e7e7e" stroke="#a6a6a6" stroke-width="0.7"/>
<circle cx="206.90" cy="274.90" r="3.20" fill="none" stroke="#4a4a4a" stroke-width="0.5"/>
<circle cx="206.76" cy="274.95" r="0.63" fill="#999"/>
<circle cx="205.39" cy="274.36" r="0.61" fill="#6e6e6e"/>
<circle cx="165.60" cy="252.90" r="5.70" fill="#959595" stroke="#262626" stroke-width="0.9"/>
<circle cx="165.60" cy="252.90" r="4.80" fill="none" stroke="#c4c4c4" stroke-width="0.7"/>
<circle cx="164.07" cy="252.24" r="0.61" fill="#b4b4b4"/>
<circle cx="166.44" cy="252.73" r="0.61" fill="#b4b4b4"/>
<circle cx="167.02" cy="250.57" r="0.77" fill="#6e6e6e"/>
<circle cx="165.58" cy="254.95" r="0.73" fill="#bcbcbc"/>
<circle cx="162.77" cy="252.15" r="0.95" fill="#bcbcbc"/>
<circle cx="162.33" cy="251.44" r="0.90" fill="#b4b4b4"/>
<circle cx="167.00" cy="254.48" r="0.86" fill="#bcbcbc"/>
<circle cx="165.62" cy="252.42" r="0.55" fill="#bcbcbc"/>
<circle cx="166.39" cy="251.46" r="0.98" fill="#6e6e6e"/>
<circle cx="166.32" cy="254.76" r="0.57" fill="#b4b4b4"/>
<circle cx="153.00" cy="239.10" r="3.40" fill="#7e7e7e" stroke="#a6a6a6" stroke-width="0.7"/>
<circle cx="153.00" cy="239.10" r="3.90" fill="none" stroke="#4a4a4a" stroke-width="0.5"/>
<circle cx="153.02" cy="238.96" r="0.42" fill="#a0a0a0"/>
<circle cx="154.63" cy="239.54" r="0.58" fill="#a0a0a0"/>
<circle cx="153.24" cy="239.32" r="0.65" fill="#a0a0a0"/>
<circle cx="159.90" cy="265.70" r="3.40" fill="#7e7e7e" stroke="#a6a6a6" stroke-width="0.7"/>
<circle cx="159.90" cy="265.70" r="3.90" fill="none" stroke="#4a4a4a" stroke-width="0.5"/>
<circle cx="160.84" cy="264.73" r="0.75" fill="#999"/>
<circle cx="160.78" cy="267.26" r="0.72" fill="#6e6e6e"/>
<circle cx="159.90" cy="265.67" r="0.45" fill="#6e6e6e"/>
<circle cx="151.90" cy="268.90" r="3.40" fill="#7e7e7e" stroke="#a6a6a6" stroke-width="0.7"/>
<circle cx="151.90" cy="268.90" r="3.90" fill="none" stroke="#4a4a4a" stroke-width="0.5"/>
<circle cx="150.66" cy="270.17" r="0.69" fill="#6e6e6e"/>
<circle cx="153.30" cy="269.29" r="0.54" fill="#a0a0a0"/>
<circle cx="151.22" cy="270.18" r="0.77" fill="#a0a0a0"/>
<circle cx="156.50" cy="282.20" r="5.00" fill="#7e7e7e" stroke="#a6a6a6" stroke-width="0.7"/>
<circle cx="156.50" cy="282.20" r="5.50" fill="none" stroke="#4a4a4a" stroke-width="0.5"/>
<circle cx="156.04" cy="281.29" r="0.68" fill="#a0a0a0"/>
<circle cx="160.42" cy="282.73" r="0.45" fill="#6e6e6e"/>
<circle cx="156.94" cy="282.26" r="0.47" fill="#6e6e6e"/>
<circle cx="155.41" cy="281.81" r="0.67" fill="#999"/>
<circle cx="157.71" cy="280.18" r="0.62" fill="#6e6e6e"/>
<circle cx="171.40" cy="246.00" r="2.00" fill="#7e7e7e" stroke="#a6a6a6" stroke-width="0.7"/>
<circle cx="171.40" cy="246.00" r="2.50" fill="none" stroke="#4a4a4a" stroke-width="0.5"/>
<circle cx="171.10" cy="245.25" r="0.41" fill="#6e6e6e"/>
<circle cx="171.32" cy="246.13" r="0.59" fill="#999"/>
<circle cx="209.00" cy="213.50" r="1.20" fill="#6a6a6a" stroke="#aaa" stroke-width="0.5"/>
<circle cx="214.00" cy="225.00" r="1.00" fill="#6a6a6a" stroke="#aaa" stroke-width="0.5"/>
<circle cx="163.00" cy="221.00" r="1.30" fill="#7e7e7e" stroke="#a6a6a6" stroke-width="0.7"/>
<circle cx="163.00" cy="221.00" r="1.80" fill="none" stroke="#4a4a4a" stroke-width="0.5"/>
<circle cx="163.25" cy="221.05" r="0.47" fill="#a0a0a0"/>
<ellipse cx="192.00" cy="229.50" rx="3.20" ry="3.20" fill="#9a9a9a" opacity="0.2"/>
<circle cx="193.65" cy="225.90" r="0.73" fill="#b0b0b0" opacity="0.85"/>
<circle cx="195.91" cy="228.69" r="0.53" fill="#cccccc" opacity="0.85"/>
<circle cx="194.62" cy="226.81" r="0.51" fill="#a8a8a8" opacity="0.85"/>
<circle cx="189.36" cy="229.03" r="0.62" fill="#c4c4c4" opacity="0.85"/>
<circle cx="193.90" cy="230.04" r="0.68" fill="#9c9c9c" opacity="0.85"/>
<circle cx="190.39" cy="232.37" r="0.49" fill="#9c9c9c" opacity="0.85"/>
<circle cx="190.29" cy="232.37" r="0.36" fill="#505050" opacity="0.85"/>
<circle cx="187.39" cy="230.70" r="0.63" fill="#b4b4b4" opacity="0.85"/>
<circle cx="191.74" cy="227.70" r="0.47" fill="#b0b0b0" opacity="0.85"/>
<circle cx="189.54" cy="229.50" r="0.80" fill="#c4c4c4" opacity="0.85"/>
<circle cx="195.51" cy="230.26" r="0.74" fill="#a8a8a8" opacity="0.85"/>
<circle cx="192.58" cy="225.73" r="0.51" fill="#a8a8a8" opacity="0.85"/>
<circle cx="191.16" cy="233.70" r="0.66" fill="#c4c4c4" opacity="0.85"/>
<circle cx="190.60" cy="233.45" r="0.58" fill="#9c9c9c" opacity="0.85"/>
<circle cx="190.12" cy="227.37" r="0.50" fill="#b0b0b0" opacity="0.85"/>
<circle cx="190.88" cy="225.73" r="0.58" fill="#cccccc" opacity="0.85"/>
<circle cx="195.40" cy="226.84" r="0.42" fill="#9c9c9c" opacity="0.85"/>
<circle cx="193.25" cy="233.85" r="0.53" fill="#cccccc" opacity="0.85"/>
<circle cx="188.65" cy="232.06" r="0.61" fill="#c4c4c4" opacity="0.85"/>
<circle cx="194.52" cy="232.70" r="0.68" fill="#5c5c5c" opacity="0.85"/>
<circle cx="187.59" cy="228.03" r="0.38" fill="#9c9c9c" opacity="0.85"/>
<circle cx="193.69" cy="233.79" r="0.49" fill="#c4c4c4" opacity="0.85"/>
<circle cx="190.01" cy="232.11" r="0.67" fill="#b0b0b0" opacity="0.85"/>
<circle cx="195.88" cy="227.43" r="0.75" fill="#9c9c9c" opacity="0.85"/>
<circle cx="191.61" cy="231.90" r="0.69" fill="#b4b4b4" opacity="0.85"/>
<circle cx="190.36" cy="227.83" r="0.45" fill="#b4b4b4" opacity="0.85"/>
<circle cx="190.27" cy="230.77" r="0.74" fill="#5c5c5c" opacity="0.85"/>
<circle cx="190.73" cy="227.79" r="0.78" fill="#b4b4b4" opacity="0.85"/>
<circle cx="190.91" cy="228.70" r="0.67" fill="#9c9c9c" opacity="0.85"/>
<circle cx="194.50" cy="229.58" r="0.64" fill="#b4b4b4" opacity="0.85"/>
<circle cx="193.96" cy="228.47" r="0.74" fill="#9c9c9c" opacity="0.85"/>
<circle cx="195.30" cy="230.07" r="0.43" fill="#9c9c9c" opacity="0.85"/>
<rect x="131.30" y="235.40" width="58.70" height="59.00" fill="none" stroke="#1e1e1e" stroke-width="1.05"/>
<text x="186.30" y="198.20" font-size="8.4" fill="#fff" stroke="#fff" stroke-width="0.12" font-weight="bold" textLength="49.20" lengthAdjust="spacingAndGlyphs">Lenalidomide</text>
<line x1="213.70" y1="285.30" x2="232.50" y2="285.30" stroke="#151515" stroke-width="1.35" />
<line x1="172.10" y1="285.30" x2="182.80" y2="285.30" stroke="#151515" stroke-width="1.35" />
<rect x="131.30" y="188.40" width="106.40" height="106.00" fill="none" stroke="#262626" stroke-width="1.0"/>
</g>
<g>
<rect x="246.30" y="188.40" width="106.40" height="106.00" fill="url(#mg246_188)" />
<rect x="246.30" y="235.40" width="58.70" height="59.00" fill="#7b7b7b" />
<rect x="246.30" y="188.40" width="106.40" height="106.00" fill="url(#noise)" opacity="0.16"/>
<ellipse cx="330" cy="226" rx="26" ry="24" fill="url(#bub)" opacity="0.6"/>
<circle cx="299" cy="214.6" r="9.5" fill="none" stroke="#9a9a9a" stroke-width="1.2" opacity="0.5"/>
<ellipse cx="304" cy="214" rx="12" ry="11" fill="url(#bub)"/>
<circle cx="299" cy="214.6" r="2.6" fill="#5a5a5a" stroke="#999" stroke-width="0.5"/>
<circle cx="269.20" cy="227.20" r="3.80" fill="#7e7e7e" stroke="#a6a6a6" stroke-width="0.7"/>
<circle cx="269.20" cy="227.20" r="4.30" fill="none" stroke="#4a4a4a" stroke-width="0.5"/>
<circle cx="270.66" cy="225.51" r="0.65" fill="#a0a0a0"/>
<circle cx="268.50" cy="228.39" r="0.56" fill="#999"/>
<circle cx="271.47" cy="226.30" r="0.77" fill="#a0a0a0"/>
<circle cx="289.80" cy="253.60" r="5.00" fill="#7e7e7e" stroke="#a6a6a6" stroke-width="0.7"/>
<circle cx="289.80" cy="253.60" r="5.50" fill="none" stroke="#4a4a4a" stroke-width="0.5"/>
<circle cx="286.17" cy="252.05" r="0.57" fill="#a0a0a0"/>
<circle cx="288.97" cy="250.36" r="0.44" fill="#a0a0a0"/>
<circle cx="290.12" cy="254.07" r="0.54" fill="#a0a0a0"/>
<circle cx="288.91" cy="254.65" r="0.64" fill="#999"/>
<circle cx="287.33" cy="252.71" r="0.63" fill="#999"/>
<circle cx="253.00" cy="228.00" r="1.00" fill="#6a6a6a" stroke="#aaa" stroke-width="0.5"/>
<ellipse cx="254.30" cy="198.60" rx="3.20" ry="4.80" fill="#9a9a9a" opacity="0.2"/>
<circle cx="254.77" cy="204.22" r="0.69" fill="#cccccc" opacity="0.85"/>
<circle cx="254.73" cy="194.65" r="0.60" fill="#cccccc" opacity="0.85"/>
<circle cx="252.05" cy="202.61" r="0.41" fill="#5c5c5c" opacity="0.85"/>
<circle cx="257.61" cy="198.88" r="0.42" fill="#9c9c9c" opacity="0.85"/>
<circle cx="252.20" cy="195.30" r="0.77" fill="#a8a8a8" opacity="0.85"/>
<circle cx="253.11" cy="196.82" r="0.60" fill="#505050" opacity="0.85"/>
<circle cx="256.23" cy="204.95" r="0.68" fill="#9c9c9c" opacity="0.85"/>
<circle cx="257.97" cy="194.75" r="0.59" fill="#c4c4c4" opacity="0.85"/>
<circle cx="251.91" cy="203.49" r="0.79" fill="#cccccc" opacity="0.85"/>
<circle cx="250.47" cy="198.64" r="0.76" fill="#9c9c9c" opacity="0.85"/>
<circle cx="252.61" cy="200.73" r="0.40" fill="#b4b4b4" opacity="0.85"/>
<circle cx="254.17" cy="196.77" r="0.65" fill="#b0b0b0" opacity="0.85"/>
<circle cx="252.94" cy="201.37" r="0.53" fill="#b0b0b0" opacity="0.85"/>
<circle cx="258.38" cy="195.19" r="0.36" fill="#505050" opacity="0.85"/>
<circle cx="258.31" cy="199.39" r="0.45" fill="#505050" opacity="0.85"/>
<circle cx="255.51" cy="204.60" r="0.48" fill="#5c5c5c" opacity="0.85"/>
<circle cx="256.53" cy="198.48" r="0.56" fill="#c4c4c4" opacity="0.85"/>
<circle cx="258.15" cy="196.05" r="0.72" fill="#c4c4c4" opacity="0.85"/>
<circle cx="253.74" cy="202.66" r="0.74" fill="#cccccc" opacity="0.85"/>
<circle cx="254.30" cy="202.67" r="0.45" fill="#cccccc" opacity="0.85"/>
<circle cx="258.32" cy="200.65" r="0.37" fill="#9c9c9c" opacity="0.85"/>
<circle cx="254.78" cy="193.88" r="0.74" fill="#b0b0b0" opacity="0.85"/>
<circle cx="256.92" cy="198.47" r="0.71" fill="#b4b4b4" opacity="0.85"/>
<circle cx="256.95" cy="204.21" r="0.76" fill="#c4c4c4" opacity="0.85"/>
<circle cx="256.70" cy="203.62" r="0.69" fill="#a8a8a8" opacity="0.85"/>
<circle cx="251.35" cy="199.60" r="0.50" fill="#b0b0b0" opacity="0.85"/>
<circle cx="257.84" cy="195.61" r="0.79" fill="#9c9c9c" opacity="0.85"/>
<circle cx="256.58" cy="199.32" r="0.37" fill="#b4b4b4" opacity="0.85"/>
<circle cx="251.99" cy="198.50" r="0.66" fill="#b0b0b0" opacity="0.85"/>
<circle cx="254.16" cy="197.03" r="0.38" fill="#9c9c9c" opacity="0.85"/>
<circle cx="257.91" cy="203.10" r="0.59" fill="#c4c4c4" opacity="0.85"/>
<circle cx="256.57" cy="198.66" r="0.63" fill="#c4c4c4" opacity="0.85"/>
<circle cx="249.71" cy="196.58" r="0.73" fill="#9c9c9c" opacity="0.85"/>
<circle cx="255.59" cy="198.07" r="0.73" fill="#505050" opacity="0.85"/>
<circle cx="256.54" cy="198.00" r="0.47" fill="#a8a8a8" opacity="0.85"/>
<circle cx="255.39" cy="201.92" r="0.78" fill="#a8a8a8" opacity="0.85"/>
<circle cx="254.65" cy="200.09" r="0.47" fill="#9c9c9c" opacity="0.85"/>
<circle cx="253.85" cy="199.90" r="0.59" fill="#cccccc" opacity="0.85"/>
<circle cx="250.50" cy="196.79" r="0.53" fill="#5c5c5c" opacity="0.85"/>
<circle cx="253.01" cy="202.84" r="0.52" fill="#c4c4c4" opacity="0.85"/>
<circle cx="251.99" cy="201.64" r="0.75" fill="#c4c4c4" opacity="0.85"/>
<circle cx="252.75" cy="195.96" r="0.66" fill="#5c5c5c" opacity="0.85"/>
<circle cx="253.70" cy="191.49" r="0.65" fill="#505050" opacity="0.85"/>
<circle cx="257.53" cy="201.54" r="0.76" fill="#b4b4b4" opacity="0.85"/>
<circle cx="258.11" cy="200.44" r="0.66" fill="#9c9c9c" opacity="0.85"/>
<circle cx="250.63" cy="200.68" r="0.79" fill="#cccccc" opacity="0.85"/>
<circle cx="258.45" cy="198.64" r="0.58" fill="#cccccc" opacity="0.85"/>
<circle cx="250.29" cy="194.67" r="0.72" fill="#505050" opacity="0.85"/>
<circle cx="255.45" cy="192.11" r="0.67" fill="#9c9c9c" opacity="0.85"/>
<circle cx="251.57" cy="201.84" r="0.38" fill="#9c9c9c" opacity="0.85"/>
<circle cx="255.45" cy="192.99" r="0.47" fill="#5c5c5c" opacity="0.85"/>
<circle cx="256.71" cy="192.99" r="0.58" fill="#9c9c9c" opacity="0.85"/>
<ellipse cx="331.00" cy="231.80" rx="9.60" ry="7.20" fill="#9a9a9a" opacity="0.2"/>
<circle cx="324.30" cy="232.54" r="0.38" fill="#c4c4c4" opacity="0.85"/>
<circle cx="331.39" cy="225.29" r="0.59" fill="#505050" opacity="0.85"/>
<circle cx="333.73" cy="226.94" r="0.42" fill="#c4c4c4" opacity="0.85"/>
<circle cx="327.81" cy="227.93" r="0.49" fill="#b4b4b4" opacity="0.85"/>
<circle cx="322.36" cy="239.46" r="0.41" fill="#b0b0b0" opacity="0.85"/>
<circle cx="335.10" cy="236.26" r="0.51" fill="#a8a8a8" opacity="0.85"/>
<circle cx="325.59" cy="225.13" r="0.55" fill="#5c5c5c" opacity="0.85"/>
<circle cx="338.71" cy="235.37" r="0.66" fill="#cccccc" opacity="0.85"/>
<circle cx="321.54" cy="234.14" r="0.69" fill="#c4c4c4" opacity="0.85"/>
<circle cx="337.99" cy="239.00" r="0.57" fill="#9c9c9c" opacity="0.85"/>
<circle cx="324.93" cy="224.60" r="0.71" fill="#9c9c9c" opacity="0.85"/>
<circle cx="330.81" cy="239.85" r="0.61" fill="#b4b4b4" opacity="0.85"/>
<circle cx="336.69" cy="233.42" r="0.76" fill="#5c5c5c" opacity="0.85"/>
<circle cx="330.74" cy="237.36" r="0.39" fill="#cccccc" opacity="0.85"/>
<circle cx="322.25" cy="224.25" r="0.41" fill="#505050" opacity="0.85"/>
<circle cx="338.50" cy="230.29" r="0.76" fill="#9c9c9c" opacity="0.85"/>
<circle cx="329.20" cy="225.32" r="0.67" fill="#b4b4b4" opacity="0.85"/>
<circle cx="328.42" cy="238.42" r="0.51" fill="#5c5c5c" opacity="0.85"/>
<circle cx="322.77" cy="237.22" r="0.79" fill="#505050" opacity="0.85"/>
<circle cx="337.54" cy="225.20" r="0.65" fill="#a8a8a8" opacity="0.85"/>
<circle cx="329.17" cy="234.32" r="0.52" fill="#cccccc" opacity="0.85"/>
<circle cx="320.99" cy="230.57" r="0.40" fill="#b4b4b4" opacity="0.85"/>
<circle cx="318.17" cy="227.74" r="0.54" fill="#b0b0b0" opacity="0.85"/>
<circle cx="317.60" cy="233.48" r="0.53" fill="#cccccc" opacity="0.85"/>
<circle cx="339.25" cy="238.84" r="0.65" fill="#b4b4b4" opacity="0.85"/>
<circle cx="330.45" cy="224.97" r="0.77" fill="#b4b4b4" opacity="0.85"/>
<circle cx="328.74" cy="237.77" r="0.70" fill="#b0b0b0" opacity="0.85"/>
<circle cx="335.99" cy="235.23" r="0.61" fill="#a8a8a8" opacity="0.85"/>
<circle cx="341.10" cy="232.54" r="0.60" fill="#505050" opacity="0.85"/>
<circle cx="342.18" cy="234.82" r="0.57" fill="#9c9c9c" opacity="0.85"/>
<circle cx="342.27" cy="234.83" r="0.73" fill="#b0b0b0" opacity="0.85"/>
<circle cx="336.85" cy="237.11" r="0.74" fill="#b4b4b4" opacity="0.85"/>
<circle cx="336.08" cy="236.75" r="0.43" fill="#b4b4b4" opacity="0.85"/>
<circle cx="320.92" cy="229.92" r="0.49" fill="#a8a8a8" opacity="0.85"/>
<circle cx="330.58" cy="241.80" r="0.58" fill="#b0b0b0" opacity="0.85"/>
<circle cx="328.14" cy="232.97" r="0.46" fill="#5c5c5c" opacity="0.85"/>
<circle cx="324.06" cy="236.68" r="0.49" fill="#5c5c5c" opacity="0.85"/>
<circle cx="335.44" cy="235.42" r="0.77" fill="#9c9c9c" opacity="0.85"/>
<circle cx="324.26" cy="224.23" r="0.51" fill="#c4c4c4" opacity="0.85"/>
<circle cx="333.05" cy="227.22" r="0.68" fill="#b4b4b4" opacity="0.85"/>
<circle cx="334.74" cy="231.95" r="0.37" fill="#9c9c9c" opacity="0.85"/>
<circle cx="332.81" cy="238.83" r="0.67" fill="#505050" opacity="0.85"/>
<circle cx="334.59" cy="223.94" r="0.53" fill="#cccccc" opacity="0.85"/>
<circle cx="330.10" cy="226.97" r="0.38" fill="#505050" opacity="0.85"/>
<circle cx="320.47" cy="235.29" r="0.41" fill="#b4b4b4" opacity="0.85"/>
<circle cx="340.47" cy="225.12" r="0.43" fill="#cccccc" opacity="0.85"/>
<circle cx="340.53" cy="228.01" r="0.57" fill="#c4c4c4" opacity="0.85"/>
<circle cx="325.55" cy="223.92" r="0.71" fill="#5c5c5c" opacity="0.85"/>
<circle cx="325.39" cy="230.88" r="0.58" fill="#505050" opacity="0.85"/>
<circle cx="324.68" cy="232.84" r="0.78" fill="#a8a8a8" opacity="0.85"/>
<circle cx="320.95" cy="236.28" r="0.67" fill="#5c5c5c" opacity="0.85"/>
<circle cx="322.22" cy="234.29" r="0.77" fill="#b4b4b4" opacity="0.85"/>
<circle cx="334.85" cy="235.01" r="0.48" fill="#cccccc" opacity="0.85"/>
<circle cx="332.19" cy="239.99" r="0.67" fill="#9c9c9c" opacity="0.85"/>
<circle cx="329.47" cy="225.90" r="0.50" fill="#5c5c5c" opacity="0.85"/>
<circle cx="334.05" cy="228.26" r="0.53" fill="#505050" opacity="0.85"/>
<circle cx="339.69" cy="233.17" r="0.45" fill="#5c5c5c" opacity="0.85"/>
<circle cx="326.78" cy="230.86" r="0.42" fill="#cccccc" opacity="0.85"/>
<circle cx="334.35" cy="237.50" r="0.40" fill="#b0b0b0" opacity="0.85"/>
<circle cx="333.38" cy="228.48" r="0.80" fill="#505050" opacity="0.85"/>
<circle cx="340.70" cy="228.89" r="0.57" fill="#5c5c5c" opacity="0.85"/>
<circle cx="343.65" cy="232.86" r="0.44" fill="#a8a8a8" opacity="0.85"/>
<circle cx="329.52" cy="237.64" r="0.44" fill="#a8a8a8" opacity="0.85"/>
<circle cx="318.60" cy="233.55" r="0.61" fill="#505050" opacity="0.85"/>
<circle cx="327.62" cy="239.63" r="0.79" fill="#a8a8a8" opacity="0.85"/>
<circle cx="323.19" cy="240.51" r="0.37" fill="#5c5c5c" opacity="0.85"/>
<circle cx="326.18" cy="238.08" r="0.50" fill="#505050" opacity="0.85"/>
<circle cx="327.87" cy="234.50" r="0.71" fill="#5c5c5c" opacity="0.85"/>
<circle cx="329.40" cy="224.61" r="0.70" fill="#a8a8a8" opacity="0.85"/>
<circle cx="322.93" cy="227.65" r="0.37" fill="#b4b4b4" opacity="0.85"/>
<circle cx="322.87" cy="228.49" r="0.54" fill="#c4c4c4" opacity="0.85"/>
<circle cx="333.07" cy="229.25" r="0.51" fill="#c4c4c4" opacity="0.85"/>
<circle cx="328.75" cy="229.03" r="0.73" fill="#b4b4b4" opacity="0.85"/>
<circle cx="337.99" cy="226.46" r="0.47" fill="#c4c4c4" opacity="0.85"/>
<circle cx="336.52" cy="235.07" r="0.57" fill="#c4c4c4" opacity="0.85"/>
<circle cx="326.19" cy="230.97" r="0.46" fill="#cccccc" opacity="0.85"/>
<circle cx="328.31" cy="230.88" r="0.52" fill="#5c5c5c" opacity="0.85"/>
<circle cx="333.95" cy="238.30" r="0.79" fill="#505050" opacity="0.85"/>
<circle cx="341.30" cy="226.79" r="0.75" fill="#505050" opacity="0.85"/>
<circle cx="344.92" cy="232.79" r="0.71" fill="#cccccc" opacity="0.85"/>
<circle cx="329.01" cy="227.07" r="0.39" fill="#505050" opacity="0.85"/>
<circle cx="337.27" cy="240.52" r="0.54" fill="#b4b4b4" opacity="0.85"/>
<circle cx="327.61" cy="229.28" r="0.39" fill="#a8a8a8" opacity="0.85"/>
<circle cx="324.87" cy="229.33" r="0.72" fill="#b4b4b4" opacity="0.85"/>
<circle cx="338.50" cy="234.58" r="0.37" fill="#a8a8a8" opacity="0.85"/>
<circle cx="322.18" cy="225.72" r="0.50" fill="#5c5c5c" opacity="0.85"/>
<circle cx="334.63" cy="224.99" r="0.35" fill="#c4c4c4" opacity="0.85"/>
<circle cx="339.60" cy="229.26" r="0.36" fill="#b0b0b0" opacity="0.85"/>
<circle cx="332.33" cy="227.77" r="0.42" fill="#c4c4c4" opacity="0.85"/>
<circle cx="327.99" cy="235.16" r="0.77" fill="#505050" opacity="0.85"/>
<circle cx="326.26" cy="223.43" r="0.80" fill="#a8a8a8" opacity="0.85"/>
<circle cx="333.58" cy="224.57" r="0.59" fill="#cccccc" opacity="0.85"/>
<circle cx="329.18" cy="234.29" r="0.44" fill="#a8a8a8" opacity="0.85"/>
<circle cx="321.64" cy="224.77" r="0.39" fill="#b0b0b0" opacity="0.85"/>
<circle cx="329.27" cy="225.55" r="0.71" fill="#c4c4c4" opacity="0.85"/>
<circle cx="318.36" cy="232.24" r="0.41" fill="#cccccc" opacity="0.85"/>
<circle cx="337.59" cy="222.59" r="0.69" fill="#b4b4b4" opacity="0.85"/>
<circle cx="337.39" cy="223.40" r="0.55" fill="#c4c4c4" opacity="0.85"/>
<circle cx="336.80" cy="223.28" r="0.69" fill="#5c5c5c" opacity="0.85"/>
<circle cx="321.30" cy="226.95" r="0.38" fill="#a8a8a8" opacity="0.85"/>
<circle cx="333.67" cy="222.34" r="0.46" fill="#505050" opacity="0.85"/>
<circle cx="321.80" cy="227.57" r="0.61" fill="#cccccc" opacity="0.85"/>
<circle cx="343.40" cy="227.65" r="0.53" fill="#b4b4b4" opacity="0.85"/>
<circle cx="333.71" cy="222.40" r="0.72" fill="#9c9c9c" opacity="0.85"/>
<circle cx="327.47" cy="233.57" r="0.65" fill="#9c9c9c" opacity="0.85"/>
<circle cx="338.75" cy="227.80" r="0.35" fill="#5c5c5c" opacity="0.85"/>
<circle cx="329.16" cy="231.90" r="0.75" fill="#a8a8a8" opacity="0.85"/>
<circle cx="321.88" cy="232.87" r="0.56" fill="#5c5c5c" opacity="0.85"/>
<circle cx="327.60" cy="236.09" r="0.53" fill="#9c9c9c" opacity="0.85"/>
<circle cx="328.46" cy="232.21" r="0.39" fill="#9c9c9c" opacity="0.85"/>
<circle cx="329.41" cy="240.76" r="0.53" fill="#cccccc" opacity="0.85"/>
<circle cx="324.12" cy="230.54" r="0.66" fill="#505050" opacity="0.85"/>
<circle cx="343.62" cy="234.33" r="0.53" fill="#c4c4c4" opacity="0.85"/>
<circle cx="328.22" cy="235.44" r="0.45" fill="#c4c4c4" opacity="0.85"/>
<circle cx="339.66" cy="226.42" r="0.49" fill="#b0b0b0" opacity="0.85"/>
<circle cx="325.38" cy="240.99" r="0.74" fill="#505050" opacity="0.85"/>
<circle cx="339.82" cy="230.46" r="0.35" fill="#b4b4b4" opacity="0.85"/>
<circle cx="337.33" cy="241.16" r="0.60" fill="#cccccc" opacity="0.85"/>
<circle cx="324.19" cy="224.06" r="0.79" fill="#a8a8a8" opacity="0.85"/>
<circle cx="329.79" cy="222.47" r="0.41" fill="#b0b0b0" opacity="0.85"/>
<circle cx="331.15" cy="226.37" r="0.38" fill="#b0b0b0" opacity="0.85"/>
<circle cx="324.17" cy="226.74" r="0.51" fill="#5c5c5c" opacity="0.85"/>
<circle cx="324.94" cy="224.52" r="0.77" fill="#b0b0b0" opacity="0.85"/>
<circle cx="332.27" cy="229.34" r="0.57" fill="#cccccc" opacity="0.85"/>
<circle cx="330.31" cy="230.45" r="0.60" fill="#a8a8a8" opacity="0.85"/>
<circle cx="319.19" cy="234.82" r="0.68" fill="#c4c4c4" opacity="0.85"/>
<circle cx="331.00" cy="229.78" r="0.57" fill="#9c9c9c" opacity="0.85"/>
<circle cx="344.92" cy="232.26" r="0.42" fill="#5c5c5c" opacity="0.85"/>
<circle cx="321.68" cy="227.51" r="0.80" fill="#b4b4b4" opacity="0.85"/>
<circle cx="336.11" cy="239.15" r="0.63" fill="#5c5c5c" opacity="0.85"/>
<circle cx="331.66" cy="241.28" r="0.54" fill="#b4b4b4" opacity="0.85"/>
<circle cx="342.49" cy="230.61" r="0.57" fill="#b0b0b0" opacity="0.85"/>
<circle cx="339.53" cy="230.77" r="0.50" fill="#5c5c5c" opacity="0.85"/>
<circle cx="336.08" cy="225.22" r="0.71" fill="#b4b4b4" opacity="0.85"/>
<circle cx="327.91" cy="235.11" r="0.42" fill="#b4b4b4" opacity="0.85"/>
<circle cx="330.56" cy="227.35" r="0.76" fill="#5c5c5c" opacity="0.85"/>
<circle cx="318.89" cy="226.25" r="0.78" fill="#9c9c9c" opacity="0.85"/>
<circle cx="334.08" cy="237.34" r="0.44" fill="#cccccc" opacity="0.85"/>
<circle cx="326.89" cy="238.25" r="0.66" fill="#a8a8a8" opacity="0.85"/>
<circle cx="325.74" cy="236.46" r="0.47" fill="#cccccc" opacity="0.85"/>
<circle cx="334.92" cy="241.67" r="0.58" fill="#cccccc" opacity="0.85"/>
<circle cx="326.17" cy="234.15" r="0.37" fill="#9c9c9c" opacity="0.85"/>
<circle cx="329.10" cy="239.57" r="0.69" fill="#b0b0b0" opacity="0.85"/>
<ellipse cx="273.80" cy="263.90" rx="10.40" ry="11.20" fill="#9a9a9a" opacity="0.2"/>
<circle cx="272.31" cy="273.89" r="0.59" fill="#b0b0b0" opacity="0.85"/>
<circle cx="270.84" cy="276.85" r="0.55" fill="#5c5c5c" opacity="0.85"/>
<circle cx="285.15" cy="264.80" r="0.51" fill="#5c5c5c" opacity="0.85"/>
<circle cx="281.27" cy="260.71" r="0.75" fill="#505050" opacity="0.85"/>
<circle cx="277.24" cy="260.22" r="0.73" fill="#b0b0b0" opacity="0.85"/>
<circle cx="270.22" cy="248.16" r="0.64" fill="#c4c4c4" opacity="0.85"/>
<circle cx="285.96" cy="261.17" r="0.70" fill="#a8a8a8" opacity="0.85"/>
<circle cx="261.88" cy="273.93" r="0.53" fill="#9c9c9c" opacity="0.85"/>
<circle cx="264.75" cy="263.91" r="0.67" fill="#c4c4c4" opacity="0.85"/>
<circle cx="282.11" cy="275.20" r="0.65" fill="#b0b0b0" opacity="0.85"/>
<circle cx="278.44" cy="260.34" r="0.66" fill="#9c9c9c" opacity="0.85"/>
<circle cx="277.39" cy="261.92" r="0.73" fill="#b4b4b4" opacity="0.85"/>
<circle cx="267.94" cy="252.80" r="0.45" fill="#b0b0b0" opacity="0.85"/>
<circle cx="271.96" cy="249.15" r="0.42" fill="#c4c4c4" opacity="0.85"/>
<circle cx="267.39" cy="251.05" r="0.75" fill="#a8a8a8" opacity="0.85"/>
<circle cx="284.62" cy="255.30" r="0.75" fill="#b0b0b0" opacity="0.85"/>
<circle cx="282.68" cy="274.25" r="0.63" fill="#b0b0b0" opacity="0.85"/>
<circle cx="273.17" cy="268.20" r="0.62" fill="#5c5c5c" opacity="0.85"/>
<circle cx="280.94" cy="258.59" r="0.65" fill="#9c9c9c" opacity="0.85"/>
<circle cx="287.60" cy="261.53" r="0.36" fill="#9c9c9c" opacity="0.85"/>
<circle cx="268.39" cy="263.27" r="0.45" fill="#9c9c9c" opacity="0.85"/>
<circle cx="260.64" cy="267.75" r="0.47" fill="#cccccc" opacity="0.85"/>
<circle cx="283.50" cy="267.97" r="0.37" fill="#b4b4b4" opacity="0.85"/>
<circle cx="276.22" cy="258.96" r="0.48" fill="#505050" opacity="0.85"/>
<circle cx="287.91" cy="257.47" r="0.45" fill="#505050" opacity="0.85"/>
<circle cx="275.72" cy="256.50" r="0.45" fill="#b4b4b4" opacity="0.85"/>
<circle cx="280.33" cy="277.29" r="0.54" fill="#5c5c5c" opacity="0.85"/>
<circle cx="285.22" cy="269.05" r="0.61" fill="#a8a8a8" opacity="0.85"/>
<circle cx="264.76" cy="270.96" r="0.45" fill="#b0b0b0" opacity="0.85"/>
<circle cx="284.29" cy="251.51" r="0.78" fill="#9c9c9c" opacity="0.85"/>
<circle cx="266.39" cy="278.55" r="0.64" fill="#a8a8a8" opacity="0.85"/>
<circle cx="264.69" cy="258.85" r="0.44" fill="#cccccc" opacity="0.85"/>
<circle cx="269.90" cy="260.17" r="0.48" fill="#c4c4c4" opacity="0.85"/>
<circle cx="278.40" cy="277.44" r="0.55" fill="#b4b4b4" opacity="0.85"/>
<circle cx="278.02" cy="277.24" r="0.70" fill="#505050" opacity="0.85"/>
<circle cx="277.90" cy="277.82" r="0.69" fill="#5c5c5c" opacity="0.85"/>
<circle cx="287.98" cy="258.76" r="0.38" fill="#b4b4b4" opacity="0.85"/>
<circle cx="274.29" cy="265.74" r="0.60" fill="#5c5c5c" opacity="0.85"/>
<circle cx="265.64" cy="254.83" r="0.80" fill="#9c9c9c" opacity="0.85"/>
<circle cx="272.67" cy="267.22" r="0.66" fill="#c4c4c4" opacity="0.85"/>
<circle cx="271.45" cy="265.27" r="0.70" fill="#cccccc" opacity="0.85"/>
<circle cx="265.83" cy="276.88" r="0.70" fill="#9c9c9c" opacity="0.85"/>
<circle cx="258.53" cy="266.90" r="0.71" fill="#9c9c9c" opacity="0.85"/>
<circle cx="259.81" cy="266.17" r="0.73" fill="#c4c4c4" opacity="0.85"/>
<circle cx="266.10" cy="262.41" r="0.44" fill="#b0b0b0" opacity="0.85"/>
<circle cx="273.77" cy="266.35" r="0.67" fill="#505050" opacity="0.85"/>
<circle cx="288.34" cy="258.29" r="0.70" fill="#b0b0b0" opacity="0.85"/>
<circle cx="272.85" cy="257.24" r="0.41" fill="#b0b0b0" opacity="0.85"/>
<circle cx="280.99" cy="264.53" r="0.36" fill="#b0b0b0" opacity="0.85"/>
<circle cx="279.75" cy="248.62" r="0.56" fill="#a8a8a8" opacity="0.85"/>
<circle cx="287.97" cy="268.15" r="0.74" fill="#a8a8a8" opacity="0.85"/>
<circle cx="267.64" cy="274.58" r="0.57" fill="#cccccc" opacity="0.85"/>
<circle cx="269.27" cy="258.05" r="0.44" fill="#505050" opacity="0.85"/>
<circle cx="264.86" cy="276.38" r="0.62" fill="#a8a8a8" opacity="0.85"/>
<circle cx="278.69" cy="269.25" r="0.61" fill="#cccccc" opacity="0.85"/>
<circle cx="285.13" cy="257.23" r="0.69" fill="#cccccc" opacity="0.85"/>
<circle cx="261.83" cy="257.82" r="0.43" fill="#cccccc" opacity="0.85"/>
<circle cx="265.43" cy="251.17" r="0.67" fill="#505050" opacity="0.85"/>
<circle cx="259.43" cy="266.90" r="0.40" fill="#c4c4c4" opacity="0.85"/>
<circle cx="264.16" cy="264.03" r="0.71" fill="#505050" opacity="0.85"/>
<circle cx="274.64" cy="263.15" r="0.64" fill="#505050" opacity="0.85"/>
<circle cx="273.64" cy="260.62" r="0.76" fill="#a8a8a8" opacity="0.85"/>
<circle cx="273.95" cy="264.39" r="0.37" fill="#cccccc" opacity="0.85"/>
<circle cx="274.70" cy="280.08" r="0.70" fill="#505050" opacity="0.85"/>
<circle cx="284.99" cy="267.34" r="0.47" fill="#b0b0b0" opacity="0.85"/>
<circle cx="275.00" cy="265.76" r="0.69" fill="#a8a8a8" opacity="0.85"/>
<circle cx="277.38" cy="260.38" r="0.71" fill="#c4c4c4" opacity="0.85"/>
<circle cx="279.61" cy="274.16" r="0.58" fill="#a8a8a8" opacity="0.85"/>
<circle cx="283.08" cy="261.12" r="0.38" fill="#b4b4b4" opacity="0.85"/>
<circle cx="286.14" cy="266.41" r="0.58" fill="#a8a8a8" opacity="0.85"/>
<circle cx="265.02" cy="255.04" r="0.67" fill="#a8a8a8" opacity="0.85"/>
<circle cx="267.34" cy="252.71" r="0.53" fill="#cccccc" opacity="0.85"/>
<circle cx="287.25" cy="264.60" r="0.43" fill="#b4b4b4" opacity="0.85"/>
<circle cx="259.54" cy="263.22" r="0.40" fill="#505050" opacity="0.85"/>
<circle cx="269.63" cy="257.71" r="0.79" fill="#b0b0b0" opacity="0.85"/>
<circle cx="270.32" cy="260.69" r="0.65" fill="#9c9c9c" opacity="0.85"/>
<circle cx="280.29" cy="268.21" r="0.39" fill="#a8a8a8" opacity="0.85"/>
<circle cx="272.50" cy="273.14" r="0.42" fill="#5c5c5c" opacity="0.85"/>
<circle cx="261.69" cy="253.60" r="0.35" fill="#505050" opacity="0.85"/>
<circle cx="278.49" cy="266.47" r="0.58" fill="#505050" opacity="0.85"/>
<circle cx="264.23" cy="266.85" r="0.76" fill="#505050" opacity="0.85"/>
<circle cx="272.29" cy="248.99" r="0.73" fill="#b4b4b4" opacity="0.85"/>
<circle cx="273.23" cy="261.02" r="0.73" fill="#c4c4c4" opacity="0.85"/>
<circle cx="260.54" cy="270.53" r="0.63" fill="#c4c4c4" opacity="0.85"/>
<circle cx="271.68" cy="272.08" r="0.46" fill="#c4c4c4" opacity="0.85"/>
<circle cx="270.93" cy="273.32" r="0.52" fill="#9c9c9c" opacity="0.85"/>
<circle cx="277.10" cy="269.67" r="0.69" fill="#cccccc" opacity="0.85"/>
<circle cx="281.87" cy="249.58" r="0.47" fill="#9c9c9c" opacity="0.85"/>
<circle cx="273.82" cy="274.69" r="0.50" fill="#b4b4b4" opacity="0.85"/>
<circle cx="264.83" cy="261.16" r="0.35" fill="#9c9c9c" opacity="0.85"/>
<circle cx="274.80" cy="255.76" r="0.71" fill="#9c9c9c" opacity="0.85"/>
<circle cx="268.85" cy="262.81" r="0.54" fill="#9c9c9c" opacity="0.85"/>
<circle cx="271.75" cy="267.54" r="0.78" fill="#a8a8a8" opacity="0.85"/>
<circle cx="279.82" cy="274.28" r="0.77" fill="#505050" opacity="0.85"/>
<circle cx="261.34" cy="272.72" r="0.64" fill="#a8a8a8" opacity="0.85"/>
<circle cx="276.50" cy="278.21" r="0.67" fill="#b4b4b4" opacity="0.85"/>
<circle cx="268.92" cy="266.32" r="0.62" fill="#c4c4c4" opacity="0.85"/>
<circle cx="269.01" cy="259.39" r="0.69" fill="#5c5c5c" opacity="0.85"/>
<circle cx="273.88" cy="272.42" r="0.39" fill="#b4b4b4" opacity="0.85"/>
<circle cx="282.13" cy="253.88" r="0.65" fill="#c4c4c4" opacity="0.85"/>
<circle cx="263.18" cy="255.82" r="0.39" fill="#5c5c5c" opacity="0.85"/>
<circle cx="272.34" cy="251.71" r="0.51" fill="#a8a8a8" opacity="0.85"/>
<circle cx="277.08" cy="268.30" r="0.64" fill="#cccccc" opacity="0.85"/>
<circle cx="259.21" cy="262.89" r="0.43" fill="#cccccc" opacity="0.85"/>
<circle cx="280.75" cy="269.34" r="0.66" fill="#b0b0b0" opacity="0.85"/>
<circle cx="281.00" cy="278.70" r="0.74" fill="#a8a8a8" opacity="0.85"/>
<circle cx="265.21" cy="266.24" r="0.36" fill="#505050" opacity="0.85"/>
<circle cx="277.32" cy="256.87" r="0.71" fill="#505050" opacity="0.85"/>
<circle cx="269.87" cy="256.12" r="0.73" fill="#b4b4b4" opacity="0.85"/>
<circle cx="277.99" cy="266.12" r="0.65" fill="#5c5c5c" opacity="0.85"/>
<circle cx="276.30" cy="269.67" r="0.73" fill="#a8a8a8" opacity="0.85"/>
<circle cx="281.16" cy="266.88" r="0.61" fill="#a8a8a8" opacity="0.85"/>
<circle cx="274.46" cy="268.12" r="0.47" fill="#b4b4b4" opacity="0.85"/>
<circle cx="287.48" cy="257.04" r="0.51" fill="#9c9c9c" opacity="0.85"/>
<circle cx="272.81" cy="257.74" r="0.52" fill="#5c5c5c" opacity="0.85"/>
<circle cx="280.18" cy="275.73" r="0.76" fill="#505050" opacity="0.85"/>
<circle cx="280.67" cy="276.55" r="0.45" fill="#b4b4b4" opacity="0.85"/>
<circle cx="276.32" cy="271.28" r="0.73" fill="#b0b0b0" opacity="0.85"/>
<circle cx="274.65" cy="279.75" r="0.74" fill="#5c5c5c" opacity="0.85"/>
<circle cx="285.87" cy="268.18" r="0.46" fill="#9c9c9c" opacity="0.85"/>
<circle cx="283.95" cy="265.94" r="0.40" fill="#a8a8a8" opacity="0.85"/>
<circle cx="263.51" cy="259.89" r="0.40" fill="#b0b0b0" opacity="0.85"/>
<circle cx="267.35" cy="264.80" r="0.54" fill="#505050" opacity="0.85"/>
<circle cx="280.12" cy="266.63" r="0.51" fill="#5c5c5c" opacity="0.85"/>
<circle cx="258.99" cy="267.03" r="0.38" fill="#b4b4b4" opacity="0.85"/>
<circle cx="276.12" cy="278.18" r="0.40" fill="#b0b0b0" opacity="0.85"/>
<circle cx="284.40" cy="259.68" r="0.58" fill="#505050" opacity="0.85"/>
<circle cx="265.05" cy="263.28" r="0.39" fill="#a8a8a8" opacity="0.85"/>
<circle cx="272.36" cy="279.98" r="0.70" fill="#cccccc" opacity="0.85"/>
<circle cx="283.28" cy="275.01" r="0.39" fill="#9c9c9c" opacity="0.85"/>
<circle cx="271.15" cy="278.55" r="0.40" fill="#a8a8a8" opacity="0.85"/>
<circle cx="284.57" cy="262.74" r="0.58" fill="#c4c4c4" opacity="0.85"/>
<circle cx="264.02" cy="253.03" r="0.64" fill="#b4b4b4" opacity="0.85"/>
<circle cx="272.72" cy="261.12" r="0.70" fill="#505050" opacity="0.85"/>
<circle cx="270.82" cy="258.51" r="0.42" fill="#9c9c9c" opacity="0.85"/>
<circle cx="278.81" cy="248.48" r="0.74" fill="#b4b4b4" opacity="0.85"/>
<circle cx="263.81" cy="275.69" r="0.66" fill="#c4c4c4" opacity="0.85"/>
<circle cx="284.31" cy="265.02" r="0.55" fill="#a8a8a8" opacity="0.85"/>
<circle cx="278.70" cy="256.64" r="0.73" fill="#c4c4c4" opacity="0.85"/>
<circle cx="270.87" cy="272.77" r="0.77" fill="#505050" opacity="0.85"/>
<circle cx="263.31" cy="271.90" r="0.51" fill="#b4b4b4" opacity="0.85"/>
<circle cx="269.82" cy="264.33" r="0.58" fill="#9c9c9c" opacity="0.85"/>
<circle cx="284.17" cy="260.14" r="0.63" fill="#505050" opacity="0.85"/>
<circle cx="276.79" cy="278.90" r="0.49" fill="#505050" opacity="0.85"/>
<circle cx="275.54" cy="255.36" r="0.36" fill="#9c9c9c" opacity="0.85"/>
<circle cx="278.21" cy="273.60" r="0.61" fill="#b4b4b4" opacity="0.85"/>
<circle cx="274.76" cy="255.76" r="0.42" fill="#b4b4b4" opacity="0.85"/>
<circle cx="278.39" cy="251.79" r="0.60" fill="#cccccc" opacity="0.85"/>
<circle cx="272.42" cy="257.85" r="0.60" fill="#505050" opacity="0.85"/>
<circle cx="272.30" cy="274.61" r="0.80" fill="#c4c4c4" opacity="0.85"/>
<circle cx="279.64" cy="271.05" r="0.43" fill="#b4b4b4" opacity="0.85"/>
<circle cx="269.89" cy="266.12" r="0.71" fill="#cccccc" opacity="0.85"/>
<circle cx="273.57" cy="276.58" r="0.74" fill="#505050" opacity="0.85"/>
<circle cx="281.60" cy="261.57" r="0.39" fill="#b0b0b0" opacity="0.85"/>
<circle cx="260.82" cy="269.89" r="0.76" fill="#b4b4b4" opacity="0.85"/>
<circle cx="286.03" cy="270.15" r="0.74" fill="#c4c4c4" opacity="0.85"/>
<circle cx="263.85" cy="269.78" r="0.71" fill="#5c5c5c" opacity="0.85"/>
<circle cx="267.43" cy="254.02" r="0.55" fill="#a8a8a8" opacity="0.85"/>
<circle cx="262.44" cy="263.93" r="0.75" fill="#9c9c9c" opacity="0.85"/>
<circle cx="280.46" cy="262.17" r="0.62" fill="#a8a8a8" opacity="0.85"/>
<circle cx="273.60" cy="274.28" r="0.64" fill="#5c5c5c" opacity="0.85"/>
<circle cx="260.82" cy="272.53" r="0.65" fill="#5c5c5c" opacity="0.85"/>
<circle cx="285.83" cy="270.34" r="0.45" fill="#cccccc" opacity="0.85"/>
<circle cx="266.75" cy="278.11" r="0.56" fill="#cccccc" opacity="0.85"/>
<circle cx="268.05" cy="251.18" r="0.56" fill="#c4c4c4" opacity="0.85"/>
<circle cx="266.88" cy="278.69" r="0.39" fill="#b0b0b0" opacity="0.85"/>
<circle cx="285.10" cy="261.65" r="0.78" fill="#b0b0b0" opacity="0.85"/>
<circle cx="279.89" cy="259.14" r="0.52" fill="#9c9c9c" opacity="0.85"/>
<circle cx="264.38" cy="264.26" r="0.64" fill="#505050" opacity="0.85"/>
<circle cx="277.60" cy="260.00" r="0.75" fill="#c4c4c4" opacity="0.85"/>
<circle cx="264.44" cy="254.91" r="0.61" fill="#cccccc" opacity="0.85"/>
<circle cx="284.88" cy="259.38" r="0.51" fill="#9c9c9c" opacity="0.85"/>
<circle cx="274.26" cy="254.49" r="0.66" fill="#cccccc" opacity="0.85"/>
<circle cx="267.65" cy="250.61" r="0.52" fill="#b0b0b0" opacity="0.85"/>
<circle cx="287.08" cy="260.46" r="0.64" fill="#505050" opacity="0.85"/>
<circle cx="269.51" cy="248.04" r="0.52" fill="#505050" opacity="0.85"/>
<circle cx="281.20" cy="252.97" r="0.72" fill="#c4c4c4" opacity="0.85"/>
<circle cx="262.23" cy="254.71" r="0.44" fill="#b4b4b4" opacity="0.85"/>
<circle cx="285.16" cy="265.06" r="0.36" fill="#5c5c5c" opacity="0.85"/>
<circle cx="278.07" cy="249.23" r="0.66" fill="#a8a8a8" opacity="0.85"/>
<circle cx="281.28" cy="264.10" r="0.76" fill="#5c5c5c" opacity="0.85"/>
<circle cx="275.47" cy="255.93" r="0.40" fill="#b4b4b4" opacity="0.85"/>
<circle cx="287.88" cy="257.29" r="0.56" fill="#c4c4c4" opacity="0.85"/>
<circle cx="282.05" cy="268.31" r="0.54" fill="#5c5c5c" opacity="0.85"/>
<circle cx="265.94" cy="265.03" r="0.77" fill="#b4b4b4" opacity="0.85"/>
<circle cx="273.09" cy="272.52" r="0.63" fill="#a8a8a8" opacity="0.85"/>
<circle cx="271.17" cy="255.77" r="0.50" fill="#9c9c9c" opacity="0.85"/>
<circle cx="267.04" cy="264.28" r="0.69" fill="#b4b4b4" opacity="0.85"/>
<circle cx="279.18" cy="254.64" r="0.67" fill="#5c5c5c" opacity="0.85"/>
<circle cx="275.60" cy="278.77" r="0.39" fill="#cccccc" opacity="0.85"/>
<circle cx="267.95" cy="260.11" r="0.71" fill="#cccccc" opacity="0.85"/>
<circle cx="275.72" cy="256.09" r="0.72" fill="#a8a8a8" opacity="0.85"/>
<circle cx="263.67" cy="265.85" r="0.44" fill="#b4b4b4" opacity="0.85"/>
<circle cx="269.35" cy="261.17" r="0.46" fill="#cccccc" opacity="0.85"/>
<circle cx="273.26" cy="274.82" r="0.68" fill="#9c9c9c" opacity="0.85"/>
<circle cx="286.83" cy="266.66" r="0.58" fill="#505050" opacity="0.85"/>
<circle cx="276.97" cy="277.72" r="0.63" fill="#cccccc" opacity="0.85"/>
<circle cx="279.56" cy="259.50" r="0.80" fill="#5c5c5c" opacity="0.85"/>
<circle cx="278.34" cy="260.28" r="0.45" fill="#b4b4b4" opacity="0.85"/>
<circle cx="275.69" cy="248.76" r="0.53" fill="#5c5c5c" opacity="0.85"/>
<circle cx="265.25" cy="262.57" r="0.39" fill="#9c9c9c" opacity="0.85"/>
<circle cx="284.45" cy="267.55" r="0.43" fill="#c4c4c4" opacity="0.85"/>
<circle cx="268.49" cy="257.86" r="0.44" fill="#b4b4b4" opacity="0.85"/>
<circle cx="281.92" cy="272.06" r="0.66" fill="#9c9c9c" opacity="0.85"/>
<circle cx="265.20" cy="265.28" r="0.40" fill="#a8a8a8" opacity="0.85"/>
<circle cx="282.58" cy="268.35" r="0.38" fill="#cccccc" opacity="0.85"/>
<circle cx="277.49" cy="252.53" r="0.49" fill="#cccccc" opacity="0.85"/>
<circle cx="260.77" cy="265.95" r="0.59" fill="#9c9c9c" opacity="0.85"/>
<ellipse cx="310.40" cy="284.50" rx="4.00" ry="4.00" fill="#9a9a9a" opacity="0.2"/>
<circle cx="311.35" cy="279.48" r="0.63" fill="#9c9c9c" opacity="0.85"/>
<circle cx="313.60" cy="286.98" r="0.41" fill="#5c5c5c" opacity="0.85"/>
<circle cx="314.06" cy="279.97" r="0.38" fill="#c4c4c4" opacity="0.85"/>
<circle cx="309.95" cy="283.47" r="0.73" fill="#a8a8a8" opacity="0.85"/>
<circle cx="308.53" cy="281.54" r="0.42" fill="#a8a8a8" opacity="0.85"/>
<circle cx="308.75" cy="279.70" r="0.36" fill="#b4b4b4" opacity="0.85"/>
<circle cx="314.54" cy="281.86" r="0.67" fill="#a8a8a8" opacity="0.85"/>
<circle cx="308.21" cy="289.47" r="0.43" fill="#b0b0b0" opacity="0.85"/>
<circle cx="312.82" cy="289.16" r="0.67" fill="#b0b0b0" opacity="0.85"/>
<circle cx="306.72" cy="288.81" r="0.79" fill="#cccccc" opacity="0.85"/>
<circle cx="312.67" cy="286.55" r="0.56" fill="#b0b0b0" opacity="0.85"/>
<circle cx="314.89" cy="283.24" r="0.69" fill="#5c5c5c" opacity="0.85"/>
<circle cx="308.29" cy="286.18" r="0.69" fill="#c4c4c4" opacity="0.85"/>
<circle cx="314.03" cy="282.37" r="0.71" fill="#9c9c9c" opacity="0.85"/>
<circle cx="314.63" cy="285.24" r="0.79" fill="#c4c4c4" opacity="0.85"/>
<circle cx="307.89" cy="282.27" r="0.66" fill="#9c9c9c" opacity="0.85"/>
<circle cx="309.63" cy="283.30" r="0.74" fill="#b4b4b4" opacity="0.85"/>
<circle cx="309.85" cy="284.22" r="0.62" fill="#5c5c5c" opacity="0.85"/>
<circle cx="315.12" cy="281.04" r="0.45" fill="#9c9c9c" opacity="0.85"/>
<circle cx="308.07" cy="289.63" r="0.49" fill="#9c9c9c" opacity="0.85"/>
<circle cx="307.62" cy="281.96" r="0.40" fill="#5c5c5c" opacity="0.85"/>
<circle cx="311.22" cy="290.16" r="0.69" fill="#b0b0b0" opacity="0.85"/>
<circle cx="310.96" cy="280.02" r="0.72" fill="#505050" opacity="0.85"/>
<circle cx="309.55" cy="283.42" r="0.69" fill="#c4c4c4" opacity="0.85"/>
<circle cx="311.56" cy="281.71" r="0.52" fill="#9c9c9c" opacity="0.85"/>
<circle cx="311.57" cy="282.65" r="0.65" fill="#9c9c9c" opacity="0.85"/>
<circle cx="315.75" cy="286.42" r="0.73" fill="#c4c4c4" opacity="0.85"/>
<circle cx="312.02" cy="282.96" r="0.71" fill="#b4b4b4" opacity="0.85"/>
<circle cx="313.66" cy="279.54" r="0.56" fill="#9c9c9c" opacity="0.85"/>
<circle cx="305.36" cy="285.74" r="0.68" fill="#505050" opacity="0.85"/>
<circle cx="309.43" cy="285.66" r="0.50" fill="#a8a8a8" opacity="0.85"/>
<circle cx="315.68" cy="285.37" r="0.52" fill="#505050" opacity="0.85"/>
<circle cx="307.23" cy="281.70" r="0.44" fill="#b4b4b4" opacity="0.85"/>
<circle cx="306.70" cy="285.40" r="0.78" fill="#cccccc" opacity="0.85"/>
<circle cx="308.65" cy="288.94" r="0.49" fill="#cccccc" opacity="0.85"/>
<circle cx="307.31" cy="289.05" r="0.61" fill="#9c9c9c" opacity="0.85"/>
<circle cx="314.02" cy="287.34" r="0.57" fill="#a8a8a8" opacity="0.85"/>
<circle cx="305.53" cy="287.32" r="0.44" fill="#505050" opacity="0.85"/>
<circle cx="308.05" cy="287.25" r="0.64" fill="#a8a8a8" opacity="0.85"/>
<circle cx="306.69" cy="282.80" r="0.36" fill="#b0b0b0" opacity="0.85"/>
<circle cx="314.48" cy="288.90" r="0.59" fill="#c4c4c4" opacity="0.85"/>
<circle cx="312.68" cy="279.68" r="0.40" fill="#9c9c9c" opacity="0.85"/>
<circle cx="311.67" cy="280.01" r="0.45" fill="#b4b4b4" opacity="0.85"/>
<circle cx="314.84" cy="280.49" r="0.42" fill="#b0b0b0" opacity="0.85"/>
<circle cx="309.31" cy="283.24" r="0.44" fill="#b0b0b0" opacity="0.85"/>
<ellipse cx="343.00" cy="241.00" rx="4.80" ry="4.00" fill="#9a9a9a" opacity="0.2"/>
<circle cx="341.68" cy="244.26" r="0.57" fill="#c4c4c4" opacity="0.85"/>
<circle cx="343.01" cy="240.38" r="0.62" fill="#c4c4c4" opacity="0.85"/>
<circle cx="338.27" cy="244.80" r="0.43" fill="#c4c4c4" opacity="0.85"/>
<circle cx="347.52" cy="238.62" r="0.74" fill="#a8a8a8" opacity="0.85"/>
<circle cx="338.53" cy="245.40" r="0.58" fill="#505050" opacity="0.85"/>
<circle cx="348.41" cy="237.78" r="0.58" fill="#505050" opacity="0.85"/>
<circle cx="347.91" cy="239.15" r="0.42" fill="#c4c4c4" opacity="0.85"/>
<circle cx="341.84" cy="241.40" r="0.62" fill="#c4c4c4" opacity="0.85"/>
<circle cx="342.78" cy="244.15" r="0.45" fill="#b0b0b0" opacity="0.85"/>
<circle cx="341.84" cy="239.99" r="0.71" fill="#b4b4b4" opacity="0.85"/>
<circle cx="345.40" cy="239.61" r="0.59" fill="#505050" opacity="0.85"/>
<circle cx="343.73" cy="246.41" r="0.62" fill="#505050" opacity="0.85"/>
<circle cx="345.67" cy="239.47" r="0.69" fill="#a8a8a8" opacity="0.85"/>
<circle cx="341.57" cy="236.09" r="0.73" fill="#5c5c5c" opacity="0.85"/>
<circle cx="338.42" cy="242.96" r="0.77" fill="#cccccc" opacity="0.85"/>
<circle cx="341.02" cy="241.62" r="0.75" fill="#a8a8a8" opacity="0.85"/>
<circle cx="338.68" cy="239.59" r="0.56" fill="#9c9c9c" opacity="0.85"/>
<circle cx="338.37" cy="236.41" r="0.53" fill="#9c9c9c" opacity="0.85"/>
<circle cx="341.73" cy="235.11" r="0.42" fill="#505050" opacity="0.85"/>
<circle cx="338.22" cy="243.52" r="0.49" fill="#5c5c5c" opacity="0.85"/>
<circle cx="339.82" cy="238.00" r="0.44" fill="#c4c4c4" opacity="0.85"/>
<circle cx="340.95" cy="244.90" r="0.54" fill="#c4c4c4" opacity="0.85"/>
<circle cx="346.38" cy="236.56" r="0.56" fill="#cccccc" opacity="0.85"/>
<circle cx="342.12" cy="245.26" r="0.62" fill="#cccccc" opacity="0.85"/>
<circle cx="344.82" cy="242.95" r="0.51" fill="#a8a8a8" opacity="0.85"/>
<circle cx="341.59" cy="242.06" r="0.51" fill="#a8a8a8" opacity="0.85"/>
<circle cx="339.19" cy="242.61" r="0.64" fill="#b0b0b0" opacity="0.85"/>
<circle cx="336.58" cy="242.19" r="0.37" fill="#b4b4b4" opacity="0.85"/>
<circle cx="344.07" cy="236.95" r="0.78" fill="#b0b0b0" opacity="0.85"/>
<circle cx="340.92" cy="239.38" r="0.78" fill="#b4b4b4" opacity="0.85"/>
<circle cx="345.66" cy="243.87" r="0.71" fill="#b0b0b0" opacity="0.85"/>
<circle cx="338.00" cy="238.35" r="0.71" fill="#9c9c9c" opacity="0.85"/>
<ellipse cx="285.00" cy="256.00" rx="3.20" ry="3.20" fill="#9a9a9a" opacity="0.2"/>
<circle cx="286.98" cy="258.97" r="0.48" fill="#c4c4c4" opacity="0.85"/>
<circle cx="288.00" cy="259.44" r="0.63" fill="#b4b4b4" opacity="0.85"/>
<circle cx="286.11" cy="253.01" r="0.51" fill="#5c5c5c" opacity="0.85"/>
<circle cx="287.24" cy="254.26" r="0.64" fill="#9c9c9c" opacity="0.85"/>
<circle cx="282.26" cy="256.40" r="0.62" fill="#b0b0b0" opacity="0.85"/>
<circle cx="280.92" cy="254.23" r="0.52" fill="#b4b4b4" opacity="0.85"/>
<circle cx="282.80" cy="257.88" r="0.47" fill="#b4b4b4" opacity="0.85"/>
<circle cx="282.85" cy="259.78" r="0.77" fill="#c4c4c4" opacity="0.85"/>
<circle cx="284.05" cy="256.92" r="0.38" fill="#505050" opacity="0.85"/>
<circle cx="285.63" cy="254.27" r="0.45" fill="#505050" opacity="0.85"/>
<circle cx="283.45" cy="256.65" r="0.78" fill="#a8a8a8" opacity="0.85"/>
<circle cx="280.62" cy="254.55" r="0.70" fill="#a8a8a8" opacity="0.85"/>
<circle cx="287.61" cy="259.53" r="0.69" fill="#b4b4b4" opacity="0.85"/>
<circle cx="286.88" cy="253.69" r="0.63" fill="#a8a8a8" opacity="0.85"/>
<circle cx="284.48" cy="254.03" r="0.79" fill="#c4c4c4" opacity="0.85"/>
<circle cx="286.10" cy="256.27" r="0.37" fill="#a8a8a8" opacity="0.85"/>
<circle cx="283.12" cy="259.53" r="0.40" fill="#c4c4c4" opacity="0.85"/>
<circle cx="286.07" cy="257.74" r="0.65" fill="#9c9c9c" opacity="0.85"/>
<circle cx="287.83" cy="255.45" r="0.50" fill="#b0b0b0" opacity="0.85"/>
<rect x="246.30" y="235.40" width="58.70" height="59.00" fill="none" stroke="#1e1e1e" stroke-width="1.05"/>
<polygon points="273.00,198.60 280.70,194.70 280.70,197.05 286.80,197.05 286.80,200.15 280.70,200.15 280.70,202.50" fill="#fff" stroke="#3a3a3a" stroke-width="0.55" stroke-linejoin="miter"/>
<polygon points="318.10,226.10 310.40,230.00 310.40,227.65 304.30,227.65 304.30,224.55 310.40,224.55 310.40,222.20" fill="#fff" stroke="#3a3a3a" stroke-width="0.55" stroke-linejoin="miter"/>
<text x="300.80" y="198.20" font-size="8.4" fill="#fff" stroke="#fff" stroke-width="0.12" font-weight="bold" textLength="49.20" lengthAdjust="spacingAndGlyphs">Lenalidomide</text>
<text x="313.90" y="206.20" font-size="8.4" fill="#fff" stroke="#fff" stroke-width="0.12" font-weight="bold" textLength="36.10" lengthAdjust="spacingAndGlyphs">+estradiol</text>
<line x1="329.20" y1="285.30" x2="348.20" y2="285.30" stroke="#151515" stroke-width="1.35" />
<line x1="287.50" y1="285.30" x2="298.50" y2="285.30" stroke="#151515" stroke-width="1.35" />
<rect x="246.30" y="188.40" width="106.40" height="106.00" fill="none" stroke="#262626" stroke-width="1.0"/>
</g>
<g>
<rect x="16.30" y="352.50" width="106.40" height="105.90" fill="url(#mg16_352)" />
<rect x="16.30" y="399.40" width="58.70" height="59.00" fill="#7b7b7b" />
<rect x="16.30" y="352.50" width="106.40" height="105.90" fill="url(#noise)" opacity="0.16"/>
<circle cx="60.95" cy="356.87" r="2.75" fill="#959595" stroke="#262626" stroke-width="0.9"/>
<circle cx="60.95" cy="356.87" r="1.85" fill="none" stroke="#c4c4c4" stroke-width="0.7"/>
<circle cx="60.77" cy="356.86" r="0.96" fill="#b4b4b4"/>
<circle cx="60.79" cy="356.80" r="0.84" fill="#6e6e6e"/>
<circle cx="61.40" cy="357.54" r="0.90" fill="#bcbcbc"/>
<circle cx="61.10" cy="356.24" r="0.92" fill="#b4b4b4"/>
<circle cx="71.26" cy="356.87" r="2.29" fill="#959595" stroke="#262626" stroke-width="0.9"/>
<circle cx="71.26" cy="356.87" r="1.39" fill="none" stroke="#c4c4c4" stroke-width="0.7"/>
<circle cx="70.90" cy="357.30" r="0.78" fill="#6e6e6e"/>
<circle cx="71.22" cy="356.55" r="0.98" fill="#7c7c7c"/>
<circle cx="71.70" cy="356.66" r="0.95" fill="#c4c4c4"/>
<circle cx="71.55" cy="357.60" r="0.90" fill="#6e6e6e"/>
<circle cx="26.60" cy="367.18" r="2.29" fill="#959595" stroke="#262626" stroke-width="0.9"/>
<circle cx="26.60" cy="367.18" r="1.39" fill="none" stroke="#c4c4c4" stroke-width="0.7"/>
<circle cx="26.75" cy="366.55" r="0.84" fill="#bcbcbc"/>
<circle cx="26.35" cy="367.72" r="0.90" fill="#c4c4c4"/>
<circle cx="26.36" cy="367.57" r="0.74" fill="#bcbcbc"/>
<circle cx="26.48" cy="367.90" r="0.75" fill="#b4b4b4"/>
<circle cx="33.47" cy="371.76" r="3.21" fill="#959595" stroke="#262626" stroke-width="0.9"/>
<circle cx="33.47" cy="371.76" r="2.31" fill="none" stroke="#c4c4c4" stroke-width="0.7"/>
<circle cx="33.51" cy="371.69" r="0.88" fill="#7c7c7c"/>
<circle cx="32.08" cy="371.07" r="0.75" fill="#bcbcbc"/>
<circle cx="33.47" cy="371.75" r="0.89" fill="#bcbcbc"/>
<circle cx="33.85" cy="372.04" r="0.80" fill="#b4b4b4"/>
<circle cx="32.08" cy="372.35" r="0.54" fill="#c4c4c4"/>
<circle cx="44.92" cy="363.74" r="2.29" fill="#959595" stroke="#262626" stroke-width="0.9"/>
<circle cx="44.92" cy="363.74" r="1.39" fill="none" stroke="#c4c4c4" stroke-width="0.7"/>
<circle cx="44.64" cy="363.83" r="0.75" fill="#b4b4b4"/>
<circle cx="44.89" cy="363.58" r="0.64" fill="#c4c4c4"/>
<circle cx="44.42" cy="364.27" r="1.00" fill="#bcbcbc"/>
<circle cx="44.52" cy="363.94" r="0.73" fill="#c4c4c4"/>
<circle cx="70.12" cy="372.90" r="2.75" fill="#959595" stroke="#262626" stroke-width="0.9"/>
<circle cx="70.12" cy="372.90" r="1.85" fill="none" stroke="#c4c4c4" stroke-width="0.7"/>
<circle cx="70.44" cy="372.53" r="0.98" fill="#7c7c7c"/>
<circle cx="71.12" cy="373.20" r="0.53" fill="#c4c4c4"/>
<circle cx="70.79" cy="372.85" r="0.68" fill="#6e6e6e"/>
<circle cx="70.75" cy="372.04" r="0.91" fill="#c4c4c4"/>
<circle cx="68.97" cy="377.49" r="2.29" fill="#7e7e7e" stroke="#a6a6a6" stroke-width="0.7"/>
<circle cx="68.97" cy="377.49" r="2.79" fill="none" stroke="#4a4a4a" stroke-width="0.5"/>
<circle cx="69.57" cy="377.61" r="0.43" fill="#a0a0a0"/>
<circle cx="69.26" cy="376.38" r="0.59" fill="#a0a0a0"/>
<circle cx="58.66" cy="379.78" r="3.66" fill="#7e7e7e" stroke="#a6a6a6" stroke-width="0.7"/>
<circle cx="58.66" cy="379.78" r="4.16" fill="none" stroke="#4a4a4a" stroke-width="0.5"/>
<circle cx="56.78" cy="380.15" r="0.52" fill="#999"/>
<circle cx="59.53" cy="378.41" r="0.66" fill="#a0a0a0"/>
<circle cx="58.75" cy="378.06" r="0.50" fill="#999"/>
<circle cx="38.05" cy="380.92" r="2.75" fill="#959595" stroke="#262626" stroke-width="0.9"/>
<circle cx="38.05" cy="380.92" r="1.85" fill="none" stroke="#c4c4c4" stroke-width="0.7"/>
<circle cx="38.63" cy="381.89" r="0.74" fill="#6e6e6e"/>
<circle cx="38.12" cy="380.62" r="0.61" fill="#b4b4b4"/>
<circle cx="38.69" cy="380.50" r="0.82" fill="#b4b4b4"/>
<circle cx="37.00" cy="380.70" r="0.61" fill="#7c7c7c"/>
<circle cx="30.03" cy="387.79" r="3.21" fill="#959595" stroke="#262626" stroke-width="0.9"/>
<circle cx="30.03" cy="387.79" r="2.31" fill="none" stroke="#c4c4c4" stroke-width="0.7"/>
<circle cx="29.34" cy="388.19" r="0.84" fill="#c4c4c4"/>
<circle cx="30.02" cy="387.40" r="0.74" fill="#7c7c7c"/>
<circle cx="29.70" cy="387.73" r="0.58" fill="#c4c4c4"/>
<circle cx="29.65" cy="386.93" r="0.94" fill="#7c7c7c"/>
<circle cx="31.35" cy="387.01" r="0.75" fill="#7c7c7c"/>
<circle cx="43.78" cy="393.52" r="2.75" fill="#959595" stroke="#262626" stroke-width="0.9"/>
<circle cx="43.78" cy="393.52" r="1.85" fill="none" stroke="#c4c4c4" stroke-width="0.7"/>
<circle cx="43.72" cy="393.97" r="0.75" fill="#bcbcbc"/>
<circle cx="44.18" cy="393.45" r="0.94" fill="#c4c4c4"/>
<circle cx="42.97" cy="394.40" r="0.75" fill="#6e6e6e"/>
<circle cx="43.69" cy="393.92" r="0.77" fill="#bcbcbc"/>
<circle cx="34.61" cy="395.81" r="2.75" fill="#959595" stroke="#262626" stroke-width="0.9"/>
<circle cx="34.61" cy="395.81" r="1.85" fill="none" stroke="#c4c4c4" stroke-width="0.7"/>
<circle cx="34.60" cy="395.84" r="0.73" fill="#6e6e6e"/>
<circle cx="35.16" cy="395.66" r="0.78" fill="#c4c4c4"/>
<circle cx="35.42" cy="395.53" r="0.74" fill="#c4c4c4"/>
<circle cx="34.84" cy="395.70" r="0.68" fill="#6e6e6e"/>
<circle cx="55.23" cy="388.94" r="2.75" fill="#959595" stroke="#262626" stroke-width="0.9"/>
<circle cx="55.23" cy="388.94" r="1.85" fill="none" stroke="#c4c4c4" stroke-width="0.7"/>
<circle cx="54.93" cy="388.71" r="0.85" fill="#6e6e6e"/>
<circle cx="54.78" cy="388.67" r="0.78" fill="#6e6e6e"/>
<circle cx="55.40" cy="389.55" r="0.88" fill="#b4b4b4"/>
<circle cx="55.24" cy="389.07" r="0.96" fill="#c4c4c4"/>
<circle cx="63.24" cy="396.95" r="2.29" fill="#7e7e7e" stroke="#a6a6a6" stroke-width="0.7"/>
<circle cx="63.24" cy="396.95" r="2.79" fill="none" stroke="#4a4a4a" stroke-width="0.5"/>
<circle cx="64.12" cy="396.91" r="0.67" fill="#999"/>
<circle cx="63.11" cy="398.20" r="0.79" fill="#a0a0a0"/>
<circle cx="72.41" cy="385.50" r="1.83" fill="#7e7e7e" stroke="#a6a6a6" stroke-width="0.7"/>
<circle cx="72.41" cy="385.50" r="2.33" fill="none" stroke="#4a4a4a" stroke-width="0.5"/>
<circle cx="72.22" cy="385.94" r="0.61" fill="#a0a0a0"/>
<circle cx="87.29" cy="392.37" r="3.66" fill="#7e7e7e" stroke="#a6a6a6" stroke-width="0.7"/>
<circle cx="87.29" cy="392.37" r="4.16" fill="none" stroke="#4a4a4a" stroke-width="0.5"/>
<circle cx="86.18" cy="393.90" r="0.73" fill="#999"/>
<circle cx="87.83" cy="392.42" r="0.76" fill="#a0a0a0"/>
<circle cx="87.38" cy="392.93" r="0.51" fill="#a0a0a0"/>
<circle cx="89.58" cy="386.65" r="2.29" fill="#959595" stroke="#262626" stroke-width="0.9"/>
<circle cx="89.58" cy="386.65" r="1.39" fill="none" stroke="#c4c4c4" stroke-width="0.7"/>
<circle cx="89.88" cy="386.37" r="0.84" fill="#c4c4c4"/>
<circle cx="89.00" cy="387.17" r="0.53" fill="#b4b4b4"/>
<circle cx="89.96" cy="385.97" r="0.91" fill="#b4b4b4"/>
<circle cx="89.90" cy="386.39" r="0.68" fill="#7c7c7c"/>
<circle cx="96.46" cy="362.60" r="2.75" fill="#959595" stroke="#262626" stroke-width="0.9"/>
<circle cx="96.46" cy="362.60" r="1.85" fill="none" stroke="#c4c4c4" stroke-width="0.7"/>
<circle cx="95.83" cy="361.58" r="1.00" fill="#b4b4b4"/>
<circle cx="95.87" cy="362.03" r="0.69" fill="#6e6e6e"/>
<circle cx="96.34" cy="362.72" r="0.63" fill="#c4c4c4"/>
<circle cx="96.58" cy="362.75" r="0.56" fill="#6e6e6e"/>
<circle cx="114.78" cy="364.89" r="2.75" fill="#7e7e7e" stroke="#a6a6a6" stroke-width="0.7"/>
<circle cx="114.78" cy="364.89" r="3.25" fill="none" stroke="#4a4a4a" stroke-width="0.5"/>
<circle cx="114.84" cy="364.68" r="0.60" fill="#6e6e6e"/>
<circle cx="113.90" cy="364.45" r="0.59" fill="#6e6e6e"/>
<circle cx="118.21" cy="376.34" r="3.21" fill="#7e7e7e" stroke="#a6a6a6" stroke-width="0.7"/>
<circle cx="118.21" cy="376.34" r="3.71" fill="none" stroke="#4a4a4a" stroke-width="0.5"/>
<circle cx="118.21" cy="374.73" r="0.57" fill="#a0a0a0"/>
<circle cx="118.35" cy="378.00" r="0.76" fill="#a0a0a0"/>
<circle cx="117.15" cy="377.67" r="0.64" fill="#6e6e6e"/>
<circle cx="110.20" cy="377.49" r="2.29" fill="#7e7e7e" stroke="#a6a6a6" stroke-width="0.7"/>
<circle cx="110.20" cy="377.49" r="2.79" fill="none" stroke="#4a4a4a" stroke-width="0.5"/>
<circle cx="109.64" cy="377.75" r="0.49" fill="#a0a0a0"/>
<circle cx="109.68" cy="376.54" r="0.80" fill="#6e6e6e"/>
<circle cx="111.34" cy="396.95" r="3.21" fill="#959595" stroke="#262626" stroke-width="0.9"/>
<circle cx="111.34" cy="396.95" r="2.31" fill="none" stroke="#c4c4c4" stroke-width="0.7"/>
<circle cx="111.35" cy="397.02" r="0.60" fill="#6e6e6e"/>
<circle cx="111.26" cy="398.27" r="0.67" fill="#b4b4b4"/>
<circle cx="112.48" cy="397.57" r="0.76" fill="#b4b4b4"/>
<circle cx="111.73" cy="396.79" r="0.59" fill="#6e6e6e"/>
<circle cx="109.90" cy="397.61" r="0.85" fill="#b4b4b4"/>
<circle cx="114.78" cy="403.83" r="3.21" fill="#959595" stroke="#262626" stroke-width="0.9"/>
<circle cx="114.78" cy="403.83" r="2.31" fill="none" stroke="#c4c4c4" stroke-width="0.7"/>
<circle cx="114.52" cy="403.95" r="0.75" fill="#b4b4b4"/>
<circle cx="116.03" cy="403.74" r="0.91" fill="#6e6e6e"/>
<circle cx="114.90" cy="403.35" r="0.67" fill="#b4b4b4"/>
<circle cx="115.79" cy="404.59" r="0.76" fill="#6e6e6e"/>
<circle cx="115.34" cy="404.82" r="0.63" fill="#7c7c7c"/>
<circle cx="99.89" cy="399.24" r="2.29" fill="#7e7e7e" stroke="#a6a6a6" stroke-width="0.7"/>
<circle cx="99.89" cy="399.24" r="2.79" fill="none" stroke="#4a4a4a" stroke-width="0.5"/>
<circle cx="99.59" cy="399.33" r="0.40" fill="#6e6e6e"/>
<circle cx="99.98" cy="399.75" r="0.56" fill="#a0a0a0"/>
<circle cx="107.91" cy="423.29" r="3.21" fill="#7e7e7e" stroke="#a6a6a6" stroke-width="0.7"/>
<circle cx="107.91" cy="423.29" r="3.71" fill="none" stroke="#4a4a4a" stroke-width="0.5"/>
<circle cx="107.29" cy="423.15" r="0.53" fill="#6e6e6e"/>
<circle cx="107.76" cy="424.77" r="0.42" fill="#a0a0a0"/>
<circle cx="106.29" cy="424.23" r="0.46" fill="#a0a0a0"/>
<circle cx="79.28" cy="421.00" r="2.75" fill="#959595" stroke="#262626" stroke-width="0.9"/>
<circle cx="79.28" cy="421.00" r="1.85" fill="none" stroke="#c4c4c4" stroke-width="0.7"/>
<circle cx="79.89" cy="421.29" r="0.96" fill="#c4c4c4"/>
<circle cx="79.78" cy="421.37" r="0.63" fill="#7c7c7c"/>
<circle cx="80.21" cy="421.68" r="0.90" fill="#bcbcbc"/>
<circle cx="78.97" cy="422.13" r="0.56" fill="#7c7c7c"/>
<circle cx="82.71" cy="367.18" r="1.83" fill="#959595" stroke="#262626" stroke-width="0.9"/>
<circle cx="82.71" cy="367.18" r="0.93" fill="none" stroke="#c4c4c4" stroke-width="0.7"/>
<circle cx="82.85" cy="367.24" r="0.85" fill="#b4b4b4"/>
<circle cx="82.43" cy="367.03" r="0.89" fill="#b4b4b4"/>
<circle cx="82.72" cy="367.15" r="0.62" fill="#c4c4c4"/>
<circle cx="18.58" cy="371.76" r="1.83" fill="#959595" stroke="#262626" stroke-width="0.9"/>
<circle cx="18.58" cy="371.76" r="0.93" fill="none" stroke="#c4c4c4" stroke-width="0.7"/>
<circle cx="18.64" cy="372.07" r="0.67" fill="#c4c4c4"/>
<circle cx="18.54" cy="371.64" r="0.58" fill="#c4c4c4"/>
<circle cx="18.53" cy="371.78" r="0.55" fill="#6e6e6e"/>
<circle cx="18.58" cy="391.23" r="2.29" fill="#959595" stroke="#262626" stroke-width="0.9"/>
<circle cx="18.58" cy="391.23" r="1.39" fill="none" stroke="#c4c4c4" stroke-width="0.7"/>
<circle cx="18.48" cy="390.55" r="0.83" fill="#6e6e6e"/>
<circle cx="18.57" cy="391.32" r="0.55" fill="#7c7c7c"/>
<circle cx="18.60" cy="391.35" r="0.54" fill="#c4c4c4"/>
<circle cx="18.42" cy="391.67" r="0.93" fill="#bcbcbc"/>
<circle cx="48.36" cy="408.41" r="3.21" fill="#7e7e7e" stroke="#a6a6a6" stroke-width="0.7"/>
<circle cx="48.36" cy="408.41" r="3.71" fill="none" stroke="#4a4a4a" stroke-width="0.5"/>
<circle cx="46.54" cy="407.28" r="0.71" fill="#999"/>
<circle cx="48.98" cy="407.41" r="0.61" fill="#6e6e6e"/>
<circle cx="47.62" cy="408.49" r="0.54" fill="#6e6e6e"/>
<circle cx="62.10" cy="422.15" r="2.75" fill="#7e7e7e" stroke="#a6a6a6" stroke-width="0.7"/>
<circle cx="62.10" cy="422.15" r="3.25" fill="none" stroke="#4a4a4a" stroke-width="0.5"/>
<circle cx="60.49" cy="421.52" r="0.51" fill="#999"/>
<circle cx="61.22" cy="422.13" r="0.57" fill="#6e6e6e"/>
<circle cx="20.87" cy="354.58" r="2.29" fill="#959595" stroke="#262626" stroke-width="0.9"/>
<circle cx="20.87" cy="354.58" r="1.39" fill="none" stroke="#c4c4c4" stroke-width="0.7"/>
<circle cx="20.84" cy="354.56" r="0.64" fill="#c4c4c4"/>
<circle cx="20.94" cy="354.03" r="0.76" fill="#c4c4c4"/>
<circle cx="20.88" cy="355.31" r="0.77" fill="#bcbcbc"/>
<circle cx="20.65" cy="354.52" r="0.91" fill="#b4b4b4"/>
<circle cx="36.90" cy="356.87" r="1.83" fill="#7e7e7e" stroke="#a6a6a6" stroke-width="0.7"/>
<circle cx="36.90" cy="356.87" r="2.33" fill="none" stroke="#4a4a4a" stroke-width="0.5"/>
<circle cx="36.30" cy="356.94" r="0.69" fill="#a0a0a0"/>
<circle cx="50.65" cy="372.90" r="1.83" fill="#959595" stroke="#262626" stroke-width="0.9"/>
<circle cx="50.65" cy="372.90" r="0.93" fill="none" stroke="#c4c4c4" stroke-width="0.7"/>
<circle cx="50.80" cy="372.72" r="0.68" fill="#7c7c7c"/>
<circle cx="50.65" cy="372.66" r="0.91" fill="#6e6e6e"/>
<circle cx="50.79" cy="372.89" r="0.82" fill="#c4c4c4"/>
<ellipse cx="101.00" cy="440.00" rx="7.20" ry="5.60" fill="#9a9a9a" opacity="0.2"/>
<circle cx="99.04" cy="435.89" r="0.50" fill="#b4b4b4" opacity="0.85"/>
<circle cx="94.98" cy="442.99" r="0.71" fill="#5c5c5c" opacity="0.85"/>
<circle cx="101.81" cy="444.83" r="0.67" fill="#a8a8a8" opacity="0.85"/>
<circle cx="100.62" cy="436.39" r="0.52" fill="#a8a8a8" opacity="0.85"/>
<circle cx="100.06" cy="445.82" r="0.75" fill="#c4c4c4" opacity="0.85"/>
<circle cx="106.85" cy="433.64" r="0.48" fill="#cccccc" opacity="0.85"/>
<circle cx="103.37" cy="442.73" r="0.67" fill="#c4c4c4" opacity="0.85"/>
<circle cx="99.41" cy="441.66" r="0.50" fill="#505050" opacity="0.85"/>
<circle cx="107.08" cy="433.63" r="0.54" fill="#b0b0b0" opacity="0.85"/>
<circle cx="106.51" cy="446.08" r="0.40" fill="#a8a8a8" opacity="0.85"/>
<circle cx="99.96" cy="445.95" r="0.79" fill="#5c5c5c" opacity="0.85"/>
<circle cx="97.38" cy="442.27" r="0.68" fill="#b4b4b4" opacity="0.85"/>
<circle cx="105.61" cy="443.13" r="0.66" fill="#c4c4c4" opacity="0.85"/>
<circle cx="97.68" cy="437.43" r="0.61" fill="#b4b4b4" opacity="0.85"/>
<circle cx="96.33" cy="438.22" r="0.44" fill="#a8a8a8" opacity="0.85"/>
<circle cx="107.33" cy="433.68" r="0.56" fill="#505050" opacity="0.85"/>
<circle cx="102.41" cy="432.19" r="0.37" fill="#a8a8a8" opacity="0.85"/>
<circle cx="97.05" cy="446.00" r="0.58" fill="#a8a8a8" opacity="0.85"/>
<circle cx="104.58" cy="442.69" r="0.80" fill="#5c5c5c" opacity="0.85"/>
<circle cx="102.15" cy="439.47" r="0.40" fill="#505050" opacity="0.85"/>
<circle cx="106.28" cy="439.65" r="0.46" fill="#b0b0b0" opacity="0.85"/>
<circle cx="95.34" cy="437.31" r="0.58" fill="#b4b4b4" opacity="0.85"/>
<circle cx="95.34" cy="438.57" r="0.70" fill="#cccccc" opacity="0.85"/>
<circle cx="90.36" cy="441.09" r="0.65" fill="#b4b4b4" opacity="0.85"/>
<circle cx="92.88" cy="441.54" r="0.70" fill="#c4c4c4" opacity="0.85"/>
<circle cx="105.38" cy="434.79" r="0.42" fill="#b0b0b0" opacity="0.85"/>
<circle cx="111.28" cy="437.74" r="0.77" fill="#cccccc" opacity="0.85"/>
<circle cx="105.33" cy="436.75" r="0.66" fill="#505050" opacity="0.85"/>
<circle cx="110.36" cy="443.29" r="0.52" fill="#c4c4c4" opacity="0.85"/>
<circle cx="93.98" cy="442.46" r="0.76" fill="#5c5c5c" opacity="0.85"/>
<circle cx="97.22" cy="444.17" r="0.40" fill="#c4c4c4" opacity="0.85"/>
<circle cx="97.41" cy="439.51" r="0.74" fill="#5c5c5c" opacity="0.85"/>
<circle cx="103.55" cy="447.62" r="0.73" fill="#9c9c9c" opacity="0.85"/>
<circle cx="94.52" cy="436.25" r="0.48" fill="#5c5c5c" opacity="0.85"/>
<circle cx="110.10" cy="444.15" r="0.73" fill="#9c9c9c" opacity="0.85"/>
<circle cx="93.86" cy="446.22" r="0.41" fill="#9c9c9c" opacity="0.85"/>
<circle cx="99.32" cy="437.48" r="0.54" fill="#c4c4c4" opacity="0.85"/>
<circle cx="107.25" cy="438.65" r="0.35" fill="#b0b0b0" opacity="0.85"/>
<circle cx="105.80" cy="439.96" r="0.51" fill="#cccccc" opacity="0.85"/>
<circle cx="100.76" cy="443.48" r="0.42" fill="#cccccc" opacity="0.85"/>
<circle cx="109.45" cy="436.21" r="0.36" fill="#b4b4b4" opacity="0.85"/>
<circle cx="103.00" cy="448.08" r="0.65" fill="#b0b0b0" opacity="0.85"/>
<circle cx="93.58" cy="440.11" r="0.59" fill="#505050" opacity="0.85"/>
<circle cx="105.11" cy="441.44" r="0.47" fill="#c4c4c4" opacity="0.85"/>
<circle cx="98.55" cy="437.56" r="0.65" fill="#c4c4c4" opacity="0.85"/>
<circle cx="104.97" cy="436.69" r="0.67" fill="#c4c4c4" opacity="0.85"/>
<circle cx="100.61" cy="437.21" r="0.49" fill="#5c5c5c" opacity="0.85"/>
<circle cx="97.54" cy="434.41" r="0.65" fill="#505050" opacity="0.85"/>
<circle cx="100.73" cy="435.25" r="0.69" fill="#c4c4c4" opacity="0.85"/>
<circle cx="96.25" cy="444.24" r="0.72" fill="#c4c4c4" opacity="0.85"/>
<circle cx="98.98" cy="437.75" r="0.62" fill="#b4b4b4" opacity="0.85"/>
<circle cx="98.10" cy="434.43" r="0.47" fill="#c4c4c4" opacity="0.85"/>
<circle cx="103.57" cy="437.09" r="0.36" fill="#b4b4b4" opacity="0.85"/>
<circle cx="106.53" cy="436.45" r="0.59" fill="#cccccc" opacity="0.85"/>
<circle cx="104.16" cy="437.12" r="0.62" fill="#9c9c9c" opacity="0.85"/>
<circle cx="105.46" cy="443.78" r="0.36" fill="#a8a8a8" opacity="0.85"/>
<circle cx="100.54" cy="438.15" r="0.65" fill="#5c5c5c" opacity="0.85"/>
<circle cx="98.10" cy="446.84" r="0.74" fill="#a8a8a8" opacity="0.85"/>
<circle cx="108.15" cy="439.64" r="0.60" fill="#5c5c5c" opacity="0.85"/>
<circle cx="103.62" cy="440.07" r="0.45" fill="#5c5c5c" opacity="0.85"/>
<circle cx="109.72" cy="444.39" r="0.63" fill="#cccccc" opacity="0.85"/>
<circle cx="103.65" cy="437.57" r="0.52" fill="#cccccc" opacity="0.85"/>
<circle cx="104.41" cy="432.82" r="0.48" fill="#505050" opacity="0.85"/>
<circle cx="100.68" cy="432.35" r="0.41" fill="#505050" opacity="0.85"/>
<circle cx="100.21" cy="441.69" r="0.45" fill="#a8a8a8" opacity="0.85"/>
<circle cx="107.28" cy="438.55" r="0.58" fill="#9c9c9c" opacity="0.85"/>
<circle cx="110.24" cy="441.21" r="0.53" fill="#9c9c9c" opacity="0.85"/>
<circle cx="105.08" cy="445.00" r="0.42" fill="#b0b0b0" opacity="0.85"/>
<circle cx="101.63" cy="434.55" r="0.56" fill="#c4c4c4" opacity="0.85"/>
<circle cx="91.43" cy="439.68" r="0.64" fill="#505050" opacity="0.85"/>
<circle cx="101.07" cy="446.35" r="0.47" fill="#a8a8a8" opacity="0.85"/>
<circle cx="98.82" cy="442.38" r="0.52" fill="#5c5c5c" opacity="0.85"/>
<circle cx="96.56" cy="438.14" r="0.71" fill="#b0b0b0" opacity="0.85"/>
<circle cx="105.13" cy="436.68" r="0.60" fill="#c4c4c4" opacity="0.85"/>
<circle cx="94.13" cy="436.04" r="0.67" fill="#c4c4c4" opacity="0.85"/>
<circle cx="105.27" cy="446.03" r="0.70" fill="#a8a8a8" opacity="0.85"/>
<circle cx="96.75" cy="433.18" r="0.73" fill="#b0b0b0" opacity="0.85"/>
<circle cx="99.37" cy="434.59" r="0.42" fill="#a8a8a8" opacity="0.85"/>
<circle cx="105.80" cy="447.03" r="0.45" fill="#9c9c9c" opacity="0.85"/>
<circle cx="105.50" cy="436.11" r="0.39" fill="#c4c4c4" opacity="0.85"/>
<circle cx="99.26" cy="432.42" r="0.56" fill="#c4c4c4" opacity="0.85"/>
<circle cx="94.04" cy="438.69" r="0.73" fill="#cccccc" opacity="0.85"/>
<circle cx="111.36" cy="440.85" r="0.55" fill="#505050" opacity="0.85"/>
<circle cx="107.67" cy="435.68" r="0.59" fill="#a8a8a8" opacity="0.85"/>
<circle cx="102.93" cy="447.27" r="0.63" fill="#5c5c5c" opacity="0.85"/>
<circle cx="92.32" cy="435.45" r="0.64" fill="#c4c4c4" opacity="0.85"/>
<circle cx="95.82" cy="444.20" r="0.79" fill="#a8a8a8" opacity="0.85"/>
<circle cx="104.28" cy="443.89" r="0.60" fill="#5c5c5c" opacity="0.85"/>
<circle cx="100.63" cy="437.34" r="0.44" fill="#b4b4b4" opacity="0.85"/>
<circle cx="102.50" cy="444.08" r="0.47" fill="#a8a8a8" opacity="0.85"/>
<circle cx="101.06" cy="440.10" r="0.45" fill="#cccccc" opacity="0.85"/>
<circle cx="101.47" cy="447.86" r="0.40" fill="#b0b0b0" opacity="0.85"/>
<circle cx="101.16" cy="440.75" r="0.69" fill="#9c9c9c" opacity="0.85"/>
<circle cx="93.78" cy="441.74" r="0.80" fill="#b4b4b4" opacity="0.85"/>
<circle cx="101.53" cy="441.56" r="0.54" fill="#b0b0b0" opacity="0.85"/>
<circle cx="107.14" cy="437.79" r="0.54" fill="#5c5c5c" opacity="0.85"/>
<circle cx="93.87" cy="434.88" r="0.65" fill="#cccccc" opacity="0.85"/>
<circle cx="94.22" cy="436.89" r="0.47" fill="#cccccc" opacity="0.85"/>
<circle cx="105.83" cy="432.95" r="0.44" fill="#b0b0b0" opacity="0.85"/>
<circle cx="105.78" cy="441.18" r="0.80" fill="#505050" opacity="0.85"/>
<circle cx="97.29" cy="439.84" r="0.75" fill="#9c9c9c" opacity="0.85"/>
<circle cx="100.08" cy="440.33" r="0.63" fill="#5c5c5c" opacity="0.85"/>
<circle cx="94.30" cy="434.31" r="0.72" fill="#cccccc" opacity="0.85"/>
<circle cx="106.02" cy="436.08" r="0.41" fill="#505050" opacity="0.85"/>
<circle cx="100.57" cy="440.26" r="0.36" fill="#5c5c5c" opacity="0.85"/>
<circle cx="95.25" cy="441.72" r="0.50" fill="#505050" opacity="0.85"/>
<circle cx="107.13" cy="444.96" r="0.37" fill="#5c5c5c" opacity="0.85"/>
<circle cx="98.30" cy="447.19" r="0.40" fill="#c4c4c4" opacity="0.85"/>
<circle cx="100.67" cy="437.82" r="0.36" fill="#5c5c5c" opacity="0.85"/>
<circle cx="99.93" cy="434.97" r="0.63" fill="#c4c4c4" opacity="0.85"/>
<circle cx="94.93" cy="434.53" r="0.40" fill="#a8a8a8" opacity="0.85"/>
<circle cx="93.65" cy="441.32" r="0.52" fill="#cccccc" opacity="0.85"/>
<circle cx="96.26" cy="441.59" r="0.49" fill="#505050" opacity="0.85"/>
<circle cx="95.02" cy="433.91" r="0.58" fill="#b0b0b0" opacity="0.85"/>
<circle cx="91.74" cy="437.35" r="0.64" fill="#b4b4b4" opacity="0.85"/>
<circle cx="100.18" cy="448.05" r="0.55" fill="#c4c4c4" opacity="0.85"/>
<circle cx="101.46" cy="435.60" r="0.62" fill="#c4c4c4" opacity="0.85"/>
<circle cx="102.98" cy="442.85" r="0.75" fill="#5c5c5c" opacity="0.85"/>
<circle cx="101.61" cy="446.27" r="0.39" fill="#b0b0b0" opacity="0.85"/>
<circle cx="94.36" cy="435.51" r="0.76" fill="#5c5c5c" opacity="0.85"/>
<circle cx="92.23" cy="442.71" r="0.77" fill="#a8a8a8" opacity="0.85"/>
<circle cx="105.59" cy="442.92" r="0.71" fill="#b4b4b4" opacity="0.85"/>
<circle cx="94.66" cy="445.66" r="0.36" fill="#a8a8a8" opacity="0.85"/>
<circle cx="103.97" cy="443.22" r="0.72" fill="#a8a8a8" opacity="0.85"/>
<circle cx="93.06" cy="437.88" r="0.41" fill="#a8a8a8" opacity="0.85"/>
<circle cx="104.01" cy="435.11" r="0.61" fill="#5c5c5c" opacity="0.85"/>
<circle cx="96.93" cy="447.62" r="0.59" fill="#a8a8a8" opacity="0.85"/>
<circle cx="97.69" cy="436.14" r="0.74" fill="#b4b4b4" opacity="0.85"/>
<circle cx="103.21" cy="441.25" r="0.61" fill="#505050" opacity="0.85"/>
<circle cx="99.97" cy="435.65" r="0.48" fill="#cccccc" opacity="0.85"/>
<circle cx="99.59" cy="439.45" r="0.61" fill="#cccccc" opacity="0.85"/>
<circle cx="99.28" cy="444.20" r="0.39" fill="#a8a8a8" opacity="0.85"/>
<circle cx="94.73" cy="439.50" r="0.40" fill="#9c9c9c" opacity="0.85"/>
<circle cx="93.35" cy="439.67" r="0.52" fill="#5c5c5c" opacity="0.85"/>
<circle cx="92.31" cy="444.16" r="0.62" fill="#5c5c5c" opacity="0.85"/>
<circle cx="96.68" cy="437.61" r="0.77" fill="#b0b0b0" opacity="0.85"/>
<circle cx="100.56" cy="447.57" r="0.41" fill="#505050" opacity="0.85"/>
<circle cx="97.31" cy="439.11" r="0.39" fill="#b4b4b4" opacity="0.85"/>
<circle cx="103.95" cy="437.34" r="0.66" fill="#5c5c5c" opacity="0.85"/>
<circle cx="107.17" cy="437.73" r="0.67" fill="#c4c4c4" opacity="0.85"/>
<circle cx="108.23" cy="443.87" r="0.43" fill="#a8a8a8" opacity="0.85"/>
<circle cx="96.07" cy="435.25" r="0.37" fill="#b0b0b0" opacity="0.85"/>
<circle cx="104.83" cy="447.67" r="0.66" fill="#b0b0b0" opacity="0.85"/>
<ellipse cx="45.00" cy="437.00" rx="6.40" ry="4.80" fill="#9a9a9a" opacity="0.2"/>
<circle cx="47.62" cy="442.54" r="0.53" fill="#5c5c5c" opacity="0.85"/>
<circle cx="38.76" cy="434.81" r="0.53" fill="#505050" opacity="0.85"/>
<circle cx="49.35" cy="440.99" r="0.80" fill="#9c9c9c" opacity="0.85"/>
<circle cx="36.41" cy="438.42" r="0.66" fill="#505050" opacity="0.85"/>
<circle cx="51.37" cy="439.48" r="0.73" fill="#c4c4c4" opacity="0.85"/>
<circle cx="48.61" cy="434.44" r="0.56" fill="#cccccc" opacity="0.85"/>
<circle cx="42.77" cy="441.04" r="0.73" fill="#c4c4c4" opacity="0.85"/>
<circle cx="43.08" cy="434.40" r="0.75" fill="#c4c4c4" opacity="0.85"/>
<circle cx="38.48" cy="436.06" r="0.59" fill="#a8a8a8" opacity="0.85"/>
<circle cx="49.42" cy="441.19" r="0.79" fill="#9c9c9c" opacity="0.85"/>
<circle cx="44.34" cy="439.00" r="0.53" fill="#505050" opacity="0.85"/>
<circle cx="51.32" cy="437.36" r="0.56" fill="#b0b0b0" opacity="0.85"/>
<circle cx="37.90" cy="439.09" r="0.39" fill="#b4b4b4" opacity="0.85"/>
<circle cx="50.74" cy="435.46" r="0.36" fill="#505050" opacity="0.85"/>
<circle cx="51.56" cy="440.55" r="0.46" fill="#a8a8a8" opacity="0.85"/>
<circle cx="42.84" cy="443.90" r="0.61" fill="#9c9c9c" opacity="0.85"/>
<circle cx="53.64" cy="438.31" r="0.63" fill="#b4b4b4" opacity="0.85"/>
<circle cx="37.28" cy="433.49" r="0.60" fill="#cccccc" opacity="0.85"/>
<circle cx="46.45" cy="434.39" r="0.47" fill="#cccccc" opacity="0.85"/>
<circle cx="41.62" cy="438.86" r="0.62" fill="#9c9c9c" opacity="0.85"/>
<circle cx="52.63" cy="433.94" r="0.37" fill="#9c9c9c" opacity="0.85"/>
<circle cx="38.17" cy="436.97" r="0.50" fill="#b4b4b4" opacity="0.85"/>
<circle cx="42.49" cy="430.31" r="0.65" fill="#5c5c5c" opacity="0.85"/>
<circle cx="52.82" cy="434.56" r="0.55" fill="#cccccc" opacity="0.85"/>
<circle cx="37.93" cy="438.11" r="0.66" fill="#a8a8a8" opacity="0.85"/>
<circle cx="46.46" cy="439.16" r="0.44" fill="#c4c4c4" opacity="0.85"/>
<circle cx="46.99" cy="442.69" r="0.78" fill="#505050" opacity="0.85"/>
<circle cx="51.41" cy="436.90" r="0.63" fill="#b4b4b4" opacity="0.85"/>
<circle cx="49.38" cy="443.29" r="0.55" fill="#c4c4c4" opacity="0.85"/>
<circle cx="46.54" cy="437.52" r="0.68" fill="#cccccc" opacity="0.85"/>
<circle cx="42.18" cy="436.94" r="0.73" fill="#505050" opacity="0.85"/>
<circle cx="46.37" cy="431.58" r="0.50" fill="#505050" opacity="0.85"/>
<circle cx="40.77" cy="433.61" r="0.64" fill="#b4b4b4" opacity="0.85"/>
<circle cx="39.55" cy="436.86" r="0.44" fill="#b0b0b0" opacity="0.85"/>
<circle cx="44.46" cy="437.68" r="0.73" fill="#a8a8a8" opacity="0.85"/>
<circle cx="50.37" cy="431.68" r="0.66" fill="#cccccc" opacity="0.85"/>
<circle cx="53.58" cy="435.61" r="0.61" fill="#b0b0b0" opacity="0.85"/>
<circle cx="50.93" cy="437.35" r="0.53" fill="#5c5c5c" opacity="0.85"/>
<circle cx="51.56" cy="435.69" r="0.40" fill="#b0b0b0" opacity="0.85"/>
<circle cx="51.36" cy="440.37" r="0.68" fill="#cccccc" opacity="0.85"/>
<circle cx="47.31" cy="431.71" r="0.68" fill="#a8a8a8" opacity="0.85"/>
<circle cx="36.75" cy="438.20" r="0.37" fill="#5c5c5c" opacity="0.85"/>
<circle cx="50.65" cy="432.94" r="0.65" fill="#5c5c5c" opacity="0.85"/>
<circle cx="51.61" cy="437.09" r="0.51" fill="#505050" opacity="0.85"/>
<circle cx="41.97" cy="437.46" r="0.50" fill="#b4b4b4" opacity="0.85"/>
<circle cx="36.09" cy="435.15" r="0.76" fill="#b0b0b0" opacity="0.85"/>
<circle cx="36.25" cy="434.11" r="0.54" fill="#b4b4b4" opacity="0.85"/>
<circle cx="50.66" cy="433.15" r="0.63" fill="#c4c4c4" opacity="0.85"/>
<circle cx="37.43" cy="437.79" r="0.67" fill="#b4b4b4" opacity="0.85"/>
<circle cx="46.07" cy="436.72" r="0.67" fill="#9c9c9c" opacity="0.85"/>
<circle cx="42.46" cy="431.00" r="0.36" fill="#505050" opacity="0.85"/>
<circle cx="39.87" cy="431.83" r="0.68" fill="#505050" opacity="0.85"/>
<circle cx="49.32" cy="431.69" r="0.63" fill="#9c9c9c" opacity="0.85"/>
<circle cx="50.42" cy="442.03" r="0.46" fill="#a8a8a8" opacity="0.85"/>
<circle cx="39.07" cy="436.55" r="0.42" fill="#9c9c9c" opacity="0.85"/>
<circle cx="36.64" cy="439.11" r="0.77" fill="#5c5c5c" opacity="0.85"/>
<circle cx="49.96" cy="437.44" r="0.37" fill="#cccccc" opacity="0.85"/>
<circle cx="51.32" cy="441.58" r="0.53" fill="#b4b4b4" opacity="0.85"/>
<circle cx="36.17" cy="434.95" r="0.50" fill="#a8a8a8" opacity="0.85"/>
<circle cx="50.34" cy="438.92" r="0.59" fill="#5c5c5c" opacity="0.85"/>
<circle cx="53.71" cy="438.70" r="0.58" fill="#cccccc" opacity="0.85"/>
<circle cx="50.41" cy="442.11" r="0.45" fill="#a8a8a8" opacity="0.85"/>
<circle cx="53.03" cy="434.60" r="0.76" fill="#505050" opacity="0.85"/>
<circle cx="53.64" cy="439.30" r="0.39" fill="#5c5c5c" opacity="0.85"/>
<circle cx="45.87" cy="430.70" r="0.79" fill="#9c9c9c" opacity="0.85"/>
<circle cx="47.84" cy="439.25" r="0.66" fill="#b0b0b0" opacity="0.85"/>
<circle cx="49.20" cy="432.59" r="0.71" fill="#5c5c5c" opacity="0.85"/>
<circle cx="41.75" cy="435.11" r="0.75" fill="#9c9c9c" opacity="0.85"/>
<circle cx="45.39" cy="443.00" r="0.44" fill="#a8a8a8" opacity="0.85"/>
<circle cx="44.74" cy="437.54" r="0.39" fill="#9c9c9c" opacity="0.85"/>
<circle cx="43.33" cy="443.20" r="0.71" fill="#cccccc" opacity="0.85"/>
<circle cx="38.82" cy="435.80" r="0.51" fill="#a8a8a8" opacity="0.85"/>
<circle cx="47.81" cy="435.01" r="0.77" fill="#a8a8a8" opacity="0.85"/>
<circle cx="54.14" cy="437.29" r="0.39" fill="#b0b0b0" opacity="0.85"/>
<circle cx="45.16" cy="442.86" r="0.63" fill="#b0b0b0" opacity="0.85"/>
<circle cx="49.49" cy="440.04" r="0.46" fill="#505050" opacity="0.85"/>
<circle cx="46.95" cy="431.09" r="0.59" fill="#cccccc" opacity="0.85"/>
<circle cx="43.93" cy="434.56" r="0.38" fill="#b0b0b0" opacity="0.85"/>
<ellipse cx="62.00" cy="423.00" rx="2.40" ry="4.00" fill="#9a9a9a" opacity="0.2"/>
<circle cx="60.30" cy="424.59" r="0.45" fill="#a8a8a8" opacity="0.85"/>
<circle cx="61.13" cy="425.84" r="0.49" fill="#cccccc" opacity="0.85"/>
<circle cx="61.23" cy="421.75" r="0.55" fill="#a8a8a8" opacity="0.85"/>
<circle cx="58.95" cy="420.73" r="0.57" fill="#5c5c5c" opacity="0.85"/>
<circle cx="60.63" cy="424.77" r="0.58" fill="#c4c4c4" opacity="0.85"/>
<circle cx="62.10" cy="423.44" r="0.73" fill="#b0b0b0" opacity="0.85"/>
<circle cx="64.06" cy="422.22" r="0.60" fill="#a8a8a8" opacity="0.85"/>
<circle cx="61.83" cy="421.28" r="0.65" fill="#b0b0b0" opacity="0.85"/>
<circle cx="61.08" cy="427.03" r="0.50" fill="#5c5c5c" opacity="0.85"/>
<circle cx="62.93" cy="420.18" r="0.63" fill="#cccccc" opacity="0.85"/>
<circle cx="60.92" cy="421.28" r="0.64" fill="#5c5c5c" opacity="0.85"/>
<circle cx="63.61" cy="420.23" r="0.47" fill="#b4b4b4" opacity="0.85"/>
<circle cx="59.53" cy="422.05" r="0.54" fill="#505050" opacity="0.85"/>
<circle cx="65.56" cy="423.76" r="0.66" fill="#505050" opacity="0.85"/>
<circle cx="61.55" cy="421.34" r="0.49" fill="#505050" opacity="0.85"/>
<circle cx="62.64" cy="426.50" r="0.63" fill="#cccccc" opacity="0.85"/>
<circle cx="61.22" cy="424.47" r="0.49" fill="#a8a8a8" opacity="0.85"/>
<circle cx="64.34" cy="426.43" r="0.65" fill="#b0b0b0" opacity="0.85"/>
<circle cx="59.41" cy="420.96" r="0.77" fill="#505050" opacity="0.85"/>
<circle cx="59.77" cy="420.61" r="0.50" fill="#b0b0b0" opacity="0.85"/>
<circle cx="59.29" cy="426.95" r="0.37" fill="#cccccc" opacity="0.85"/>
<circle cx="59.43" cy="423.01" r="0.72" fill="#b4b4b4" opacity="0.85"/>
<circle cx="63.84" cy="424.13" r="0.75" fill="#a8a8a8" opacity="0.85"/>
<circle cx="62.27" cy="428.28" r="0.76" fill="#cccccc" opacity="0.85"/>
<circle cx="61.16" cy="423.90" r="0.43" fill="#a8a8a8" opacity="0.85"/>
<circle cx="62.29" cy="424.76" r="0.76" fill="#c4c4c4" opacity="0.85"/>
<rect x="16.30" y="399.40" width="58.70" height="59.00" fill="none" stroke="#1e1e1e" stroke-width="1.05"/>
<polygon points="44.50,368.40 48.40,376.10 46.05,376.10 46.05,382.20 42.95,382.20 42.95,376.10 40.60,376.10" fill="#fff" stroke="#3a3a3a" stroke-width="0.55" stroke-linejoin="miter"/>
<polygon points="82.03,380.77 84.72,372.56 86.38,374.22 90.70,369.91 92.89,372.10 88.58,376.42 90.24,378.08" fill="#fff" stroke="#3a3a3a" stroke-width="0.55" stroke-linejoin="miter"/>
<polygon points="101.70,419.80 97.80,412.10 100.15,412.10 100.15,406.00 103.25,406.00 103.25,412.10 105.60,412.10" fill="#fff" stroke="#3a3a3a" stroke-width="0.55" stroke-linejoin="miter"/>
<text x="93.00" y="362.10" font-size="8.4" fill="#fff" stroke="#fff" stroke-width="0.12" font-weight="bold" textLength="27.00" lengthAdjust="spacingAndGlyphs">Control</text>
<line x1="98.00" y1="449.40" x2="117.00" y2="449.40" stroke="#151515" stroke-width="1.35" />
<line x1="56.00" y1="449.40" x2="66.60" y2="449.40" stroke="#151515" stroke-width="1.35" />
<rect x="16.30" y="352.50" width="106.40" height="105.90" fill="none" stroke="#262626" stroke-width="1.0"/>
</g>
<g>
<rect x="131.30" y="352.50" width="106.40" height="105.90" fill="url(#mg131_352)" />
<rect x="131.30" y="399.40" width="58.70" height="59.00" fill="#7d7d7d" />
<rect x="131.30" y="352.50" width="106.40" height="105.90" fill="url(#noise)" opacity="0.16"/>
<circle cx="162.21" cy="367.18" r="2.29" fill="#7e7e7e" stroke="#a6a6a6" stroke-width="0.7"/>
<circle cx="162.21" cy="367.18" r="2.79" fill="none" stroke="#4a4a4a" stroke-width="0.5"/>
<circle cx="162.38" cy="366.83" r="0.46" fill="#a0a0a0"/>
<circle cx="161.96" cy="367.67" r="0.42" fill="#a0a0a0"/>
<circle cx="178.24" cy="369.47" r="3.44" fill="#959595" stroke="#262626" stroke-width="0.9"/>
<circle cx="178.24" cy="369.47" r="2.54" fill="none" stroke="#c4c4c4" stroke-width="0.7"/>
<circle cx="178.18" cy="369.47" r="0.81" fill="#7c7c7c"/>
<circle cx="178.09" cy="370.32" r="0.63" fill="#6e6e6e"/>
<circle cx="177.94" cy="369.53" r="0.97" fill="#7c7c7c"/>
<circle cx="179.44" cy="368.61" r="0.80" fill="#6e6e6e"/>
<circle cx="177.81" cy="368.84" r="0.53" fill="#bcbcbc"/>
<circle cx="178.01" cy="370.13" r="0.77" fill="#c4c4c4"/>
<circle cx="193.13" cy="382.07" r="4.12" fill="#959595" stroke="#262626" stroke-width="0.9"/>
<circle cx="193.13" cy="382.07" r="3.22" fill="none" stroke="#c4c4c4" stroke-width="0.7"/>
<circle cx="192.96" cy="381.86" r="0.69" fill="#c4c4c4"/>
<circle cx="192.52" cy="381.50" r="0.72" fill="#b4b4b4"/>
<circle cx="194.52" cy="380.56" r="0.65" fill="#c4c4c4"/>
<circle cx="193.34" cy="383.90" r="0.60" fill="#c4c4c4"/>
<circle cx="192.15" cy="380.97" r="0.79" fill="#7c7c7c"/>
<circle cx="194.16" cy="379.70" r="0.54" fill="#7c7c7c"/>
<circle cx="194.13" cy="380.94" r="0.79" fill="#b4b4b4"/>
<circle cx="201.15" cy="371.76" r="2.75" fill="#7e7e7e" stroke="#a6a6a6" stroke-width="0.7"/>
<circle cx="201.15" cy="371.76" r="3.25" fill="none" stroke="#4a4a4a" stroke-width="0.5"/>
<circle cx="200.76" cy="370.73" r="0.53" fill="#999"/>
<circle cx="201.50" cy="373.08" r="0.64" fill="#999"/>
<circle cx="217.18" cy="369.47" r="3.44" fill="#959595" stroke="#262626" stroke-width="0.9"/>
<circle cx="217.18" cy="369.47" r="2.54" fill="none" stroke="#c4c4c4" stroke-width="0.7"/>
<circle cx="217.66" cy="371.31" r="0.89" fill="#7c7c7c"/>
<circle cx="217.36" cy="370.36" r="0.85" fill="#b4b4b4"/>
<circle cx="216.83" cy="370.75" r="0.82" fill="#6e6e6e"/>
<circle cx="215.85" cy="369.96" r="0.64" fill="#6e6e6e"/>
<circle cx="216.83" cy="369.49" r="0.99" fill="#6e6e6e"/>
<circle cx="217.15" cy="369.49" r="0.67" fill="#c4c4c4"/>
<circle cx="224.05" cy="363.74" r="2.75" fill="#7e7e7e" stroke="#a6a6a6" stroke-width="0.7"/>
<circle cx="224.05" cy="363.74" r="3.25" fill="none" stroke="#4a4a4a" stroke-width="0.5"/>
<circle cx="223.92" cy="362.74" r="0.57" fill="#a0a0a0"/>
<circle cx="223.91" cy="364.38" r="0.46" fill="#999"/>
<circle cx="234.36" cy="386.65" r="2.29" fill="#7e7e7e" stroke="#a6a6a6" stroke-width="0.7"/>
<circle cx="234.36" cy="386.65" r="2.79" fill="none" stroke="#4a4a4a" stroke-width="0.5"/>
<circle cx="234.63" cy="386.83" r="0.57" fill="#999"/>
<circle cx="233.99" cy="386.19" r="0.71" fill="#6e6e6e"/>
<circle cx="150.76" cy="379.32" r="2.29" fill="#7e7e7e" stroke="#a6a6a6" stroke-width="0.7"/>
<circle cx="150.76" cy="379.32" r="2.79" fill="none" stroke="#4a4a4a" stroke-width="0.5"/>
<circle cx="150.24" cy="378.25" r="0.50" fill="#6e6e6e"/>
<circle cx="151.93" cy="378.93" r="0.49" fill="#a0a0a0"/>
<circle cx="138.62" cy="394.66" r="3.21" fill="#7e7e7e" stroke="#a6a6a6" stroke-width="0.7"/>
<circle cx="138.62" cy="394.66" r="3.71" fill="none" stroke="#4a4a4a" stroke-width="0.5"/>
<circle cx="138.84" cy="396.37" r="0.51" fill="#6e6e6e"/>
<circle cx="137.74" cy="396.01" r="0.52" fill="#999"/>
<circle cx="140.60" cy="394.83" r="0.45" fill="#6e6e6e"/>
<circle cx="177.56" cy="393.52" r="3.21" fill="#7e7e7e" stroke="#a6a6a6" stroke-width="0.7"/>
<circle cx="177.56" cy="393.52" r="3.71" fill="none" stroke="#4a4a4a" stroke-width="0.5"/>
<circle cx="176.62" cy="394.57" r="0.45" fill="#6e6e6e"/>
<circle cx="177.79" cy="394.02" r="0.77" fill="#999"/>
<circle cx="176.75" cy="393.52" r="0.71" fill="#999"/>
<circle cx="203.44" cy="398.56" r="3.66" fill="#959595" stroke="#262626" stroke-width="0.9"/>
<circle cx="203.44" cy="398.56" r="2.76" fill="none" stroke="#c4c4c4" stroke-width="0.7"/>
<circle cx="203.32" cy="397.82" r="0.90" fill="#bcbcbc"/>
<circle cx="202.49" cy="398.17" r="0.96" fill="#c4c4c4"/>
<circle cx="203.46" cy="399.12" r="0.62" fill="#b4b4b4"/>
<circle cx="203.45" cy="399.09" r="0.85" fill="#6e6e6e"/>
<circle cx="203.52" cy="399.71" r="0.68" fill="#7c7c7c"/>
<circle cx="202.00" cy="398.57" r="0.83" fill="#6e6e6e"/>
<circle cx="145.03" cy="363.74" r="1.37" fill="#6a6a6a" stroke="#aaa" stroke-width="0.5"/>
<circle cx="134.73" cy="367.18" r="1.37" fill="#6a6a6a" stroke="#aaa" stroke-width="0.5"/>
<circle cx="210.31" cy="366.03" r="1.37" fill="#7e7e7e" stroke="#a6a6a6" stroke-width="0.7"/>
<circle cx="210.31" cy="366.03" r="1.87" fill="none" stroke="#4a4a4a" stroke-width="0.5"/>
<circle cx="210.33" cy="366.23" r="0.48" fill="#6e6e6e"/>
<circle cx="234.36" cy="410.70" r="1.83" fill="#7e7e7e" stroke="#a6a6a6" stroke-width="0.7"/>
<circle cx="234.36" cy="410.70" r="2.33" fill="none" stroke="#4a4a4a" stroke-width="0.5"/>
<circle cx="234.35" cy="410.66" r="0.54" fill="#6e6e6e"/>
<circle cx="208.02" cy="421.00" r="1.83" fill="#7e7e7e" stroke="#a6a6a6" stroke-width="0.7"/>
<circle cx="208.02" cy="421.00" r="2.33" fill="none" stroke="#4a4a4a" stroke-width="0.5"/>
<circle cx="207.59" cy="421.04" r="0.78" fill="#a0a0a0"/>
<circle cx="222.91" cy="371.76" r="1.83" fill="#7e7e7e" stroke="#a6a6a6" stroke-width="0.7"/>
<circle cx="222.91" cy="371.76" r="2.33" fill="none" stroke="#4a4a4a" stroke-width="0.5"/>
<circle cx="222.62" cy="371.44" r="0.74" fill="#a0a0a0"/>
<circle cx="140.45" cy="408.41" r="3.21" fill="#7e7e7e" stroke="#a6a6a6" stroke-width="0.7"/>
<circle cx="140.45" cy="408.41" r="3.71" fill="none" stroke="#4a4a4a" stroke-width="0.5"/>
<circle cx="140.79" cy="408.75" r="0.59" fill="#6e6e6e"/>
<circle cx="141.13" cy="408.10" r="0.48" fill="#6e6e6e"/>
<circle cx="140.46" cy="408.36" r="0.76" fill="#6e6e6e"/>
<circle cx="137.02" cy="424.44" r="4.12" fill="#7e7e7e" stroke="#a6a6a6" stroke-width="0.7"/>
<circle cx="137.02" cy="424.44" r="4.62" fill="none" stroke="#4a4a4a" stroke-width="0.5"/>
<circle cx="137.54" cy="426.06" r="0.68" fill="#a0a0a0"/>
<circle cx="134.09" cy="425.18" r="0.64" fill="#a0a0a0"/>
<circle cx="139.44" cy="426.20" r="0.48" fill="#a0a0a0"/>
<circle cx="135.15" cy="423.72" r="0.67" fill="#6e6e6e"/>
<circle cx="165.65" cy="425.58" r="5.04" fill="#959595" stroke="#262626" stroke-width="0.9"/>
<circle cx="165.65" cy="425.58" r="4.14" fill="none" stroke="#c4c4c4" stroke-width="0.7"/>
<circle cx="163.40" cy="427.00" r="0.65" fill="#b4b4b4"/>
<circle cx="163.64" cy="423.56" r="0.74" fill="#7c7c7c"/>
<circle cx="166.05" cy="424.60" r="0.92" fill="#bcbcbc"/>
<circle cx="165.89" cy="426.16" r="0.93" fill="#6e6e6e"/>
<circle cx="164.98" cy="424.23" r="0.98" fill="#b4b4b4"/>
<circle cx="167.81" cy="426.82" r="0.80" fill="#b4b4b4"/>
<circle cx="168.90" cy="425.91" r="0.97" fill="#7c7c7c"/>
<circle cx="165.17" cy="424.83" r="0.71" fill="#b4b4b4"/>
<circle cx="163.93" cy="424.84" r="0.57" fill="#c4c4c4"/>
<circle cx="178.24" cy="432.00" r="4.12" fill="#7e7e7e" stroke="#a6a6a6" stroke-width="0.7"/>
<circle cx="178.24" cy="432.00" r="4.62" fill="none" stroke="#4a4a4a" stroke-width="0.5"/>
<circle cx="180.55" cy="431.92" r="0.50" fill="#a0a0a0"/>
<circle cx="180.20" cy="432.34" r="0.63" fill="#999"/>
<circle cx="179.12" cy="432.94" r="0.57" fill="#a0a0a0"/>
<circle cx="177.73" cy="430.50" r="0.60" fill="#a0a0a0"/>
<circle cx="154.65" cy="440.47" r="4.58" fill="#7e7e7e" stroke="#a6a6a6" stroke-width="0.7"/>
<circle cx="154.65" cy="440.47" r="5.08" fill="none" stroke="#4a4a4a" stroke-width="0.5"/>
<circle cx="152.03" cy="438.93" r="0.56" fill="#a0a0a0"/>
<circle cx="156.47" cy="442.55" r="0.46" fill="#a0a0a0"/>
<circle cx="151.79" cy="440.25" r="0.60" fill="#a0a0a0"/>
<circle cx="155.56" cy="440.05" r="0.50" fill="#a0a0a0"/>
<circle cx="138.62" cy="437.04" r="1.37" fill="#6a6a6a" stroke="#aaa" stroke-width="0.5"/>
<circle cx="138.16" cy="432.46" r="1.37" fill="#7e7e7e" stroke="#a6a6a6" stroke-width="0.7"/>
<circle cx="138.16" cy="432.46" r="1.87" fill="none" stroke="#4a4a4a" stroke-width="0.5"/>
<circle cx="137.93" cy="432.52" r="0.44" fill="#999"/>
<circle cx="171.37" cy="416.42" r="1.83" fill="#7e7e7e" stroke="#a6a6a6" stroke-width="0.7"/>
<circle cx="171.37" cy="416.42" r="2.33" fill="none" stroke="#4a4a4a" stroke-width="0.5"/>
<circle cx="171.64" cy="416.06" r="0.80" fill="#a0a0a0"/>
<circle cx="134.73" cy="411.84" r="1.15" fill="#6a6a6a" stroke="#aaa" stroke-width="0.5"/>
<circle cx="165.65" cy="448.49" r="1.15" fill="#7e7e7e" stroke="#a6a6a6" stroke-width="0.7"/>
<circle cx="165.65" cy="448.49" r="1.65" fill="none" stroke="#4a4a4a" stroke-width="0.5"/>
<circle cx="165.65" cy="448.49" r="0.49" fill="#6e6e6e"/>
<rect x="131.30" y="399.40" width="58.70" height="59.00" fill="none" stroke="#1e1e1e" stroke-width="1.05"/>
<text x="183.50" y="362.10" font-size="8.4" fill="#fff" stroke="#fff" stroke-width="0.12" font-weight="bold" textLength="52.00" lengthAdjust="spacingAndGlyphs">Pomalidomide</text>
<line x1="213.70" y1="449.40" x2="232.50" y2="449.40" stroke="#151515" stroke-width="1.35" />
<line x1="172.10" y1="449.40" x2="182.80" y2="449.40" stroke="#151515" stroke-width="1.35" />
<rect x="131.30" y="352.50" width="106.40" height="105.90" fill="none" stroke="#262626" stroke-width="1.0"/>
</g>
<g>
<rect x="246.30" y="352.50" width="106.40" height="105.90" fill="url(#mg246_352)" />
<rect x="246.30" y="399.40" width="58.70" height="59.00" fill="#7e7e7e" />
<rect x="246.30" y="352.50" width="106.40" height="105.90" fill="url(#noise)" opacity="0.16"/>
<circle cx="282.2" cy="421.2" r="2.6" fill="#e8e8e8" stroke="#303030" stroke-width="0.8"/>
<path d="M280.2,419.2 A2.8,2.8 0 0 1 284.6,420.0" fill="none" stroke="#1a1a1a" stroke-width="1.3"/>
<circle cx="269.19" cy="356.87" r="2.29" fill="#959595" stroke="#262626" stroke-width="0.9"/>
<circle cx="269.19" cy="356.87" r="1.39" fill="none" stroke="#c4c4c4" stroke-width="0.7"/>
<circle cx="269.20" cy="356.91" r="0.52" fill="#6e6e6e"/>
<circle cx="269.53" cy="356.69" r="0.88" fill="#6e6e6e"/>
<circle cx="269.01" cy="357.42" r="0.57" fill="#6e6e6e"/>
<circle cx="269.04" cy="356.54" r="0.58" fill="#7c7c7c"/>
<circle cx="287.52" cy="372.90" r="4.12" fill="#959595" stroke="#262626" stroke-width="0.9"/>
<circle cx="287.52" cy="372.90" r="3.22" fill="none" stroke="#c4c4c4" stroke-width="0.7"/>
<circle cx="286.31" cy="374.70" r="0.99" fill="#c4c4c4"/>
<circle cx="287.92" cy="373.28" r="0.56" fill="#b4b4b4"/>
<circle cx="287.51" cy="372.03" r="0.89" fill="#bcbcbc"/>
<circle cx="286.05" cy="372.76" r="0.83" fill="#b4b4b4"/>
<circle cx="286.42" cy="372.22" r="0.79" fill="#7c7c7c"/>
<circle cx="288.29" cy="373.71" r="0.53" fill="#7c7c7c"/>
<circle cx="287.60" cy="374.26" r="0.70" fill="#bcbcbc"/>
<circle cx="261.18" cy="378.63" r="1.83" fill="#7e7e7e" stroke="#a6a6a6" stroke-width="0.7"/>
<circle cx="261.18" cy="378.63" r="2.33" fill="none" stroke="#4a4a4a" stroke-width="0.5"/>
<circle cx="260.90" cy="378.77" r="0.44" fill="#999"/>
<circle cx="286.37" cy="382.07" r="2.29" fill="#959595" stroke="#262626" stroke-width="0.9"/>
<circle cx="286.37" cy="382.07" r="1.39" fill="none" stroke="#c4c4c4" stroke-width="0.7"/>
<circle cx="286.94" cy="382.13" r="0.75" fill="#7c7c7c"/>
<circle cx="286.42" cy="382.15" r="0.62" fill="#b4b4b4"/>
<circle cx="287.06" cy="382.13" r="0.94" fill="#c4c4c4"/>
<circle cx="286.04" cy="381.43" r="0.92" fill="#6e6e6e"/>
<circle cx="311.57" cy="371.76" r="2.29" fill="#7e7e7e" stroke="#a6a6a6" stroke-width="0.7"/>
<circle cx="311.57" cy="371.76" r="2.79" fill="none" stroke="#4a4a4a" stroke-width="0.5"/>
<circle cx="311.59" cy="372.09" r="0.75" fill="#999"/>
<circle cx="312.04" cy="371.43" r="0.49" fill="#a0a0a0"/>
<circle cx="327.60" cy="384.36" r="3.44" fill="#959595" stroke="#262626" stroke-width="0.9"/>
<circle cx="327.60" cy="384.36" r="2.54" fill="none" stroke="#c4c4c4" stroke-width="0.7"/>
<circle cx="328.10" cy="382.76" r="0.56" fill="#c4c4c4"/>
<circle cx="326.01" cy="383.30" r="0.96" fill="#7c7c7c"/>
<circle cx="328.41" cy="384.19" r="0.53" fill="#6e6e6e"/>
<circle cx="328.07" cy="383.16" r="0.89" fill="#7c7c7c"/>
<circle cx="328.97" cy="383.78" r="0.55" fill="#6e6e6e"/>
<circle cx="326.91" cy="383.93" r="0.75" fill="#6e6e6e"/>
<circle cx="316.15" cy="392.37" r="1.83" fill="#7e7e7e" stroke="#a6a6a6" stroke-width="0.7"/>
<circle cx="316.15" cy="392.37" r="2.33" fill="none" stroke="#4a4a4a" stroke-width="0.5"/>
<circle cx="315.98" cy="391.56" r="0.49" fill="#999"/>
<circle cx="349.36" cy="409.55" r="1.83" fill="#7e7e7e" stroke="#a6a6a6" stroke-width="0.7"/>
<circle cx="349.36" cy="409.55" r="2.33" fill="none" stroke="#4a4a4a" stroke-width="0.5"/>
<circle cx="349.10" cy="409.95" r="0.44" fill="#6e6e6e"/>
<circle cx="315.00" cy="421.00" r="1.37" fill="#7e7e7e" stroke="#a6a6a6" stroke-width="0.7"/>
<circle cx="315.00" cy="421.00" r="1.87" fill="none" stroke="#4a4a4a" stroke-width="0.5"/>
<circle cx="314.76" cy="420.80" r="0.69" fill="#999"/>
<circle cx="317.29" cy="425.58" r="1.37" fill="#7e7e7e" stroke="#a6a6a6" stroke-width="0.7"/>
<circle cx="317.29" cy="425.58" r="1.87" fill="none" stroke="#4a4a4a" stroke-width="0.5"/>
<circle cx="317.12" cy="425.89" r="0.53" fill="#a0a0a0"/>
<circle cx="332.18" cy="438.18" r="4.12" fill="#959595" stroke="#262626" stroke-width="0.9"/>
<circle cx="332.18" cy="438.18" r="3.22" fill="none" stroke="#c4c4c4" stroke-width="0.7"/>
<circle cx="331.95" cy="438.00" r="0.97" fill="#7c7c7c"/>
<circle cx="332.78" cy="439.35" r="0.72" fill="#b4b4b4"/>
<circle cx="331.95" cy="438.67" r="0.77" fill="#c4c4c4"/>
<circle cx="333.71" cy="440.25" r="0.63" fill="#c4c4c4"/>
<circle cx="331.56" cy="437.81" r="0.65" fill="#6e6e6e"/>
<circle cx="332.01" cy="437.65" r="0.58" fill="#bcbcbc"/>
<circle cx="332.30" cy="438.50" r="0.86" fill="#6e6e6e"/>
<circle cx="323.02" cy="442.76" r="2.29" fill="#7e7e7e" stroke="#a6a6a6" stroke-width="0.7"/>
<circle cx="323.02" cy="442.76" r="2.79" fill="none" stroke="#4a4a4a" stroke-width="0.5"/>
<circle cx="323.51" cy="443.70" r="0.56" fill="#6e6e6e"/>
<circle cx="322.51" cy="442.84" r="0.76" fill="#6e6e6e"/>
<circle cx="335.62" cy="446.20" r="1.83" fill="#7e7e7e" stroke="#a6a6a6" stroke-width="0.7"/>
<circle cx="335.62" cy="446.20" r="2.33" fill="none" stroke="#4a4a4a" stroke-width="0.5"/>
<circle cx="334.93" cy="446.54" r="0.47" fill="#6e6e6e"/>
<circle cx="347.07" cy="393.52" r="1.37" fill="#7e7e7e" stroke="#a6a6a6" stroke-width="0.7"/>
<circle cx="347.07" cy="393.52" r="1.87" fill="none" stroke="#4a4a4a" stroke-width="0.5"/>
<circle cx="347.18" cy="393.46" r="0.55" fill="#a0a0a0"/>
<circle cx="257.74" cy="382.07" r="1.37" fill="#6a6a6a" stroke="#aaa" stroke-width="0.5"/>
<ellipse cx="296.00" cy="386.00" rx="4.80" ry="3.20" fill="#9a9a9a" opacity="0.2"/>
<circle cx="295.64" cy="387.75" r="0.80" fill="#9c9c9c" opacity="0.85"/>
<circle cx="298.16" cy="382.88" r="0.41" fill="#505050" opacity="0.85"/>
<circle cx="291.58" cy="382.25" r="0.35" fill="#5c5c5c" opacity="0.85"/>
<circle cx="294.84" cy="382.94" r="0.78" fill="#a8a8a8" opacity="0.85"/>
<circle cx="298.00" cy="386.86" r="0.60" fill="#5c5c5c" opacity="0.85"/>
<circle cx="294.33" cy="388.12" r="0.72" fill="#5c5c5c" opacity="0.85"/>
<circle cx="297.37" cy="382.16" r="0.66" fill="#b4b4b4" opacity="0.85"/>
<circle cx="300.36" cy="383.43" r="0.61" fill="#a8a8a8" opacity="0.85"/>
<circle cx="301.36" cy="386.52" r="0.72" fill="#a8a8a8" opacity="0.85"/>
<circle cx="291.95" cy="384.39" r="0.57" fill="#505050" opacity="0.85"/>
<circle cx="289.78" cy="384.82" r="0.37" fill="#cccccc" opacity="0.85"/>
<circle cx="299.62" cy="385.72" r="0.53" fill="#a8a8a8" opacity="0.85"/>
<circle cx="297.18" cy="381.83" r="0.67" fill="#5c5c5c" opacity="0.85"/>
<circle cx="295.84" cy="381.32" r="0.48" fill="#9c9c9c" opacity="0.85"/>
<circle cx="295.70" cy="387.40" r="0.39" fill="#b4b4b4" opacity="0.85"/>
<circle cx="291.98" cy="388.46" r="0.50" fill="#b0b0b0" opacity="0.85"/>
<circle cx="295.32" cy="389.77" r="0.43" fill="#5c5c5c" opacity="0.85"/>
<circle cx="297.69" cy="384.86" r="0.36" fill="#c4c4c4" opacity="0.85"/>
<circle cx="292.52" cy="388.54" r="0.60" fill="#c4c4c4" opacity="0.85"/>
<circle cx="295.02" cy="381.51" r="0.42" fill="#cccccc" opacity="0.85"/>
<circle cx="294.53" cy="387.01" r="0.73" fill="#9c9c9c" opacity="0.85"/>
<circle cx="297.74" cy="386.19" r="0.41" fill="#c4c4c4" opacity="0.85"/>
<circle cx="294.17" cy="390.26" r="0.58" fill="#a8a8a8" opacity="0.85"/>
<circle cx="299.72" cy="389.80" r="0.59" fill="#c4c4c4" opacity="0.85"/>
<circle cx="295.15" cy="387.93" r="0.42" fill="#cccccc" opacity="0.85"/>
<circle cx="293.90" cy="386.98" r="0.41" fill="#b0b0b0" opacity="0.85"/>
<circle cx="294.42" cy="388.10" r="0.71" fill="#9c9c9c" opacity="0.85"/>
<circle cx="299.52" cy="387.45" r="0.74" fill="#cccccc" opacity="0.85"/>
<circle cx="301.53" cy="383.99" r="0.61" fill="#a8a8a8" opacity="0.85"/>
<circle cx="293.83" cy="384.81" r="0.49" fill="#9c9c9c" opacity="0.85"/>
<circle cx="291.59" cy="387.93" r="0.43" fill="#a8a8a8" opacity="0.85"/>
<circle cx="300.31" cy="384.80" r="0.49" fill="#5c5c5c" opacity="0.85"/>
<circle cx="299.84" cy="389.32" r="0.52" fill="#a8a8a8" opacity="0.85"/>
<circle cx="294.44" cy="387.57" r="0.56" fill="#cccccc" opacity="0.85"/>
<circle cx="297.60" cy="383.41" r="0.67" fill="#9c9c9c" opacity="0.85"/>
<circle cx="299.25" cy="387.60" r="0.51" fill="#b4b4b4" opacity="0.85"/>
<circle cx="294.41" cy="383.14" r="0.69" fill="#9c9c9c" opacity="0.85"/>
<circle cx="291.92" cy="385.02" r="0.41" fill="#5c5c5c" opacity="0.85"/>
<circle cx="302.06" cy="387.91" r="0.66" fill="#a8a8a8" opacity="0.85"/>
<circle cx="293.39" cy="383.37" r="0.71" fill="#b4b4b4" opacity="0.85"/>
<circle cx="290.73" cy="385.35" r="0.53" fill="#c4c4c4" opacity="0.85"/>
<circle cx="293.98" cy="385.49" r="0.40" fill="#505050" opacity="0.85"/>
<circle cx="299.80" cy="389.01" r="0.77" fill="#b4b4b4" opacity="0.85"/>
<circle cx="296.70" cy="386.16" r="0.69" fill="#505050" opacity="0.85"/>
<circle cx="299.98" cy="384.72" r="0.42" fill="#c4c4c4" opacity="0.85"/>
<circle cx="289.27" cy="385.22" r="0.79" fill="#b0b0b0" opacity="0.85"/>
<circle cx="296.18" cy="385.69" r="0.66" fill="#505050" opacity="0.85"/>
<circle cx="293.94" cy="389.87" r="0.77" fill="#cccccc" opacity="0.85"/>
<circle cx="300.64" cy="386.69" r="0.66" fill="#c4c4c4" opacity="0.85"/>
<circle cx="290.86" cy="387.10" r="0.78" fill="#9c9c9c" opacity="0.85"/>
<circle cx="302.81" cy="386.21" r="0.60" fill="#cccccc" opacity="0.85"/>
<circle cx="295.35" cy="385.86" r="0.67" fill="#cccccc" opacity="0.85"/>
<ellipse cx="337.00" cy="387.00" rx="6.40" ry="4.00" fill="#9a9a9a" opacity="0.2"/>
<circle cx="339.61" cy="383.72" r="0.64" fill="#b4b4b4" opacity="0.85"/>
<circle cx="340.23" cy="387.59" r="0.39" fill="#a8a8a8" opacity="0.85"/>
<circle cx="333.25" cy="388.70" r="0.64" fill="#cccccc" opacity="0.85"/>
<circle cx="330.37" cy="388.50" r="0.61" fill="#cccccc" opacity="0.85"/>
<circle cx="330.08" cy="386.17" r="0.79" fill="#cccccc" opacity="0.85"/>
<circle cx="344.87" cy="385.61" r="0.38" fill="#b0b0b0" opacity="0.85"/>
<circle cx="341.02" cy="389.47" r="0.59" fill="#c4c4c4" opacity="0.85"/>
<circle cx="343.85" cy="384.63" r="0.78" fill="#505050" opacity="0.85"/>
<circle cx="337.80" cy="389.78" r="0.53" fill="#b4b4b4" opacity="0.85"/>
<circle cx="336.73" cy="387.72" r="0.49" fill="#b0b0b0" opacity="0.85"/>
<circle cx="333.69" cy="383.01" r="0.69" fill="#5c5c5c" opacity="0.85"/>
<circle cx="330.18" cy="384.86" r="0.56" fill="#c4c4c4" opacity="0.85"/>
<circle cx="332.00" cy="387.72" r="0.39" fill="#b4b4b4" opacity="0.85"/>
<circle cx="342.16" cy="385.89" r="0.73" fill="#b4b4b4" opacity="0.85"/>
<circle cx="339.71" cy="383.16" r="0.45" fill="#c4c4c4" opacity="0.85"/>
<circle cx="331.89" cy="390.44" r="0.50" fill="#a8a8a8" opacity="0.85"/>
<circle cx="329.01" cy="384.17" r="0.62" fill="#b0b0b0" opacity="0.85"/>
<circle cx="343.71" cy="390.57" r="0.50" fill="#9c9c9c" opacity="0.85"/>
<circle cx="335.24" cy="381.69" r="0.43" fill="#c4c4c4" opacity="0.85"/>
<circle cx="344.20" cy="386.01" r="0.56" fill="#a8a8a8" opacity="0.85"/>
<circle cx="342.35" cy="386.64" r="0.77" fill="#505050" opacity="0.85"/>
<circle cx="341.66" cy="389.23" r="0.59" fill="#b0b0b0" opacity="0.85"/>
<circle cx="341.66" cy="386.19" r="0.38" fill="#b4b4b4" opacity="0.85"/>
<circle cx="329.16" cy="385.96" r="0.38" fill="#9c9c9c" opacity="0.85"/>
<circle cx="329.40" cy="385.26" r="0.74" fill="#b0b0b0" opacity="0.85"/>
<circle cx="336.63" cy="392.43" r="0.51" fill="#b4b4b4" opacity="0.85"/>
<circle cx="342.16" cy="387.50" r="0.52" fill="#b4b4b4" opacity="0.85"/>
<circle cx="332.93" cy="385.57" r="0.39" fill="#cccccc" opacity="0.85"/>
<circle cx="339.25" cy="386.23" r="0.51" fill="#5c5c5c" opacity="0.85"/>
<circle cx="338.66" cy="388.31" r="0.55" fill="#cccccc" opacity="0.85"/>
<circle cx="337.35" cy="389.53" r="0.77" fill="#5c5c5c" opacity="0.85"/>
<circle cx="332.34" cy="391.58" r="0.65" fill="#cccccc" opacity="0.85"/>
<circle cx="340.38" cy="383.80" r="0.39" fill="#505050" opacity="0.85"/>
<circle cx="344.01" cy="386.43" r="0.42" fill="#b4b4b4" opacity="0.85"/>
<circle cx="342.61" cy="385.13" r="0.53" fill="#c4c4c4" opacity="0.85"/>
<circle cx="339.98" cy="384.32" r="0.35" fill="#505050" opacity="0.85"/>
<circle cx="343.78" cy="389.78" r="0.41" fill="#c4c4c4" opacity="0.85"/>
<circle cx="330.08" cy="388.62" r="0.67" fill="#c4c4c4" opacity="0.85"/>
<circle cx="338.58" cy="386.90" r="0.49" fill="#9c9c9c" opacity="0.85"/>
<circle cx="341.58" cy="388.14" r="0.61" fill="#505050" opacity="0.85"/>
<circle cx="341.36" cy="386.67" r="0.64" fill="#a8a8a8" opacity="0.85"/>
<circle cx="337.59" cy="389.86" r="0.55" fill="#a8a8a8" opacity="0.85"/>
<circle cx="342.45" cy="386.70" r="0.80" fill="#9c9c9c" opacity="0.85"/>
<circle cx="344.85" cy="384.86" r="0.67" fill="#cccccc" opacity="0.85"/>
<circle cx="333.16" cy="391.79" r="0.59" fill="#c4c4c4" opacity="0.85"/>
<circle cx="335.72" cy="385.31" r="0.40" fill="#cccccc" opacity="0.85"/>
<circle cx="336.81" cy="382.09" r="0.73" fill="#9c9c9c" opacity="0.85"/>
<circle cx="343.82" cy="389.48" r="0.56" fill="#b0b0b0" opacity="0.85"/>
<circle cx="329.17" cy="387.85" r="0.57" fill="#b0b0b0" opacity="0.85"/>
<circle cx="341.66" cy="385.62" r="0.75" fill="#a8a8a8" opacity="0.85"/>
<circle cx="344.16" cy="386.85" r="0.52" fill="#9c9c9c" opacity="0.85"/>
<circle cx="329.87" cy="383.93" r="0.46" fill="#505050" opacity="0.85"/>
<circle cx="333.49" cy="381.42" r="0.58" fill="#b0b0b0" opacity="0.85"/>
<circle cx="329.96" cy="387.15" r="0.44" fill="#c4c4c4" opacity="0.85"/>
<circle cx="331.62" cy="391.91" r="0.38" fill="#a8a8a8" opacity="0.85"/>
<circle cx="340.01" cy="388.72" r="0.63" fill="#cccccc" opacity="0.85"/>
<circle cx="344.10" cy="384.90" r="0.53" fill="#b4b4b4" opacity="0.85"/>
<circle cx="330.92" cy="384.92" r="0.36" fill="#505050" opacity="0.85"/>
<circle cx="329.47" cy="386.22" r="0.69" fill="#505050" opacity="0.85"/>
<circle cx="333.95" cy="389.84" r="0.51" fill="#505050" opacity="0.85"/>
<circle cx="331.85" cy="383.98" r="0.44" fill="#5c5c5c" opacity="0.85"/>
<circle cx="344.62" cy="383.66" r="0.68" fill="#9c9c9c" opacity="0.85"/>
<circle cx="338.30" cy="385.81" r="0.36" fill="#5c5c5c" opacity="0.85"/>
<circle cx="334.52" cy="381.36" r="0.70" fill="#b4b4b4" opacity="0.85"/>
<circle cx="331.63" cy="389.76" r="0.69" fill="#b0b0b0" opacity="0.85"/>
<ellipse cx="273.00" cy="428.00" rx="4.00" ry="6.40" fill="#9a9a9a" opacity="0.2"/>
<circle cx="269.60" cy="434.90" r="0.76" fill="#b4b4b4" opacity="0.85"/>
<circle cx="272.55" cy="420.00" r="0.61" fill="#c4c4c4" opacity="0.85"/>
<circle cx="276.00" cy="435.33" r="0.49" fill="#cccccc" opacity="0.85"/>
<circle cx="272.38" cy="437.16" r="0.36" fill="#cccccc" opacity="0.85"/>
<circle cx="271.09" cy="432.78" r="0.70" fill="#a8a8a8" opacity="0.85"/>
<circle cx="276.58" cy="430.81" r="0.59" fill="#b4b4b4" opacity="0.85"/>
<circle cx="276.31" cy="421.32" r="0.71" fill="#cccccc" opacity="0.85"/>
<circle cx="274.31" cy="419.72" r="0.47" fill="#a8a8a8" opacity="0.85"/>
<circle cx="268.68" cy="433.76" r="0.53" fill="#505050" opacity="0.85"/>
<circle cx="273.88" cy="435.83" r="0.66" fill="#b4b4b4" opacity="0.85"/>
<circle cx="268.04" cy="427.05" r="0.79" fill="#c4c4c4" opacity="0.85"/>
<circle cx="273.89" cy="418.87" r="0.39" fill="#b4b4b4" opacity="0.85"/>
<circle cx="273.01" cy="423.43" r="0.80" fill="#9c9c9c" opacity="0.85"/>
<circle cx="268.68" cy="433.61" r="0.55" fill="#9c9c9c" opacity="0.85"/>
<circle cx="277.15" cy="434.91" r="0.44" fill="#cccccc" opacity="0.85"/>
<circle cx="272.83" cy="428.76" r="0.50" fill="#505050" opacity="0.85"/>
<circle cx="268.57" cy="432.29" r="0.49" fill="#505050" opacity="0.85"/>
<circle cx="275.98" cy="421.28" r="0.53" fill="#505050" opacity="0.85"/>
<circle cx="271.48" cy="426.91" r="0.40" fill="#a8a8a8" opacity="0.85"/>
<circle cx="268.96" cy="426.28" r="0.68" fill="#a8a8a8" opacity="0.85"/>
<circle cx="270.97" cy="425.10" r="0.72" fill="#c4c4c4" opacity="0.85"/>
<circle cx="270.90" cy="424.88" r="0.53" fill="#b0b0b0" opacity="0.85"/>
<circle cx="272.73" cy="431.67" r="0.63" fill="#9c9c9c" opacity="0.85"/>
<circle cx="275.27" cy="426.36" r="0.78" fill="#5c5c5c" opacity="0.85"/>
<circle cx="267.57" cy="429.86" r="0.59" fill="#505050" opacity="0.85"/>
<circle cx="267.32" cy="429.05" r="0.64" fill="#9c9c9c" opacity="0.85"/>
<circle cx="272.55" cy="420.97" r="0.38" fill="#c4c4c4" opacity="0.85"/>
<circle cx="278.14" cy="427.61" r="0.73" fill="#c4c4c4" opacity="0.85"/>
<circle cx="274.27" cy="431.26" r="0.51" fill="#5c5c5c" opacity="0.85"/>
<circle cx="274.76" cy="421.95" r="0.66" fill="#5c5c5c" opacity="0.85"/>
<circle cx="274.36" cy="425.23" r="0.51" fill="#5c5c5c" opacity="0.85"/>
<circle cx="272.63" cy="429.19" r="0.68" fill="#5c5c5c" opacity="0.85"/>
<circle cx="272.68" cy="428.02" r="0.39" fill="#505050" opacity="0.85"/>
<circle cx="268.21" cy="429.37" r="0.75" fill="#cccccc" opacity="0.85"/>
<circle cx="276.06" cy="432.72" r="0.35" fill="#a8a8a8" opacity="0.85"/>
<circle cx="274.77" cy="434.47" r="0.63" fill="#505050" opacity="0.85"/>
<circle cx="270.31" cy="423.95" r="0.65" fill="#a8a8a8" opacity="0.85"/>
<circle cx="274.52" cy="434.85" r="0.38" fill="#5c5c5c" opacity="0.85"/>
<circle cx="273.30" cy="424.05" r="0.40" fill="#9c9c9c" opacity="0.85"/>
<circle cx="267.56" cy="424.32" r="0.48" fill="#b0b0b0" opacity="0.85"/>
<circle cx="274.24" cy="433.78" r="0.65" fill="#a8a8a8" opacity="0.85"/>
<circle cx="273.38" cy="433.90" r="0.54" fill="#a8a8a8" opacity="0.85"/>
<circle cx="270.62" cy="427.27" r="0.42" fill="#5c5c5c" opacity="0.85"/>
<circle cx="271.81" cy="424.92" r="0.57" fill="#505050" opacity="0.85"/>
<circle cx="275.61" cy="426.72" r="0.42" fill="#c4c4c4" opacity="0.85"/>
<circle cx="276.14" cy="430.64" r="0.65" fill="#9c9c9c" opacity="0.85"/>
<circle cx="275.39" cy="430.35" r="0.36" fill="#b4b4b4" opacity="0.85"/>
<circle cx="276.75" cy="432.02" r="0.40" fill="#a8a8a8" opacity="0.85"/>
<circle cx="269.03" cy="434.77" r="0.59" fill="#b0b0b0" opacity="0.85"/>
<circle cx="269.87" cy="435.88" r="0.60" fill="#b0b0b0" opacity="0.85"/>
<circle cx="267.43" cy="424.45" r="0.70" fill="#c4c4c4" opacity="0.85"/>
<circle cx="268.07" cy="426.05" r="0.79" fill="#b4b4b4" opacity="0.85"/>
<circle cx="273.17" cy="423.54" r="0.55" fill="#b0b0b0" opacity="0.85"/>
<circle cx="273.62" cy="436.43" r="0.68" fill="#505050" opacity="0.85"/>
<circle cx="277.78" cy="431.72" r="0.67" fill="#b0b0b0" opacity="0.85"/>
<circle cx="272.06" cy="418.57" r="0.71" fill="#b0b0b0" opacity="0.85"/>
<circle cx="272.57" cy="435.82" r="0.66" fill="#cccccc" opacity="0.85"/>
<circle cx="277.08" cy="429.81" r="0.64" fill="#b4b4b4" opacity="0.85"/>
<ellipse cx="349.00" cy="397.00" rx="2.40" ry="2.40" fill="#9a9a9a" opacity="0.2"/>
<circle cx="350.69" cy="399.82" r="0.40" fill="#5c5c5c" opacity="0.85"/>
<circle cx="348.05" cy="397.10" r="0.55" fill="#c4c4c4" opacity="0.85"/>
<circle cx="351.45" cy="396.54" r="0.59" fill="#5c5c5c" opacity="0.85"/>
<circle cx="347.99" cy="397.85" r="0.63" fill="#b4b4b4" opacity="0.85"/>
<circle cx="350.87" cy="398.12" r="0.51" fill="#c4c4c4" opacity="0.85"/>
<circle cx="347.69" cy="399.81" r="0.62" fill="#cccccc" opacity="0.85"/>
<circle cx="349.60" cy="395.74" r="0.76" fill="#505050" opacity="0.85"/>
<circle cx="349.33" cy="399.04" r="0.78" fill="#c4c4c4" opacity="0.85"/>
<circle cx="346.47" cy="398.02" r="0.64" fill="#b4b4b4" opacity="0.85"/>
<circle cx="346.29" cy="395.16" r="0.66" fill="#9c9c9c" opacity="0.85"/>
<circle cx="348.75" cy="395.66" r="0.76" fill="#a8a8a8" opacity="0.85"/>
<circle cx="348.17" cy="399.17" r="0.48" fill="#cccccc" opacity="0.85"/>
<circle cx="350.90" cy="395.92" r="0.58" fill="#5c5c5c" opacity="0.85"/>
<circle cx="349.27" cy="399.49" r="0.57" fill="#c4c4c4" opacity="0.85"/>
<circle cx="350.21" cy="396.85" r="0.56" fill="#505050" opacity="0.85"/>
<circle cx="351.38" cy="394.32" r="0.71" fill="#5c5c5c" opacity="0.85"/>
<circle cx="351.52" cy="399.28" r="0.57" fill="#9c9c9c" opacity="0.85"/>
<circle cx="349.16" cy="398.00" r="0.52" fill="#cccccc" opacity="0.85"/>
<circle cx="351.05" cy="394.24" r="0.37" fill="#c4c4c4" opacity="0.85"/>
<rect x="246.30" y="399.40" width="58.70" height="59.00" fill="none" stroke="#1e1e1e" stroke-width="1.05"/>
<polygon points="279.40,384.40 271.70,388.30 271.70,385.95 265.60,385.95 265.60,382.85 271.70,382.85 271.70,380.50" fill="#fff" stroke="#3a3a3a" stroke-width="0.55" stroke-linejoin="miter"/>
<polygon points="328.37,395.03 325.68,403.24 324.02,401.58 319.70,405.89 317.51,403.70 321.82,399.38 320.16,397.72" fill="#fff" stroke="#3a3a3a" stroke-width="0.55" stroke-linejoin="miter"/>
<polygon points="330.60,425.40 326.70,417.70 329.05,417.70 329.05,411.60 332.15,411.60 332.15,417.70 334.50,417.70" fill="#fff" stroke="#3a3a3a" stroke-width="0.55" stroke-linejoin="miter"/>
<text x="298.00" y="362.10" font-size="8.4" fill="#fff" stroke="#fff" stroke-width="0.12" font-weight="bold" textLength="52.00" lengthAdjust="spacingAndGlyphs">Pomalidomide</text>
<text x="313.90" y="369.90" font-size="8.4" fill="#fff" stroke="#fff" stroke-width="0.12" font-weight="bold" textLength="36.10" lengthAdjust="spacingAndGlyphs">+estradiol</text>
<line x1="329.20" y1="449.40" x2="348.20" y2="449.40" stroke="#151515" stroke-width="1.35" />
<line x1="287.50" y1="449.40" x2="298.50" y2="449.40" stroke="#151515" stroke-width="1.35" />
<rect x="246.30" y="352.50" width="106.40" height="105.90" fill="none" stroke="#262626" stroke-width="1.0"/>
</g>
<rect x="412.90" y="226.42" width="17.50" height="62.98" fill="#a0002b" />
<rect x="439.40" y="267.59" width="16.90" height="21.81" fill="#a0002b" />
<rect x="465.60" y="234.82" width="16.90" height="54.58" fill="#a0002b" />
<line x1="421.65" y1="226.42" x2="421.65" y2="219.66" stroke="#2a2a2a" stroke-width="1.1" />
<line x1="419.75" y1="219.66" x2="423.55" y2="219.66" stroke="#2a2a2a" stroke-width="1.1" />
<line x1="447.85" y1="267.59" x2="447.85" y2="263.86" stroke="#2a2a2a" stroke-width="1.1" />
<line x1="445.95" y1="263.86" x2="449.75" y2="263.86" stroke="#2a2a2a" stroke-width="1.1" />
<line x1="474.05" y1="234.82" x2="474.05" y2="227.36" stroke="#2a2a2a" stroke-width="1.1" />
<line x1="472.15" y1="227.36" x2="475.95" y2="227.36" stroke="#2a2a2a" stroke-width="1.1" />
<line x1="408.70" y1="194.60" x2="408.70" y2="291.70" stroke="#111" stroke-width="1.1" />
<line x1="408.70" y1="289.40" x2="489.60" y2="289.40" stroke="#111" stroke-width="1.1" />
<line x1="434.90" y1="289.40" x2="434.90" y2="291.70" stroke="#111" stroke-width="1.0" />
<line x1="461.70" y1="289.40" x2="461.70" y2="291.70" stroke="#111" stroke-width="1.0" />
<line x1="488.30" y1="289.40" x2="488.30" y2="291.70" stroke="#111" stroke-width="1.0" />
<line x1="406.10" y1="289.40" x2="408.70" y2="289.40" stroke="#111" stroke-width="1.0" />
<text x="402.00" y="292.30" font-size="8.0" fill="#222" text-anchor="end" textLength="4.30" lengthAdjust="spacingAndGlyphs">0</text>
<line x1="406.10" y1="266.07" x2="408.70" y2="266.07" stroke="#111" stroke-width="1.0" />
<text x="402.00" y="268.97" font-size="8.0" fill="#222" text-anchor="end" textLength="8.40" lengthAdjust="spacingAndGlyphs">10</text>
<line x1="406.10" y1="242.75" x2="408.70" y2="242.75" stroke="#111" stroke-width="1.0" />
<text x="402.00" y="245.65" font-size="8.0" fill="#222" text-anchor="end" textLength="8.40" lengthAdjust="spacingAndGlyphs">20</text>
<line x1="406.10" y1="219.42" x2="408.70" y2="219.42" stroke="#111" stroke-width="1.0" />
<text x="402.00" y="222.32" font-size="8.0" fill="#222" text-anchor="end" textLength="8.40" lengthAdjust="spacingAndGlyphs">30</text>
<line x1="406.10" y1="196.10" x2="408.70" y2="196.10" stroke="#111" stroke-width="1.0" />
<text x="402.00" y="199.00" font-size="8.0" fill="#222" text-anchor="end" textLength="8.40" lengthAdjust="spacingAndGlyphs">40</text>
<text x="0" y="0" font-size="8.7" fill="#222" text-anchor="middle" textLength="74.00" lengthAdjust="spacingAndGlyphs" transform="translate(376.20,241.25) rotate(-90)">% of megakaryocytes</text>
<text x="0" y="0" font-size="8.7" fill="#222" text-anchor="middle" textLength="59.20" lengthAdjust="spacingAndGlyphs" transform="translate(387.00,241.25) rotate(-90)">with proplatelets</text>
<path d="M421.60,196.60 L421.60,192.00 L474.70,192.00 L474.70,196.60" fill="none" stroke="#222" stroke-width="0.95"/>
<path d="M421.60,215.00 L421.60,210.50 L446.40,210.50 L446.40,215.00" fill="none" stroke="#222" stroke-width="0.95"/>
<path d="M450.20,215.00 L450.20,210.50 L474.70,210.50 L474.70,215.00" fill="none" stroke="#222" stroke-width="0.95"/>
<text x="434.00" y="186.60" font-size="7.2" fill="#222" textLength="27.40" lengthAdjust="spacingAndGlyphs"><tspan font-style="italic">P</tspan> = 0.25</text>
<text x="419.00" y="206.10" font-size="7.2" fill="#222" textLength="27.40" lengthAdjust="spacingAndGlyphs"><tspan font-style="italic">P</tspan> = 0.01</text>
<text x="450.20" y="206.10" font-size="7.2" fill="#222" textLength="25.80" lengthAdjust="spacingAndGlyphs"><tspan font-style="italic">P</tspan> &lt; 0.01</text>
<text x="413.00" y="303.30" font-size="8.3" fill="#222" textLength="17.80" lengthAdjust="spacingAndGlyphs">Cont</text>
<text x="441.20" y="303.30" font-size="8.3" fill="#222" textLength="12.50" lengthAdjust="spacingAndGlyphs">Len</text>
<text x="467.90" y="303.30" font-size="8.3" fill="#222" textLength="12.00" lengthAdjust="spacingAndGlyphs">Len</text>
<text x="467.90" y="312.30" font-size="8.3" fill="#222" textLength="38.60" lengthAdjust="spacingAndGlyphs">+ estradiol</text>
<rect x="412.90" y="392.23" width="17.50" height="65.17" fill="#a0002b" />
<rect x="439.40" y="435.06" width="16.90" height="22.34" fill="#a0002b" />
<rect x="465.60" y="399.21" width="16.90" height="58.19" fill="#a0002b" />
<line x1="421.65" y1="392.23" x2="421.65" y2="383.85" stroke="#2a2a2a" stroke-width="1.1" />
<line x1="419.75" y1="383.85" x2="423.55" y2="383.85" stroke="#2a2a2a" stroke-width="1.1" />
<line x1="447.85" y1="435.06" x2="447.85" y2="428.31" stroke="#2a2a2a" stroke-width="1.1" />
<line x1="445.95" y1="428.31" x2="449.75" y2="428.31" stroke="#2a2a2a" stroke-width="1.1" />
<line x1="474.05" y1="399.21" x2="474.05" y2="392.46" stroke="#2a2a2a" stroke-width="1.1" />
<line x1="472.15" y1="392.46" x2="475.95" y2="392.46" stroke="#2a2a2a" stroke-width="1.1" />
<line x1="408.90" y1="362.80" x2="408.90" y2="459.70" stroke="#111" stroke-width="1.1" />
<line x1="408.90" y1="457.40" x2="489.60" y2="457.40" stroke="#111" stroke-width="1.1" />
<line x1="434.90" y1="457.40" x2="434.90" y2="459.70" stroke="#111" stroke-width="1.0" />
<line x1="461.70" y1="457.40" x2="461.70" y2="459.70" stroke="#111" stroke-width="1.0" />
<line x1="488.30" y1="457.40" x2="488.30" y2="459.70" stroke="#111" stroke-width="1.0" />
<line x1="406.30" y1="457.40" x2="408.90" y2="457.40" stroke="#111" stroke-width="1.0" />
<text x="402.20" y="460.30" font-size="8.0" fill="#222" text-anchor="end" textLength="4.30" lengthAdjust="spacingAndGlyphs">0</text>
<line x1="406.30" y1="434.12" x2="408.90" y2="434.12" stroke="#111" stroke-width="1.0" />
<text x="402.20" y="437.02" font-size="8.0" fill="#222" text-anchor="end" textLength="8.40" lengthAdjust="spacingAndGlyphs">10</text>
<line x1="406.30" y1="410.85" x2="408.90" y2="410.85" stroke="#111" stroke-width="1.0" />
<text x="402.20" y="413.75" font-size="8.0" fill="#222" text-anchor="end" textLength="8.40" lengthAdjust="spacingAndGlyphs">20</text>
<line x1="406.30" y1="387.57" x2="408.90" y2="387.57" stroke="#111" stroke-width="1.0" />
<text x="402.20" y="390.47" font-size="8.0" fill="#222" text-anchor="end" textLength="8.40" lengthAdjust="spacingAndGlyphs">30</text>
<line x1="406.30" y1="364.30" x2="408.90" y2="364.30" stroke="#111" stroke-width="1.0" />
<text x="402.20" y="367.20" font-size="8.0" fill="#222" text-anchor="end" textLength="8.40" lengthAdjust="spacingAndGlyphs">40</text>
<text x="0" y="0" font-size="8.7" fill="#222" text-anchor="middle" textLength="74.00" lengthAdjust="spacingAndGlyphs" transform="translate(376.20,409.35) rotate(-90)">% of megakaryocytes</text>
<text x="0" y="0" font-size="8.7" fill="#222" text-anchor="middle" textLength="59.20" lengthAdjust="spacingAndGlyphs" transform="translate(387.00,409.35) rotate(-90)">with proplatelets</text>
<path d="M421.60,359.20 L421.60,354.60 L474.70,354.60 L474.70,359.20" fill="none" stroke="#222" stroke-width="0.95"/>
<path d="M421.60,378.60 L421.60,374.40 L446.40,374.40 L446.40,378.60" fill="none" stroke="#222" stroke-width="0.95"/>
<path d="M450.20,378.60 L450.20,374.40 L474.70,374.40 L474.70,378.60" fill="none" stroke="#222" stroke-width="0.95"/>
<text x="434.00" y="348.80" font-size="7.2" fill="#222" textLength="27.40" lengthAdjust="spacingAndGlyphs"><tspan font-style="italic">P</tspan> = 0.36</text>
<text x="419.00" y="370.10" font-size="7.2" fill="#222" textLength="27.40" lengthAdjust="spacingAndGlyphs"><tspan font-style="italic">P</tspan> = 0.02</text>
<text x="450.20" y="370.10" font-size="7.2" fill="#222" textLength="25.80" lengthAdjust="spacingAndGlyphs"><tspan font-style="italic">P</tspan> &lt; 0.01</text>
<text x="413.00" y="471.00" font-size="8.3" fill="#222" textLength="17.80" lengthAdjust="spacingAndGlyphs">Cont</text>
<text x="441.20" y="471.00" font-size="8.3" fill="#222" textLength="16.40" lengthAdjust="spacingAndGlyphs">Pom</text>
<text x="467.60" y="471.00" font-size="8.3" fill="#222" textLength="16.40" lengthAdjust="spacingAndGlyphs">Pom</text>
<text x="467.90" y="480.00" font-size="8.3" fill="#222" textLength="38.60" lengthAdjust="spacingAndGlyphs">+ estradiol</text>
</svg>
</body></html>
